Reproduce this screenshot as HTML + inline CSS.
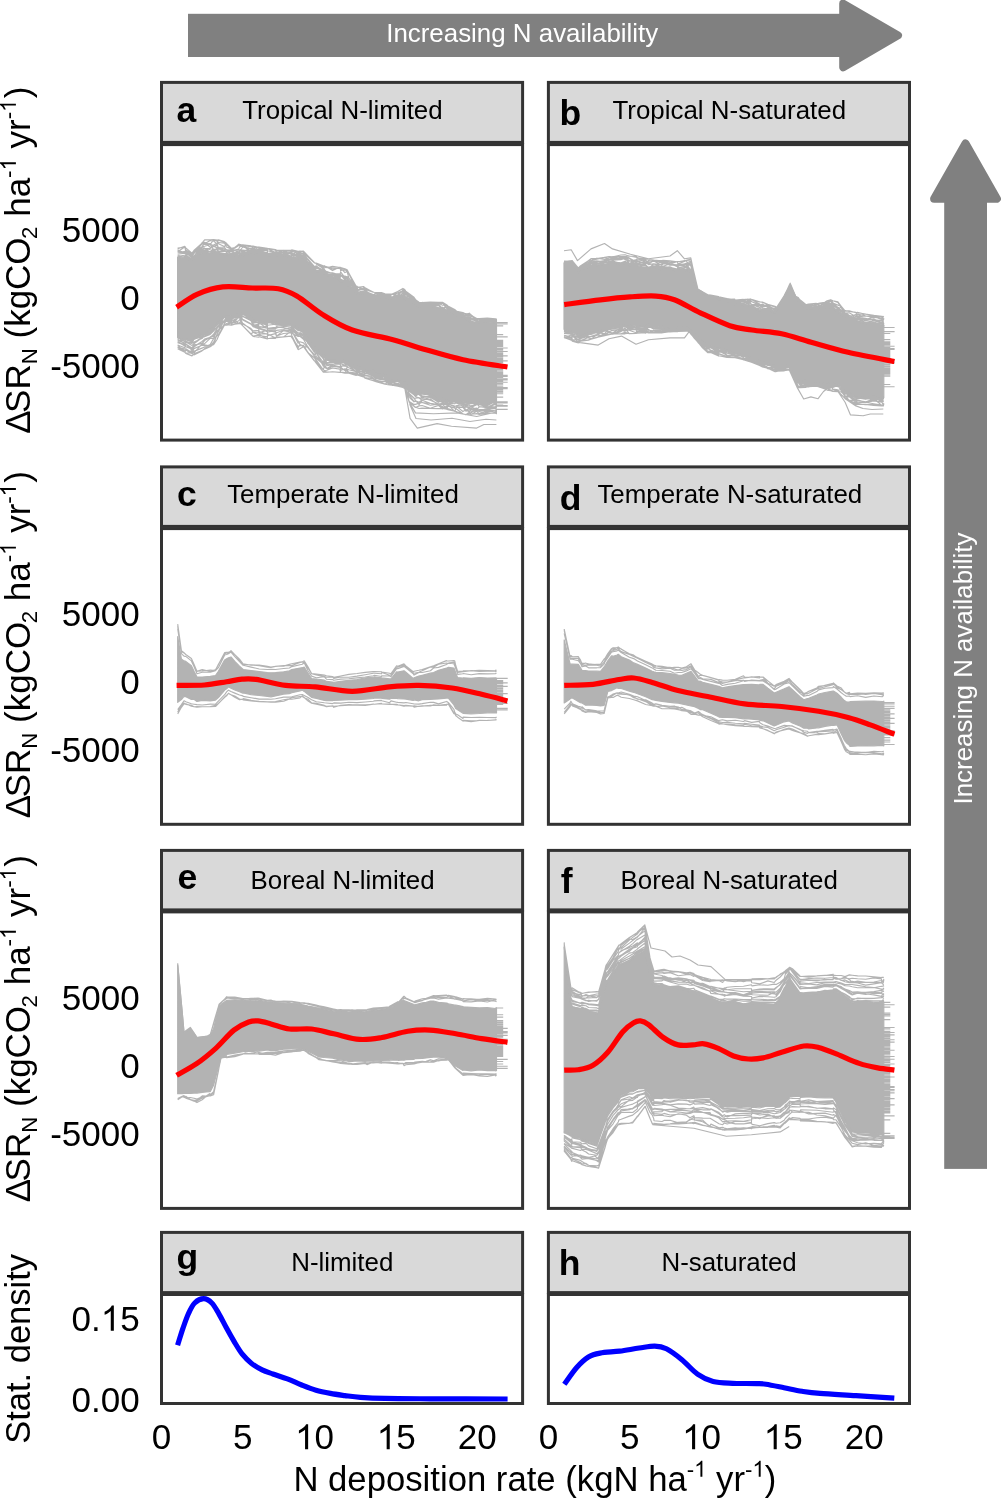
<!DOCTYPE html>
<html><head><meta charset="utf-8"><title>Figure</title>
<style>html,body{margin:0;padding:0;background:#fff}svg{display:block;will-change:transform}text{font-family:"Liberation Sans", sans-serif;fill:#000}</style></head><body>
<svg width="1001" height="1499" viewBox="0 0 1001 1499">
<rect width="1001" height="1499" fill="#fff"/>
<rect x="188" y="13.8" width="655" height="43.2" fill="#808080"/>
<path d="M843.2 3.6L898 35.4L843.2 67.2Z" fill="#808080" stroke="#808080" stroke-width="8" stroke-linejoin="round"/>
<text x="522.2" y="41.8" font-size="25.9" text-anchor="middle" style="fill:#fff">Increasing N availability</text>
<rect x="944.2" y="198" width="42.8" height="970.9" fill="#808080"/>
<path d="M965.5 143.5L996.9 198.7L934.1 198.7Z" fill="#808080" stroke="#808080" stroke-width="8" stroke-linejoin="round"/>
<text transform="translate(972.3 668.5) rotate(-90)" font-size="25.9" text-anchor="middle" style="fill:#fff">Increasing N availability</text>
<g id="panel-a">
<rect x="161.5" y="144.6" width="361.1" height="295.5" fill="#fff"/>
<path d="M177.6 257L184.8 259.1L185.8 258.8L192 259.7L193.9 258.8L202 252.5L204.6 251.7L210.2 253.4L213.6 251.9L217.2 252.1L218.4 253.3L224.4 253.7L226.5 254.1L231.5 254.7L234.7 256L238.7 256.3L240.5 254.2L242.8 254.9L251 252.8L253.1 253.2L258.5 252.8L259.1 254.4L267.3 254L267.5 255.5L275.4 256L276.5 255.7L283.6 254L290.9 256.5L291.7 257.1L298.1 258.1L299.9 256.8L303.5 258.3L308 262.4L314.3 268.8L316.2 271.4L323.3 272.7L324.3 273.9L326.9 275.8L332.5 276.5L340 279.7L340.6 280.3L344.9 283.1L347.2 283.4L348.8 285.7L356.2 292.4L356.9 290.1L358 293.2L363.4 293.6L365.1 293.2L373.2 297.4L376 296.7L381.4 295.8L385 297.6L389.5 298.8L392.1 298.5L397.7 298L402.9 295.9L404.7 297.8L405.8 299.3L409.2 299.6L414 303.6L415.5 304L419.1 306.9L422.1 305.9L430.3 307.1L438.4 308.1L442.5 309.5L446.6 311.7L447.9 310L454.7 313.9L456.9 316.3L462.9 316.4L465.9 319.1L469.5 321L471 322.4L476.7 322.2L479.2 321.4L487.3 321.9L495.5 322.6L496.4 324.4L496.5 322.5L496.5 402.4L496.4 401.1L495.5 401.5L487.3 404.5L479.2 402.9L476.7 402.6L471 402.9L469.5 402.6L465.9 402.6L462.9 401.6L456.9 401.1L454.7 400.5L447.9 400.3L446.6 400.9L442.5 399L438.4 399.4L430.3 395.2L422.1 394L419.1 393.1L415.5 393.1L414 391.6L409.2 389.7L405.8 384.3L404.7 383.9L402.9 383.2L397.7 381.5L392.1 380.9L389.5 379.7L385 375.4L381.4 375.8L376 374.6L373.2 372.2L365.1 371L363.4 368L358 368.7L356.9 365.4L356.2 367.5L348.8 363.1L347.2 361.7L344.9 362.5L340.6 360.4L340 360.8L332.5 360.2L326.9 360.4L324.3 356.6L323.3 356.9L316.2 349L314.3 347.5L308 339L303.5 332.1L299.9 330.3L298.1 329.6L291.7 325.5L290.9 325.1L283.6 325L276.5 324.1L275.4 323.2L267.5 322.2L267.3 325.1L259.1 322.3L258.5 321.2L253.1 320.5L251 317.8L242.8 314L240.5 314.8L238.7 313.5L234.7 315.7L231.5 315.5L226.5 317.1L224.4 316L218.4 322.9L217.2 323.5L213.6 327.7L210.2 331.6L204.6 333.5L202 335.5L193.9 339.3L192 341.3L185.8 339.8L184.8 340L177.6 337.6Z" fill="#b3b3b3" stroke="#b3b3b3" stroke-width="1.2" stroke-linejoin="round"/>
<path d="M177.6 248.7L184.8 246.4L185.8 247.9L192 253.1L193.9 250.5L202 243.1L204.6 239.9L210.2 239.9L213.6 239.5L217.2 240.1L218.4 239.9L224.4 241.6L226.5 243.3L231.5 248.3L234.7 247.6L238.7 244.1L240.5 244.8L242.8 244.9L251 245.9L253.1 246.1L258.5 247.4L259.1 247L267.3 248.3L267.5 248.5L275.4 250.2L276.5 250.1L283.6 250.4L290.9 250.3L291.7 249.9L298.1 251.4L299.9 251.5L303.5 251.1L308 256.1L314.3 262.8L316.2 263.5L323.3 266.1L324.3 265.7L326.9 267.7L332.5 266.4L340 267.6L340.6 267.6L344.9 268.9L347.2 269.9L348.8 272.9L356.2 286.4L356.9 286.2L358 287.4L363.4 286.5L365.1 287.8L373.2 292.3L376 292.5L381.4 292.5L385 293.9L389.5 294.1L392.1 294.1L397.7 291.4L402.9 288.4L404.7 289.5L405.8 291.1L409.2 293.6L414 297.2L415.5 299.6L419.1 302.3L422.1 302.6L430.3 302L438.4 302.4L442.5 302.3L446.6 304.7L447.9 306L454.7 309.5L456.9 311.4L462.9 312.7L465.9 314.1L469.5 313.2L471 315.3L476.7 318.4L479.2 318.5L487.3 318L495.5 318.7L496.4 319.4L496.5 319M177.6 348.7L184.8 352.2L185.8 353.4L192 355.9L193.9 353.8L202 350.6L204.6 348.6L210.2 345.2L213.6 344.8L217.2 339.2L218.4 336.3L224.4 324.7L226.5 324.6L231.5 325.1L234.7 324.2L238.7 323.7L240.5 323.5L242.8 325.8L251 334.4L253.1 336.4L258.5 337.2L259.1 336.7L267.3 339L267.5 338.5L275.4 338.4L276.5 337.1L283.6 336.9L290.9 336.1L291.7 336.8L298.1 349.6L299.9 348.8L303.5 346.7L308 353L314.3 360.8L316.2 361.8L323.3 372.2L324.3 372.1L326.9 372.2L332.5 371.7L340 372.3L340.6 372.3L344.9 373.1L347.2 373.1L348.8 373.3L356.2 375.5L356.9 374.6L358 374.9L363.4 376L365.1 378.3L373.2 380.6L376 381.6L381.4 383.2L385 384.2L389.5 385L392.1 385.3L397.7 386.3L402.9 387.4L404.7 388.5L405.8 391.5L409.2 402.1L414 405.9L415.5 407.2L419.1 408.5L422.1 408.1L430.3 408.4L438.4 408.6L442.5 408.4L446.6 409.2L447.9 409.7L454.7 411.1L456.9 411.9L462.9 413.7L465.9 414.8L469.5 413.7L471 414.3L476.7 413.6L479.2 414.4L487.3 413.1L495.5 413.2L496.4 413.7L496.5 412.7M177.6 256.2L184.8 257.8L185.8 259.4L192 260.5L193.9 257.7L202 251L204.6 250.9L210.2 254.4L213.6 249.5L217.2 252.7L218.4 252.5L224.4 254.6L226.5 253.3L231.5 254.4L234.7 254.4L238.7 255.2L240.5 254.9L242.8 254.7L251 252L253.1 252L258.5 251L259.1 253.8L267.3 253.6L267.5 254.9L275.4 255.5L276.5 254.5L283.6 253.8L290.9 256.1L291.7 257.8L298.1 259.3L299.9 256.4L303.5 257.3L308 262L314.3 267.9L316.2 270.4L323.3 272.2L324.3 272.2L326.9 275.4L332.5 275.3L340 278.9L340.6 279L344.9 281.7L347.2 282.2L348.8 284.8L356.2 291.6L356.9 290.1L358 293L363.4 292.3L365.1 293.1L373.2 296.1L376 296L381.4 295.4L385 295.7L389.5 298.7L392.1 298.4L397.7 297.6L402.9 295.5L404.7 297.3L405.8 298.4L409.2 299.2L414 302.9L415.5 303.8L419.1 305.7L422.1 305.9L430.3 307L438.4 307.7L442.5 308.7L446.6 312L447.9 308.6L454.7 314.2L456.9 316.5L462.9 316.5L465.9 319.1L469.5 320.4L471 322.2L476.7 322.7L479.2 321.7L487.3 322.1L495.5 321.2L496.4 324.7L496.5 323.4M177.6 256.7L184.8 256.7L185.8 258.5L192 258.4L193.9 258.9L202 252.4L204.6 251.8L210.2 253.8L213.6 251.7L217.2 251.8L218.4 252.2L224.4 253.6L226.5 255.3L231.5 256.1L234.7 256.7L238.7 256.8L240.5 253.7L242.8 256L251 252.7L253.1 253.1L258.5 252.4L259.1 254.4L267.3 253.6L267.5 255.4L275.4 254.9L276.5 255.1L283.6 255.8L290.9 256.1L291.7 256.5L298.1 258.3L299.9 257.4L303.5 257.2L308 262.1L314.3 269.5L316.2 271.8L323.3 272.8L324.3 275.4L326.9 275.6L332.5 277L340 279.9L340.6 282.2L344.9 282.2L347.2 283.6L348.8 286L356.2 293.1L356.9 290.8L358 294.7L363.4 292.6L365.1 294.1L373.2 297.4L376 296.3L381.4 296.3L385 296.9L389.5 297.1L392.1 298.3L397.7 296.8L402.9 295.4L404.7 298L405.8 299.5L409.2 300.9L414 303.3L415.5 302.5L419.1 306.1L422.1 304.9L430.3 305.9L438.4 308.3L442.5 308.7L446.6 309.8L447.9 310.3L454.7 313.6L456.9 316.5L462.9 316.4L465.9 319.5L469.5 321.1L471 323.4L476.7 322.5L479.2 321.7L487.3 322.3L495.5 321.3L496.4 324.1L496.5 322.1M177.6 255.5L184.8 258.6L185.8 257.3L192 258.8L193.9 257.1L202 252.1L204.6 251.8L210.2 254.1L213.6 251.7L217.2 252.9L218.4 253.3L224.4 253.5L226.5 254.5L231.5 255.2L234.7 255.2L238.7 255.4L240.5 253.7L242.8 254.5L251 251.8L253.1 254L258.5 252.3L259.1 254.7L267.3 253.4L267.5 256.1L275.4 256.6L276.5 255.7L283.6 256L290.9 257.1L291.7 259L298.1 259.4L299.9 256.5L303.5 258.4L308 263.1L314.3 269.2L316.2 271.9L323.3 272.8L324.3 272.6L326.9 276.1L332.5 275L340 280.7L340.6 280.3L344.9 283.2L347.2 283.9L348.8 286.7L356.2 291.3L356.9 288.7L358 292.6L363.4 291.9L365.1 292.5L373.2 299L376 295.9L381.4 296.4L385 296.4L389.5 299.3L392.1 298.4L397.7 298.2L402.9 296.8L404.7 299.5L405.8 299.5L409.2 299.6L414 302.7L415.5 304.5L419.1 306.5L422.1 306.5L430.3 306.7L438.4 309.3L442.5 307.2L446.6 311L447.9 310.5L454.7 313.2L456.9 315.1L462.9 315.8L465.9 317.3L469.5 320.4L471 323.9L476.7 322.9L479.2 320.3L487.3 320.9L495.5 321.9L496.4 324.8L496.5 321.5M177.6 257.2L184.8 257.4L185.8 255.8L192 259.6L193.9 259.3L202 251.1L204.6 250.4L210.2 252.2L213.6 251.6L217.2 251.9L218.4 253.2L224.4 253.5L226.5 254.2L231.5 255.3L234.7 255.3L238.7 253.2L240.5 252.8L242.8 254.1L251 251.8L253.1 253.3L258.5 252L259.1 253L267.3 255.1L267.5 255.8L275.4 255.9L276.5 256.3L283.6 254.8L290.9 256.3L291.7 254.4L298.1 257.1L299.9 256.1L303.5 257L308 262.2L314.3 269.7L316.2 270.8L323.3 271.3L324.3 275.2L326.9 275.2L332.5 274.5L340 278.2L340.6 279.4L344.9 280.9L347.2 281.8L348.8 282.8L356.2 290.5L356.9 289.7L358 292.9L363.4 291.9L365.1 292.6L373.2 296.2L376 298.8L381.4 294.7L385 298.3L389.5 298L392.1 297.7L397.7 297.7L402.9 295.6L404.7 297.8L405.8 298.2L409.2 297.9L414 302.1L415.5 303.5L419.1 306.6L422.1 306.5L430.3 306.7L438.4 308L442.5 309.5L446.6 310.5L447.9 307.7L454.7 312L456.9 313.9L462.9 317.2L465.9 317L469.5 320.8L471 321.7L476.7 323.3L479.2 322.1L487.3 321.5L495.5 321.9L496.4 323.7L496.5 322.3M177.6 256.5L184.8 257.3L185.8 259.5L192 258.2L193.9 257.9L202 249L204.6 248.7L210.2 251.9L213.6 249L217.2 250.3L218.4 251.2L224.4 250.3L226.5 251.7L231.5 253.3L234.7 254.3L238.7 255.7L240.5 253.3L242.8 252.8L251 250.8L253.1 252.5L258.5 251.7L259.1 253.9L267.3 255.5L267.5 254.7L275.4 254.7L276.5 254.3L283.6 252.1L290.9 253.9L291.7 254L298.1 255.3L299.9 254.7L303.5 256.7L308 260L314.3 266.6L316.2 267.4L323.3 272L324.3 271.6L326.9 274.5L332.5 274.1L340 277.3L340.6 275.6L344.9 278.9L347.2 282L348.8 281L356.2 292.2L356.9 291.2L358 292.4L363.4 293.3L365.1 293.6L373.2 295.6L376 296.4L381.4 294.4L385 296.2L389.5 297.2L392.1 297.6L397.7 296.8L402.9 294.8L404.7 294.6L405.8 299.7L409.2 299.8L414 303.3L415.5 302.7L419.1 306L422.1 305.9L430.3 306.7L438.4 305.4L442.5 309L446.6 313.7L447.9 307.2L454.7 314.3L456.9 316L462.9 315.5L465.9 319.5L469.5 319L471 321.7L476.7 323.3L479.2 320.7L487.3 321.1L495.5 322.1L496.4 323L496.5 323.5M177.6 256.1L184.8 257.1L185.8 255.7L192 259.9L193.9 257.2L202 250.7L204.6 248.3L210.2 249.7L213.6 250.4L217.2 248.3L218.4 251.3L224.4 251.5L226.5 251.8L231.5 250.4L234.7 253.5L238.7 254L240.5 250.6L242.8 251.9L251 247.9L253.1 251.8L258.5 250.1L259.1 253.1L267.3 249.8L267.5 253.7L275.4 253.6L276.5 254.8L283.6 251.7L290.9 253.6L291.7 257.3L298.1 254.9L299.9 253.9L303.5 255.8L308 259.4L314.3 268.2L316.2 270.9L323.3 269.7L324.3 269.3L326.9 274.1L332.5 274.3L340 275.5L340.6 276.1L344.9 276L347.2 277L348.8 278L356.2 288.3L356.9 289.9L358 289.6L363.4 293.5L365.1 291.2L373.2 294.5L376 296.4L381.4 297.1L385 296.9L389.5 295.8L392.1 297.5L397.7 297.5L402.9 293L404.7 294.8L405.8 298L409.2 297.9L414 300.6L415.5 302.1L419.1 304.5L422.1 305.1L430.3 305.8L438.4 307.6L442.5 307.8L446.6 307.8L447.9 309.3L454.7 313.8L456.9 315.6L462.9 316.6L465.9 317.3L469.5 318.2L471 321.9L476.7 320.2L479.2 318.5L487.3 322.4L495.5 321L496.4 322.6L496.5 320M177.6 254.7L184.8 255.8L185.8 255.1L192 259.2L193.9 258L202 248.8L204.6 248.1L210.2 252.1L213.6 251.1L217.2 249L218.4 248.9L224.4 250.8L226.5 251.3L231.5 251.5L234.7 253.8L238.7 252.2L240.5 250.1L242.8 253.7L251 250.2L253.1 251.4L258.5 252.3L259.1 253.4L267.3 252.1L267.5 253.6L275.4 252.9L276.5 255.9L283.6 253.6L290.9 253.2L291.7 255.2L298.1 256.7L299.9 255.4L303.5 258.3L308 262.1L314.3 266.2L316.2 268.8L323.3 269.1L324.3 271.9L326.9 273.6L332.5 277.5L340 277L340.6 275.1L344.9 278.8L347.2 280.9L348.8 281.6L356.2 290.3L356.9 289.1L358 292.7L363.4 292.8L365.1 291.4L373.2 298L376 295.8L381.4 295L385 295.4L389.5 297.1L392.1 298.7L397.7 295.1L402.9 294.7L404.7 297.7L405.8 297.5L409.2 299L414 301.1L415.5 304.6L419.1 307.2L422.1 305.4L430.3 303.9L438.4 305.5L442.5 308.9L446.6 311.9L447.9 309.4L454.7 314.2L456.9 314.1L462.9 314.9L465.9 317.3L469.5 319.4L471 318L476.7 322.1L479.2 322.1L487.3 319.6L495.5 319.9L496.4 323.1L496.5 320.6M177.6 252L184.8 252.8L185.8 253L192 257.8L193.9 258.9L202 247.3L204.6 248.3L210.2 248.5L213.6 246.3L217.2 247.9L218.4 248.6L224.4 249.2L226.5 252.7L231.5 249.8L234.7 252.9L238.7 251.8L240.5 249.5L242.8 250.5L251 250.8L253.1 249.9L258.5 250.7L259.1 251.8L267.3 249.1L267.5 254.5L275.4 256.1L276.5 254.2L283.6 253.7L290.9 252.1L291.7 254.2L298.1 254.2L299.9 253.8L303.5 257.1L308 259.2L314.3 266.6L316.2 266.3L323.3 270.3L324.3 271.7L326.9 272.8L332.5 272.9L340 279.1L340.6 274.9L344.9 277.9L347.2 278.2L348.8 284.1L356.2 293.7L356.9 289.6L358 290.7L363.4 291.3L365.1 293L373.2 294.5L376 297.5L381.4 296.8L385 296.3L389.5 298.2L392.1 298L397.7 297.8L402.9 292.7L404.7 297.3L405.8 296.7L409.2 296.8L414 302.1L415.5 302.3L419.1 304.3L422.1 302.6L430.3 304.2L438.4 307.9L442.5 309.4L446.6 310.3L447.9 310.1L454.7 311.8L456.9 314.4L462.9 315.3L465.9 315.7L469.5 317.2L471 319.6L476.7 320.3L479.2 319L487.3 321.3L495.5 321L496.4 323.6L496.5 321.2M177.6 253L184.8 253.7L185.8 254.1L192 255.8L193.9 252.3L202 246.7L204.6 242.3L210.2 247.2L213.6 246.4L217.2 244.4L218.4 247.8L224.4 249.2L226.5 249.6L231.5 254.4L234.7 254.3L238.7 249.4L240.5 251L242.8 250.4L251 250L253.1 251L258.5 248.8L259.1 249.6L267.3 249.9L267.5 250.8L275.4 252.7L276.5 250.7L283.6 250.7L290.9 254.3L291.7 253.7L298.1 255.3L299.9 251.8L303.5 254.6L308 259.3L314.3 266.6L316.2 267.6L323.3 271.3L324.3 270.8L326.9 272.6L332.5 273.1L340 276L340.6 275.2L344.9 279.9L347.2 279L348.8 281L356.2 290.4L356.9 289.6L358 292.2L363.4 292.4L365.1 291.6L373.2 296.3L376 295.4L381.4 296.6L385 296L389.5 294.1L392.1 298.4L397.7 295L402.9 290.9L404.7 293.6L405.8 293.7L409.2 299.8L414 301L415.5 299.3L419.1 304.7L422.1 303.1L430.3 307.2L438.4 303.7L442.5 302.8L446.6 308.1L447.9 307.2L454.7 311.2L456.9 311.2L462.9 315L465.9 318.6L469.5 314.8L471 320.1L476.7 319.1L479.2 322.8L487.3 320.5L495.5 320.1L496.4 323.3L496.5 321.6M177.6 249.8L184.8 253.3L185.8 253.2L192 257.6L193.9 256.2L202 246.8L204.6 246.2L210.2 244.5L213.6 249.9L217.2 249L218.4 247.5L224.4 247L226.5 250.3L231.5 249.2L234.7 250.7L238.7 252L240.5 250.1L242.8 250L251 251.6L253.1 248.6L258.5 250.6L259.1 250.2L267.3 250.5L267.5 253.5L275.4 252L276.5 256.2L283.6 251.4L290.9 257.3L291.7 252.9L298.1 255.9L299.9 252.7L303.5 253.3L308 259.5L314.3 267.1L316.2 265.8L323.3 271.6L324.3 269.4L326.9 272.7L332.5 272.9L340 275L340.6 271.9L344.9 277.7L347.2 276.6L348.8 277.9L356.2 287.8L356.9 287L358 287.3L363.4 290L365.1 289.4L373.2 292.1L376 293.7L381.4 296.8L385 295.1L389.5 295.2L392.1 298.2L397.7 294.7L402.9 291.2L404.7 291.8L405.8 291.4L409.2 294.1L414 299L415.5 300.4L419.1 304.3L422.1 304.2L430.3 304.5L438.4 304.8L442.5 303.3L446.6 305.2L447.9 306.5L454.7 309.9L456.9 312.2L462.9 313.7L465.9 313.6L469.5 315.4L471 318.1L476.7 320.2L479.2 318.7L487.3 320.9L495.5 320.3L496.4 319.9L496.5 320.6M177.6 253.2L184.8 251.3L185.8 250.7L192 255.5L193.9 253.1L202 246.7L204.6 243.7L210.2 240.6L213.6 241L217.2 244.1L218.4 242.5L224.4 243.1L226.5 247L231.5 249.1L234.7 248.3L238.7 245.6L240.5 244.6L242.8 247L251 246.1L253.1 246.4L258.5 247.1L259.1 248.5L267.3 248.6L267.5 248.7L275.4 249.6L276.5 250.1L283.6 250.2L290.9 251.4L291.7 251.9L298.1 251.7L299.9 254.8L303.5 252.5L308 257L314.3 262.9L316.2 263.1L323.3 267.2L324.3 268.1L326.9 266.9L332.5 268.9L340 268.1L340.6 269.2L344.9 270.2L347.2 269.8L348.8 272.9L356.2 290.9L356.9 288L358 287L363.4 289.1L365.1 288.1L373.2 291.9L376 293.3L381.4 293.6L385 294.8L389.5 294.6L392.1 294.3L397.7 293.1L402.9 291.1L404.7 290.3L405.8 293L409.2 294.3L414 298.1L415.5 299.8L419.1 303.4L422.1 303.1L430.3 302.5L438.4 304L442.5 308.7L446.6 305.8L447.9 305.9L454.7 311.7L456.9 313.7L462.9 314.5L465.9 313.5L469.5 318.6L471 316.5L476.7 318.4L479.2 318.5L487.3 319.6L495.5 321.3L496.4 321.7L496.5 320.1M177.6 250.6L184.8 252.2L185.8 252.1L192 256.4L193.9 253.7L202 243.8L204.6 244.4L210.2 243.6L213.6 246.6L217.2 245.5L218.4 248L224.4 248.7L226.5 249.9L231.5 251.4L234.7 250.5L238.7 250.2L240.5 250L242.8 247L251 249.1L253.1 253.3L258.5 249L259.1 249.3L267.3 249.1L267.5 248.4L275.4 254L276.5 252.1L283.6 252L290.9 256.2L291.7 257.8L298.1 252.6L299.9 255.7L303.5 255.2L308 259.2L314.3 266.4L316.2 266.8L323.3 271.8L324.3 270.9L326.9 271.5L332.5 273.5L340 273.9L340.6 274.7L344.9 276.3L347.2 277.9L348.8 280L356.2 289.7L356.9 287.1L358 289.7L363.4 289L365.1 290.8L373.2 295.2L376 293.3L381.4 294.6L385 296.6L389.5 296.4L392.1 294.3L397.7 296L402.9 290.2L404.7 290.8L405.8 292.3L409.2 295.9L414 301.5L415.5 302.8L419.1 304.3L422.1 302.4L430.3 303.1L438.4 303.2L442.5 305.2L446.6 305.2L447.9 308L454.7 312.7L456.9 313L462.9 314.7L465.9 313.5L469.5 313.9L471 315.3L476.7 321L479.2 320.9L487.3 318.9L495.5 322.3L496.4 320.2L496.5 322.5L507.7 322.5M177.6 248L184.8 247.3L185.8 249.6L192 254.1L193.9 256.9L202 242.7L204.6 243.6L210.2 244.5L213.6 239.9L217.2 241.3L218.4 243.8L224.4 246.6L226.5 243.8L231.5 248.9L234.7 250L238.7 249L240.5 245.2L242.8 245L251 249.1L253.1 246.7L258.5 249.6L259.1 247.6L267.3 248.4L267.5 248.4L275.4 252.4L276.5 252.7L283.6 250.2L290.9 250.5L291.7 254.8L298.1 251.3L299.9 251L303.5 251.2L308 255.9L314.3 262.7L316.2 263.1L323.3 265.7L324.3 266L326.9 267.5L332.5 267L340 267.2L340.6 267.9L344.9 272.6L347.2 271.4L348.8 273.7L356.2 288.5L356.9 288.2L358 289.8L363.4 288.4L365.1 291.7L373.2 295.3L376 293.7L381.4 293.6L385 296.1L389.5 295.8L392.1 294.3L397.7 291.4L402.9 288.8L404.7 292.2L405.8 293.5L409.2 296.6L414 298.1L415.5 301.9L419.1 302.3L422.1 303.6L430.3 303.8L438.4 302.7L442.5 302.8L446.6 305.2L447.9 305.9L454.7 309.9L456.9 312.1L462.9 312.9L465.9 315.4L469.5 315.6L471 314.8L476.7 319.4L479.2 318.5L487.3 320.4L495.5 320.1L496.4 319L496.5 319.4M177.6 251.7L184.8 247.1L185.8 251L192 253.4L193.9 251.4L202 243.8L204.6 242.3L210.2 244.7L213.6 245.1L217.2 243L218.4 240.2L224.4 242.1L226.5 244.7L231.5 248.9L234.7 247.4L238.7 244.4L240.5 246.7L242.8 245.9L251 252.1L253.1 248.3L258.5 247.1L259.1 249.2L267.3 248.4L267.5 248.4L275.4 249.6L276.5 253.3L283.6 251.7L290.9 250.5L291.7 250.8L298.1 253.7L299.9 253L303.5 252.8L308 255.9L314.3 262.4L316.2 263.9L323.3 268.5L324.3 266L326.9 266.9L332.5 270.6L340 267.2L340.6 270.7L344.9 269L347.2 271.8L348.8 277.8L356.2 289.5L356.9 289.2L358 287L363.4 287L365.1 290.3L373.2 295.9L376 296.8L381.4 298.5L385 295.2L389.5 295.4L392.1 297.2L397.7 292.9L402.9 290.9L404.7 290.3L405.8 294.9L409.2 294.1L414 299.9L415.5 299.3L419.1 305.6L422.1 302.4L430.3 305.3L438.4 302.7L442.5 303L446.6 308.5L447.9 305.9L454.7 310.3L456.9 311.2L462.9 312.5L465.9 314L469.5 314.8L471 314.8L476.7 319.5L479.2 318.5L487.3 318.7L495.5 319L496.4 319L496.5 323.9L507.7 323.9M177.6 338.2L184.8 339.3L185.8 338.8L192 341.9L193.9 338.1L202 333.6L204.6 333.8L210.2 330.4L213.6 326.9L217.2 323.5L218.4 321.6L224.4 316.2L226.5 316.1L231.5 316.3L234.7 316.4L238.7 312.6L240.5 314.3L242.8 313.1L251 317.4L253.1 320.7L258.5 319.3L259.1 322.3L267.3 323.3L267.5 320.6L275.4 321L276.5 325.1L283.6 324.5L290.9 325L291.7 324.7L298.1 329.5L299.9 327.7L303.5 331.4L308 340.2L314.3 346.6L316.2 348.3L323.3 356.7L324.3 355.2L326.9 359.9L332.5 360.4L340 360.4L340.6 360.1L344.9 361.8L347.2 361.4L348.8 362.7L356.2 368.4L356.9 365.5L358 368.2L363.4 365.6L365.1 371.3L373.2 372.4L376 373.6L381.4 373.8L385 374.1L389.5 380.3L392.1 380L397.7 381.1L402.9 383.2L404.7 384.9L405.8 384.1L409.2 389.4L414 391L415.5 394.4L419.1 394.4L422.1 393.7L430.3 394.3L438.4 398.7L442.5 399.4L446.6 400.6L447.9 401.5L454.7 401.2L456.9 401.4L462.9 402.4L465.9 403.2L469.5 402.5L471 402.7L476.7 404.5L479.2 401.7L487.3 404L495.5 402.4L496.4 401.3L496.5 401.9L507.7 401.9M177.6 337.4L184.8 341.7L185.8 338.9L192 340.5L193.9 338.9L202 335.8L204.6 334L210.2 332.1L213.6 328.5L217.2 325.2L218.4 323.1L224.4 315.6L226.5 316.6L231.5 317.7L234.7 314.1L238.7 313.5L240.5 316.1L242.8 314.7L251 317.4L253.1 321L258.5 322.5L259.1 323.6L267.3 324.3L267.5 322.8L275.4 322.9L276.5 324.5L283.6 325.8L290.9 324.5L291.7 323.7L298.1 328.9L299.9 330.9L303.5 331.9L308 338.5L314.3 348.9L316.2 347.6L323.3 357.1L324.3 355.4L326.9 359.9L332.5 359.7L340 361.5L340.6 359L344.9 361.6L347.2 359.8L348.8 363L356.2 366.8L356.9 365.3L358 367.5L363.4 367.3L365.1 371.5L373.2 371.6L376 374.8L381.4 375.9L385 374.7L389.5 378.2L392.1 381.5L397.7 381.4L402.9 383.8L404.7 382.1L405.8 382.5L409.2 387.2L414 390.1L415.5 393.4L419.1 393.1L422.1 393.6L430.3 395L438.4 400L442.5 398.7L446.6 401L447.9 400.3L454.7 398.6L456.9 400.9L462.9 402.9L465.9 402L469.5 402.4L471 402.8L476.7 402.8L479.2 404.3L487.3 404.6L495.5 401L496.4 398.7L496.5 402.3L507.7 402.3M177.6 337.4L184.8 341.2L185.8 341.2L192 343L193.9 339.2L202 336.6L204.6 335.6L210.2 332.9L213.6 329.9L217.2 322.9L218.4 323.7L224.4 315.7L226.5 317.4L231.5 315.9L234.7 316.2L238.7 313L240.5 315L242.8 313L251 316.5L253.1 320.6L258.5 320.7L259.1 320.6L267.3 324L267.5 321.8L275.4 324.8L276.5 325L283.6 325.8L290.9 323.8L291.7 325.7L298.1 330.6L299.9 330.5L303.5 332.8L308 339.3L314.3 349.4L316.2 350.8L323.3 357.6L324.3 356.9L326.9 363L332.5 360.4L340 362.7L340.6 363.1L344.9 362.5L347.2 362.7L348.8 363.4L356.2 368.2L356.9 366L358 370.7L363.4 368.9L365.1 371.1L373.2 373.4L376 374.4L381.4 375.4L385 377.5L389.5 378.9L392.1 380.4L397.7 381.4L402.9 382.1L404.7 381.9L405.8 385L409.2 388.6L414 390.8L415.5 392.6L419.1 392L422.1 392.9L430.3 395.5L438.4 401.7L442.5 399.9L446.6 402L447.9 399.3L454.7 400.9L456.9 400.5L462.9 402.9L465.9 403L469.5 403.6L471 403.6L476.7 402.7L479.2 402.1L487.3 405.7L495.5 401.3L496.4 400.9L496.5 403M177.6 339.7L184.8 341.2L185.8 342.6L192 342.3L193.9 342.8L202 337.3L204.6 336.3L210.2 334L213.6 328.7L217.2 325L218.4 322.9L224.4 316.7L226.5 319L231.5 320L234.7 317.1L238.7 314.5L240.5 314.8L242.8 316.8L251 318.4L253.1 321.7L258.5 323.2L259.1 322.7L267.3 328.6L267.5 325.2L275.4 324.3L276.5 325L283.6 324.6L290.9 324.5L291.7 327.2L298.1 333L299.9 333.4L303.5 334.7L308 340.7L314.3 349.7L316.2 349.3L323.3 358.8L324.3 359.9L326.9 363.6L332.5 361.9L340 362.5L340.6 363.5L344.9 365.8L347.2 362.2L348.8 364.4L356.2 368.6L356.9 368L358 368.9L363.4 369.9L365.1 371.7L373.2 375.7L376 376.1L381.4 376.9L385 376.8L389.5 381.8L392.1 382.4L397.7 381.3L402.9 384L404.7 383L405.8 384.4L409.2 390.3L414 392.1L415.5 394.1L419.1 393.7L422.1 395.8L430.3 397.1L438.4 400.3L442.5 398.7L446.6 402.6L447.9 399.6L454.7 400.1L456.9 403.4L462.9 403.8L465.9 404.5L469.5 403.6L471 402.8L476.7 403.3L479.2 404.4L487.3 404.4L495.5 401.9L496.4 401.3L496.5 402.8L507.7 402.8M177.6 340.5L184.8 343L185.8 342.4L192 343.4L193.9 342L202 338.5L204.6 335.7L210.2 329.1L213.6 328.2L217.2 323.8L218.4 323.5L224.4 316.5L226.5 318.4L231.5 316.7L234.7 315.6L238.7 313.8L240.5 317.1L242.8 314.1L251 319.5L253.1 323.1L258.5 322.4L259.1 321.2L267.3 325.8L267.5 321.7L275.4 323.1L276.5 324.8L283.6 325.6L290.9 325L291.7 326.4L298.1 330.1L299.9 330.8L303.5 332.8L308 339.6L314.3 347.4L316.2 348.6L323.3 357.7L324.3 356.6L326.9 359.6L332.5 362.3L340 360.9L340.6 360.7L344.9 362.6L347.2 362.6L348.8 363.5L356.2 368L356.9 365.3L358 369.9L363.4 367.6L365.1 372.2L373.2 370L376 373.7L381.4 376.9L385 375.6L389.5 379.1L392.1 381.5L397.7 380.7L402.9 383.6L404.7 382L405.8 384.7L409.2 390.4L414 393.3L415.5 395.7L419.1 393.9L422.1 397.8L430.3 396L438.4 398.2L442.5 397.8L446.6 403.4L447.9 401.2L454.7 401.3L456.9 402L462.9 402.2L465.9 406.2L469.5 404.8L471 407.5L476.7 404.8L479.2 402.7L487.3 407.3L495.5 403.3L496.4 403.2L496.5 406.1L507.7 406.1M177.6 339.2L184.8 343.7L185.8 342.1L192 345.4L193.9 343.8L202 337.8L204.6 336.7L210.2 334.4L213.6 331L217.2 326.9L218.4 325.5L224.4 317.1L226.5 319.6L231.5 318.6L234.7 316.4L238.7 315.6L240.5 317L242.8 316.6L251 320.7L253.1 325.2L258.5 325.9L259.1 326.6L267.3 328.3L267.5 328.6L275.4 328.7L276.5 326.6L283.6 328L290.9 329.2L291.7 327.6L298.1 335L299.9 335.2L303.5 335L308 341.9L314.3 348.8L316.2 351.8L323.3 358.2L324.3 363L326.9 364.9L332.5 364.3L340 364.1L340.6 363.6L344.9 365.7L347.2 364.7L348.8 365.6L356.2 367.6L356.9 367.3L358 368.8L363.4 367.8L365.1 370.4L373.2 373.4L376 376.4L381.4 374.7L385 378.3L389.5 381.8L392.1 380.8L397.7 381.3L402.9 383.3L404.7 385.3L405.8 384.4L409.2 389.2L414 393.6L415.5 392.5L419.1 394.7L422.1 397L430.3 397.4L438.4 401.8L442.5 400.9L446.6 403L447.9 401.7L454.7 401.3L456.9 402.8L462.9 403.7L465.9 406.2L469.5 406.7L471 405.9L476.7 404.3L479.2 404.8L487.3 406.6L495.5 406.8L496.4 404.7L496.5 405.3M177.6 341.7L184.8 344.9L185.8 344L192 347.9L193.9 344.9L202 343.8L204.6 340.6L210.2 337L213.6 334.7L217.2 328.2L218.4 326.3L224.4 320.2L226.5 321.2L231.5 321.6L234.7 319.1L238.7 317.2L240.5 317.1L242.8 319.2L251 323.7L253.1 324.3L258.5 326.9L259.1 327.1L267.3 326.4L267.5 328.2L275.4 327.4L276.5 327.1L283.6 327.6L290.9 329.9L291.7 330.4L298.1 335.9L299.9 332.5L303.5 334.3L308 343.7L314.3 349.5L316.2 351.1L323.3 357.7L324.3 361.2L326.9 363.4L332.5 362.6L340 362.8L340.6 361.6L344.9 363.2L347.2 363.6L348.8 363.1L356.2 369.5L356.9 365.6L358 368.3L363.4 370.5L365.1 371.4L373.2 373.6L376 375L381.4 373.9L385 377.1L389.5 378.9L392.1 382.7L397.7 380.2L402.9 381.5L404.7 384.8L405.8 385.7L409.2 391.3L414 392.7L415.5 396.4L419.1 393.6L422.1 396.4L430.3 396.9L438.4 400.9L442.5 402.1L446.6 401.9L447.9 403.1L454.7 403.8L456.9 402L462.9 403.4L465.9 405.1L469.5 405.2L471 406.4L476.7 403.3L479.2 406.7L487.3 407.7L495.5 404.1L496.4 402.7L496.5 405.6L507.7 405.6M177.6 341.8L184.8 346.1L185.8 346.6L192 349.2L193.9 347.1L202 341.6L204.6 340.4L210.2 337.4L213.6 334.2L217.2 328.3L218.4 326.9L224.4 321.8L226.5 319.2L231.5 317.6L234.7 317.3L238.7 316L240.5 317.6L242.8 316.3L251 319.6L253.1 325.2L258.5 324.4L259.1 328L267.3 330.5L267.5 330.3L275.4 330.9L276.5 330.4L283.6 329.5L290.9 327.8L291.7 328.7L298.1 335.7L299.9 334.1L303.5 336.6L308 343.1L314.3 352.2L316.2 352.8L323.3 362.4L324.3 360.1L326.9 363.7L332.5 361.6L340 364.2L340.6 365.8L344.9 366.1L347.2 366.4L348.8 365.8L356.2 371.6L356.9 367.2L358 371.8L363.4 370.9L365.1 371.7L373.2 376.5L376 376.9L381.4 378.7L385 379.1L389.5 381.5L392.1 381.9L397.7 383.6L402.9 384L404.7 385.3L405.8 385.5L409.2 391.3L414 394.9L415.5 396.6L419.1 398L422.1 400.2L430.3 397L438.4 402.3L442.5 399.7L446.6 402.9L447.9 403.1L454.7 401.9L456.9 403.2L462.9 406.2L465.9 407.3L469.5 407L471 406.5L476.7 409.9L479.2 406.8L487.3 406.8L495.5 408.2L496.4 406.9L496.5 406.2L507.7 406.2M177.6 342.6L184.8 345L185.8 344.2L192 350.4L193.9 346.4L202 341.4L204.6 339.1L210.2 337.2L213.6 336.2L217.2 330L218.4 330.2L224.4 315.4L226.5 320.5L231.5 320.2L234.7 321.6L238.7 317.2L240.5 316.1L242.8 319.5L251 324L253.1 325.8L258.5 327.7L259.1 331.5L267.3 334.2L267.5 332.1L275.4 330.5L276.5 336.1L283.6 330.6L290.9 332.1L291.7 330.7L298.1 343.2L299.9 341.8L303.5 342.9L308 347.8L314.3 355.7L316.2 358.2L323.3 364.2L324.3 367.3L326.9 368.7L332.5 366.3L340 367.4L340.6 367.3L344.9 370.5L347.2 369.2L348.8 369.7L356.2 371.6L356.9 369.7L358 372.7L363.4 374.5L365.1 375.4L373.2 378.3L376 380.3L381.4 381.4L385 381.6L389.5 384.2L392.1 384L397.7 384.5L402.9 386.4L404.7 383.8L405.8 390.4L409.2 395.1L414 401.3L415.5 401.3L419.1 402.2L422.1 399.8L430.3 399L438.4 404.8L442.5 402.8L446.6 404.1L447.9 403.8L454.7 406L456.9 406.5L462.9 407.4L465.9 406.2L469.5 408.5L471 409.5L476.7 411.1L479.2 409.7L487.3 409L495.5 408.3L496.4 405.8L496.5 407.3M177.6 345L184.8 347.7L185.8 344.2L192 349.4L193.9 345.8L202 343.2L204.6 343.7L210.2 338.4L213.6 338.1L217.2 330.7L218.4 332L224.4 319.9L226.5 318.6L231.5 317.2L234.7 317.7L238.7 317.9L240.5 318.2L242.8 320.1L251 324.2L253.1 326.7L258.5 328.6L259.1 328.8L267.3 331.6L267.5 329.3L275.4 329.2L276.5 327.9L283.6 326.3L290.9 327.1L291.7 329.8L298.1 332.5L299.9 335.5L303.5 338.1L308 342.9L314.3 350L316.2 356.3L323.3 363.8L324.3 360.5L326.9 365.7L332.5 364.7L340 361.7L340.6 367.7L344.9 363.7L347.2 364.4L348.8 364.8L356.2 369.9L356.9 366.2L358 370.7L363.4 372.6L365.1 373.2L373.2 374.3L376 379.3L381.4 377L385 379.9L389.5 381.1L392.1 382.8L397.7 383.2L402.9 384.8L404.7 385.4L405.8 385.8L409.2 393.5L414 398L415.5 398.3L419.1 397.7L422.1 398.2L430.3 400.2L438.4 403.8L442.5 403.9L446.6 405L447.9 403.9L454.7 406.6L456.9 405.6L462.9 404.5L465.9 410.3L469.5 407.9L471 409.1L476.7 408.1L479.2 411.3L487.3 408.1L495.5 408.8L496.4 407.4L496.5 406.2L507.7 406.2M177.6 347L184.8 352.3L185.8 350.2L192 351.2L193.9 352.8L202 344.1L204.6 344.8L210.2 346L213.6 342.5L217.2 333.8L218.4 330.6L224.4 324.9L226.5 323.5L231.5 322.2L234.7 322.7L238.7 320.8L240.5 318.5L242.8 323.9L251 328.6L253.1 330.8L258.5 330.3L259.1 333.9L267.3 333.9L267.5 335.6L275.4 333.6L276.5 335.9L283.6 333.5L290.9 332.7L291.7 331.2L298.1 340.7L299.9 344.1L303.5 346.9L308 346.7L314.3 356.3L316.2 359.8L323.3 369.9L324.3 366.4L326.9 368.4L332.5 365L340 366.9L340.6 368.5L344.9 370.1L347.2 367.3L348.8 367.8L356.2 371.2L356.9 372.2L358 372.9L363.4 371.3L365.1 375L373.2 377.8L376 377.3L381.4 377.5L385 380.4L389.5 382.7L392.1 384.6L397.7 384L402.9 384L404.7 384.8L405.8 385.5L409.2 394.1L414 398.2L415.5 400.4L419.1 404.6L422.1 400.3L430.3 403.4L438.4 404.6L442.5 407.7L446.6 406.4L447.9 405.5L454.7 408.2L456.9 407.3L462.9 407.4L465.9 411.1L469.5 409.7L471 411.2L476.7 410.9L479.2 410.7L487.3 410.2L495.5 407L496.4 409.2L496.5 409.3M177.6 347L184.8 349L185.8 348.8L192 352.8L193.9 351.4L202 348.1L204.6 347L210.2 344.5L213.6 338.6L217.2 335.5L218.4 335.7L224.4 323.4L226.5 320.9L231.5 323.8L234.7 320.8L238.7 315.3L240.5 320.6L242.8 323.1L251 329.5L253.1 332.1L258.5 332.2L259.1 332.7L267.3 330.1L267.5 330.2L275.4 332.1L276.5 332.7L283.6 330.2L290.9 330.5L291.7 333.2L298.1 336.5L299.9 336.2L303.5 339.3L308 347.3L314.3 354.7L316.2 352.5L323.3 366.2L324.3 364L326.9 368.8L332.5 368L340 369L340.6 370.5L344.9 368.8L347.2 371.2L348.8 372.1L356.2 373.1L356.9 374.9L358 372.4L363.4 375.9L365.1 376L373.2 376.2L376 378.8L381.4 379.8L385 380.2L389.5 383.4L392.1 385.4L397.7 384.6L402.9 386.3L404.7 384.1L405.8 389.8L409.2 401.6L414 404.4L415.5 404.4L419.1 403.1L422.1 402.4L430.3 405.2L438.4 404.1L442.5 404.4L446.6 408.3L447.9 404.7L454.7 411.3L456.9 406.6L462.9 411.5L465.9 409.8L469.5 411.9L471 408.4L476.7 410.8L479.2 409.6L487.3 409.8L495.5 410.7L496.4 412.3L496.5 409.4L507.7 409.4M177.6 347.1L184.8 350.6L185.8 349.9L192 353.7L193.9 348.6L202 345.2L204.6 345.8L210.2 345.9L213.6 342.2L217.2 335.1L218.4 336.3L224.4 325.3L226.5 325.1L231.5 322.6L234.7 323L238.7 323.7L240.5 321.7L242.8 325.8L251 334L253.1 336.1L258.5 335.2L259.1 335.5L267.3 336.8L267.5 338.8L275.4 337.2L276.5 337.1L283.6 336.9L290.9 336.1L291.7 337.5L298.1 346.4L299.9 345.7L303.5 345.2L308 352.6L314.3 357.7L316.2 360.8L323.3 369.8L324.3 370.5L326.9 370.2L332.5 367.9L340 369.3L340.6 372.4L344.9 372.5L347.2 372.1L348.8 372.7L356.2 372.8L356.9 372.3L358 375L363.4 372.8L365.1 375.4L373.2 374.4L376 378.4L381.4 379L385 378.6L389.5 384L392.1 382.5L397.7 384.1L402.9 385.4L404.7 384.9L405.8 391.2L409.2 397.3L414 401.8L415.5 400.7L419.1 402.2L422.1 402.5L430.3 403.5L438.4 404.4L442.5 406.5L446.6 409.2L447.9 406.3L454.7 407.9L456.9 409.2L462.9 413.8L465.9 414.7L469.5 412.8L471 412.8L476.7 409.3L479.2 411.8L487.3 412.2L495.5 410.9L496.4 408.9L496.5 409.2M177.6 344.9L184.8 352.3L185.8 352.8L192 353.2L193.9 354.9L202 350.9L204.6 349.1L210.2 346.8L213.6 344.4L217.2 334L218.4 334.4L224.4 325.3L226.5 325.1L231.5 324.5L234.7 319.9L238.7 323.5L240.5 323.5L242.8 325.8L251 334L253.1 332.3L258.5 334.8L259.1 334.5L267.3 338.8L267.5 333.8L275.4 337.9L276.5 337.8L283.6 336.9L290.9 331.4L291.7 335.2L298.1 347.9L299.9 344.2L303.5 346.4L308 352.4L314.3 360.6L316.2 363.1L323.3 372.1L324.3 371.2L326.9 372.1L332.5 371.8L340 372.4L340.6 372L344.9 372.5L347.2 369.5L348.8 373.3L356.2 374.1L356.9 374.9L358 375.1L363.4 376.9L365.1 377.5L373.2 379L376 381.1L381.4 382.5L385 384.1L389.5 381.7L392.1 385L397.7 385.9L402.9 385.8L404.7 387.3L405.8 388.1L409.2 402.1L414 406.2L415.5 407.5L419.1 405.9L422.1 405.5L430.3 408.3L438.4 405.4L442.5 409L446.6 407.8L447.9 408.6L454.7 411.3L456.9 412L462.9 413.8L465.9 414.7L469.5 411.9L471 414.4L476.7 411.3L479.2 413.9L487.3 410.9L495.5 411.2L496.4 412.9L496.5 411M404.7 387.7L410.1 418.3L417.3 428.1L437.1 423.6L451.5 426.3L476.7 428.1L483.9 424.5L496.4 424.5M409.2 402.1L415.5 412.9L433.5 413.8L456.9 412.9L476.7 416.5L496.4 412M409.6 404L416 418.5L431 420L452 418.2L470 421.5L486 419.2L496.4 420M495.5 325.8H503.2M495.5 334.6H503.2M495.5 336.8H507.7M495.5 340.4H503.2M495.5 341.6H503.2M495.5 342.6H503.2M495.5 343.7H503.2M495.5 344.5H503.2M495.5 345.4H503.2M495.5 346.5H503.2M495.5 348H507.7M495.5 349.1H503.2M495.5 350.1H503.2M495.5 351.5H507.7M495.5 352.7H503.2M495.5 353.9H503.2M495.5 354.8H503.2M495.5 355.8H507.7M495.5 356.8H503.2M495.5 358.2H503.2M495.5 359.2H503.2M495.5 360H503.2M495.5 360.9H507.7M495.5 361.9H503.2M495.5 362.7H503.2M495.5 364.2H503.2M495.5 365H503.2M495.5 366.1H503.2M495.5 367.2H503.2M495.5 368.4H503.2M495.5 369.4H503.2M495.5 370.7H503.2M495.5 372.1H503.2M495.5 373.4H503.2M495.5 374.4H503.2M495.5 375.3H507.7M495.5 376.4H507.7M495.5 377.3H503.2M495.5 378.8H507.7M495.5 379.9H507.7M495.5 381.1H503.2M495.5 382.2H507.7M495.5 383.5H503.2M495.5 384.7H503.2M495.5 386.2H503.2M495.5 387.6H507.7M495.5 388.7H507.7M495.5 389.8H503.2M495.5 391.3H503.2M495.5 392.2H503.2M495.5 393.7H503.2M495.5 397.1H503.2M495.5 402.6H507.7M495.5 405.1H503.2" fill="none" stroke="#b3b3b3" stroke-width="1.15" stroke-linejoin="round"/>
<path d="M176.6 307.2C180 305.1 189.3 297.7 197 294.3C204.7 290.9 213.6 287.9 222.8 286.9C232 285.8 243.2 287.7 252.4 288C261.6 288.3 270.9 287.4 278.3 288.7C285.7 290 289.4 291.7 296.8 296C304.2 300.3 313.5 308.9 322.7 314.6C331.9 320.3 340.5 325.8 352.2 330C363.9 334.2 380.6 336.4 392.9 339.7C405.2 343 414.3 346.4 426 349.7C437.7 353 449.4 356.8 463 359.7C476.6 362.6 500.1 365.8 507.5 367" fill="none" stroke="#ff0000" stroke-width="5.2" stroke-linejoin="round"/>
<rect x="161.5" y="144.6" width="361.1" height="295.5" fill="none" stroke="#333333" stroke-width="3.0"/>
<rect x="161.5" y="82.4" width="361.1" height="60" fill="#d9d9d9" stroke="#333333" stroke-width="3.0"/>
</g>
<g id="panel-b">
<rect x="548.4" y="144.6" width="361.1" height="295.5" fill="#fff"/>
<path d="M564 262.9L572 261.7L572.2 262.5L578.4 272.1L580.3 269.5L588.4 267.1L591 265.4L596.6 264.9L604.7 264.8L609 263.2L612.9 262.3L621 264.7L625 263.1L629.2 265L636 265.4L637.3 265.7L645.5 267.7L648.5 268.3L653.6 266.8L661.8 269.1L662.9 267.2L669.9 268.4L677.3 270.6L678.1 268.4L686.2 270L688 268.3L690.8 271.8L694.4 281.8L697 289.8L698 289.3L702.5 292.1L707.9 296.7L710.7 295.7L718.6 298.3L718.8 299.6L727 300.5L734.8 302.1L735.1 302L743.3 305L748 305.7L749.8 306.6L751.4 306.6L759.6 310.3L762.4 309L767.7 308.9L775 312.4L775.9 310.9L776.8 309.6L784 296.5L789.3 287.4L790.2 284.4L792.2 289.2L795.6 296.1L798.3 301.6L800.3 302.8L805.5 308.4L808.5 308.3L816.3 306.9L816.6 308.1L819.9 306.9L824.8 307.7L827.1 306.2L830.7 306.8L832.9 308.2L837.9 311.7L841.1 313.4L845.1 315.8L849.2 318.3L855.9 319.9L857.4 321L865.5 322.9L873.7 322L881.8 324.7L883.3 326.1L883.8 325.2L883.8 397L883.3 396.6L881.8 399.4L873.7 396.4L865.5 397.4L857.4 397.2L855.9 397.4L849.2 393.1L845.1 391.9L841.1 386.6L837.9 384.6L832.9 384.1L830.7 384.6L827.1 384.5L824.8 383.7L819.9 384.8L816.6 384.2L816.3 384.7L808.5 384L805.5 381.9L800.3 382.2L798.3 379.9L795.6 379.9L792.2 373.3L790.2 367.7L789.3 366.9L784 365.7L776.8 366.2L775.9 365.6L775 365.8L767.7 363.8L762.4 362.8L759.6 361.3L751.4 358.4L749.8 359.2L748 358.2L743.3 355.7L735.1 353.7L734.8 353.6L727 351L718.8 348.4L718.6 349L710.7 345.5L707.9 345.9L702.5 341.9L698 337.7L697 336.4L694.4 333.4L690.8 331.1L688 328.6L686.2 327.8L678.1 328L677.3 329.1L669.9 329L662.9 329.8L661.8 326.1L653.6 328L648.5 325.4L645.5 327L637.3 327.2L636 326L629.2 325.2L625 326L621 325.4L612.9 327L609 327.9L604.7 329.5L596.6 331.8L591 333.4L588.4 334.4L580.3 336.2L578.4 334.8L572.2 332.5L572 333.2L564 329.3Z" fill="#b3b3b3" stroke="#b3b3b3" stroke-width="1.2" stroke-linejoin="round"/>
<path d="M564 261.1L572 261.2L572.2 260.6L578.4 268.2L580.3 266L588.4 260.8L591 258.6L596.6 258.6L604.7 257.2L609 256.5L612.9 256.7L621 255L625 254.7L629.2 256.3L636 256.4L637.3 257.9L645.5 258.9L648.5 259.2L653.6 260.1L661.8 260.8L662.9 260.3L669.9 260.9L677.3 261.9L678.1 261.7L686.2 260.3L688 259.7L690.8 259.2L694.4 274.2L697 285.5L698 289.6L702.5 291.9L707.9 295.3L710.7 295.1L718.6 296.6L718.8 296.7L727 299.4L734.8 299.1L735.1 300.2L743.3 299.6L748 299.1L749.8 300L751.4 299.9L759.6 302L762.4 302.1L767.7 304.4L775 306.2L775.9 306.7L776.8 307.1L784 296L789.3 285.4L790.2 284L792.2 288.5L795.6 296.3L798.3 297.5L800.3 300.5L805.5 304.8L808.5 304L816.3 303.4L816.6 303.9L819.9 303L824.8 302.3L827.1 300.7L830.7 299.7L832.9 300.8L837.9 301.8L841.1 306.1L845.1 310.8L849.2 310.7L855.9 312.8L857.4 312.4L865.5 314.2L873.7 315.4L881.8 316.4L883.3 316.6L883.8 316.1M564 337.6L572 340L572.2 341.2L578.4 342.9L580.3 341.2L588.4 340.1L591 339.2L596.6 337.4L604.7 335.7L609 334.7L612.9 333.9L621 333.8L625 333.8L629.2 333.2L636 333.5L637.3 333.3L645.5 332.8L648.5 332.6L653.6 333L661.8 332.9L662.9 332.7L669.9 331.6L677.3 331.8L678.1 331.5L686.2 331.1L688 331.2L690.8 333.6L694.4 338.3L697 341.2L698 342.1L702.5 347.9L707.9 352.7L710.7 352.4L718.6 356.1L718.8 355.7L727 357.4L734.8 357.7L735.1 357.7L743.3 359.8L748 361.1L749.8 361.6L751.4 362.2L759.6 365.5L762.4 366.9L767.7 368.3L775 371.7L775.9 371.5L776.8 371.2L784 370.9L789.3 369.3L790.2 371.5L792.2 375.3L795.6 382.8L798.3 387.7L800.3 387.7L805.5 387.4L808.5 386.1L816.3 386.3L816.6 385.9L819.9 387.2L824.8 388.9L827.1 390.1L830.7 390.6L832.9 391.5L837.9 391.6L841.1 394.5L845.1 398.5L849.2 401L855.9 404.7L857.4 404.3L865.5 404.4L873.7 405.4L881.8 405.9L883.3 405.9L883.8 405.6M564 262.3L572 261.2L572.2 262.9L578.4 272.4L580.3 268.8L588.4 267.5L591 265.4L596.6 265.8L604.7 264.3L609 264L612.9 262.7L621 264.1L625 264L629.2 265.9L636 264.7L637.3 267.5L645.5 267.2L648.5 268.1L653.6 266.9L661.8 270.1L662.9 267.9L669.9 268.6L677.3 272L678.1 268.9L686.2 271.4L688 270.7L690.8 272.4L694.4 280.3L697 289.6L698 289.3L702.5 292.2L707.9 296.9L710.7 295.3L718.6 297.5L718.8 299.5L727 300.4L734.8 300.3L735.1 302.8L743.3 305.3L748 306L749.8 307.2L751.4 306.2L759.6 310.7L762.4 310L767.7 309.9L775 312.9L775.9 310.8L776.8 309.1L784 297.5L789.3 287.8L790.2 284.1L792.2 288L795.6 296.2L798.3 300.4L800.3 303.9L805.5 308.7L808.5 307.8L816.3 306.8L816.6 310L819.9 307.8L824.8 306.7L827.1 306L830.7 305.6L832.9 306.6L837.9 311.5L841.1 315L845.1 316.9L849.2 318.5L855.9 319.6L857.4 321.1L865.5 323.6L873.7 320.8L881.8 323.2L883.3 327.4L883.8 325.2M564 263.8L572 261.6L572.2 263L578.4 272.2L580.3 268.3L588.4 266.6L591 265.8L596.6 263.8L604.7 262.6L609 262.8L612.9 261.3L621 265.2L625 262.2L629.2 264.1L636 264L637.3 264.9L645.5 266.3L648.5 267L653.6 266.1L661.8 267.7L662.9 267.5L669.9 266.9L677.3 270L678.1 267.4L686.2 268L688 268.9L690.8 269L694.4 282.3L697 288.2L698 289.4L702.5 293.9L707.9 294.9L710.7 295.3L718.6 299.2L718.8 299.5L727 299.9L734.8 301.9L735.1 301.1L743.3 304.6L748 306.2L749.8 305.4L751.4 306.1L759.6 310.4L762.4 309.8L767.7 307.8L775 312L775.9 310L776.8 308.8L784 296.2L789.3 286.6L790.2 283.2L792.2 288L795.6 296.2L798.3 301.5L800.3 303.6L805.5 307.7L808.5 307.9L816.3 307.2L816.6 308.4L819.9 306.5L824.8 307.4L827.1 307.7L830.7 306.5L832.9 307.7L837.9 310.3L841.1 313.8L845.1 315.6L849.2 319.7L855.9 319.4L857.4 321.6L865.5 323.7L873.7 323.2L881.8 323.5L883.3 327.1L883.8 324.7M564 263.2L572 262.8L572.2 262.7L578.4 272.6L580.3 268.9L588.4 266L591 265.3L596.6 262.6L604.7 264.6L609 263.7L612.9 262.1L621 263.8L625 263.5L629.2 264.4L636 266L637.3 267.3L645.5 267.7L648.5 268.7L653.6 267L661.8 269L662.9 267.2L669.9 268.4L677.3 271.3L678.1 267.1L686.2 269.9L688 269L690.8 271.6L694.4 282.1L697 289.5L698 289.7L702.5 292.9L707.9 298L710.7 296.2L718.6 297.7L718.8 300L727 301.1L734.8 303.4L735.1 300.3L743.3 305.6L748 304.5L749.8 307.6L751.4 307.4L759.6 311.2L762.4 309.9L767.7 309.4L775 311.9L775.9 311.2L776.8 310.6L784 296.4L789.3 287.3L790.2 283.4L792.2 290.1L795.6 296.2L798.3 300.7L800.3 302.2L805.5 307.3L808.5 307.7L816.3 307.6L816.6 308.1L819.9 307.6L824.8 308L827.1 304.7L830.7 306.2L832.9 308.6L837.9 312.5L841.1 311.4L845.1 314L849.2 317.9L855.9 318.8L857.4 319.4L865.5 322.4L873.7 320.8L881.8 322.1L883.3 325.2L883.8 324.4M564 263.2L572 262.2L572.2 260.8L578.4 270.7L580.3 268.8L588.4 266.2L591 263.4L596.6 263L604.7 262.6L609 263L612.9 261.7L621 262.8L625 261.3L629.2 263.5L636 263.6L637.3 264.1L645.5 264.6L648.5 267.7L653.6 266.6L661.8 268.3L662.9 266.8L669.9 268L677.3 271.6L678.1 267.9L686.2 268L688 267.1L690.8 271.5L694.4 282.4L697 290.1L698 290.1L702.5 292.3L707.9 295.3L710.7 295.3L718.6 296.8L718.8 299.2L727 299.2L734.8 302.2L735.1 301.9L743.3 303.1L748 306.1L749.8 307L751.4 305.3L759.6 310.3L762.4 309.4L767.7 308.4L775 313L775.9 310.8L776.8 310.4L784 296.7L789.3 287.2L790.2 284.8L792.2 289.9L795.6 296.4L798.3 301.1L800.3 302L805.5 308L808.5 307.6L816.3 307L816.6 308.2L819.9 306.8L824.8 307.6L827.1 306.4L830.7 308.1L832.9 309.1L837.9 310.6L841.1 313.5L845.1 315.2L849.2 317.7L855.9 318.7L857.4 319.3L865.5 320.4L873.7 318.7L881.8 323.6L883.3 325.5L883.8 322.9M564 264.5L572 261.8L572.2 262.7L578.4 271.8L580.3 270.3L588.4 266.9L591 264.9L596.6 264.4L604.7 262.9L609 261.6L612.9 261.4L621 263.4L625 261.9L629.2 263.9L636 264.5L637.3 264.2L645.5 265.1L648.5 267.8L653.6 265.9L661.8 266.4L662.9 266.6L669.9 267.3L677.3 269L678.1 265.1L686.2 267.1L688 266L690.8 270.5L694.4 279.4L697 288.5L698 289.3L702.5 291.8L707.9 296.7L710.7 295.3L718.6 296.8L718.8 299.9L727 300.2L734.8 301.2L735.1 302.7L743.3 305.2L748 302.5L749.8 305.4L751.4 306.9L759.6 308.7L762.4 307.7L767.7 309.1L775 311.4L775.9 309.1L776.8 308.4L784 296.2L789.3 287.7L790.2 283.2L792.2 290.1L795.6 296.2L798.3 301.3L800.3 301.1L805.5 308L808.5 309.3L816.3 308.2L816.6 309.5L819.9 306.8L824.8 307.8L827.1 306.4L830.7 307.3L832.9 307.3L837.9 312.5L841.1 313.4L845.1 316.5L849.2 317.7L855.9 319.4L857.4 318.6L865.5 320.6L873.7 319.2L881.8 322.2L883.3 323.7L883.8 324.1M564 263.3L572 260.6L572.2 260.8L578.4 271.1L580.3 268.3L588.4 264.5L591 262.8L596.6 263.3L604.7 261.8L609 262.2L612.9 261.1L621 263.7L625 262.5L629.2 263.5L636 263L637.3 263.9L645.5 264.9L648.5 268.5L653.6 264L661.8 266.6L662.9 266.2L669.9 264L677.3 266.3L678.1 265.1L686.2 265.1L688 263.1L690.8 265.9L694.4 279.7L697 288.5L698 289.3L702.5 291.9L707.9 294.7L710.7 296.3L718.6 298.1L718.8 297.1L727 299.8L734.8 301L735.1 300.7L743.3 301.6L748 301.9L749.8 302.2L751.4 304.4L759.6 307.4L762.4 306.4L767.7 306.5L775 309.3L775.9 311.2L776.8 307L784 297.7L789.3 286.5L790.2 283.8L792.2 288L795.6 296.2L798.3 298.7L800.3 300L805.5 306.3L808.5 304.4L816.3 306.2L816.6 307.4L819.9 303.4L824.8 303.8L827.1 304.6L830.7 304.4L832.9 305.2L837.9 309L841.1 311.8L845.1 315.1L849.2 318.3L855.9 317.9L857.4 319.7L865.5 318.6L873.7 319.8L881.8 320.5L883.3 324.6L883.8 325.1M564 262.1L572 260.6L572.2 260.8L578.4 270L580.3 269.8L588.4 265.1L591 262.1L596.6 263.2L604.7 261.5L609 259.9L612.9 260.3L621 259.6L625 258.1L629.2 263.4L636 260.2L637.3 263.1L645.5 262.2L648.5 264.6L653.6 263.7L661.8 264.6L662.9 261.7L669.9 264.8L677.3 265.9L678.1 263.9L686.2 265.1L688 265.5L690.8 264.9L694.4 278.7L697 286L698 289.7L702.5 292.7L707.9 298.7L710.7 296.6L718.6 298.1L718.8 300L727 298.5L734.8 302.4L735.1 300.4L743.3 301.6L748 303.7L749.8 303L751.4 304.6L759.6 304.5L762.4 305.9L767.7 305.9L775 309L775.9 306.7L776.8 309.5L784 296.6L789.3 285.2L790.2 283.2L792.2 288L795.6 297.8L798.3 299.9L800.3 301L805.5 306.8L808.5 306.4L816.3 305.7L816.6 307.1L819.9 305.7L824.8 305.8L827.1 302.3L830.7 303.6L832.9 304L837.9 307.3L841.1 310.1L845.1 312.8L849.2 315.3L855.9 318.1L857.4 317.1L865.5 318.2L873.7 320.2L881.8 322.6L883.3 322.5L883.8 322M564 262.8L572 262.3L572.2 260.8L578.4 269.4L580.3 269.2L588.4 262.4L591 262.9L596.6 261.8L604.7 260.6L609 260L612.9 257.6L621 259.6L625 257.4L629.2 258.4L636 262.4L637.3 259.7L645.5 259.6L648.5 264L653.6 261.1L661.8 260.5L662.9 262.4L669.9 264.3L677.3 264.8L678.1 266.1L686.2 263.2L688 263.7L690.8 262.7L694.4 277.1L697 288.8L698 290L702.5 292.1L707.9 294.7L710.7 295.3L718.6 296.8L718.8 298.9L727 298.5L734.8 301.3L735.1 300.1L743.3 303.7L748 300L749.8 301.6L751.4 305.8L759.6 305.7L762.4 304L767.7 306.9L775 310.2L775.9 309.6L776.8 307L784 296.7L789.3 285.1L790.2 286.1L792.2 288.6L795.6 296.2L798.3 300.4L800.3 301.6L805.5 304.3L808.5 307.8L816.3 304.6L816.6 303.6L819.9 306.6L824.8 306.4L827.1 304.8L830.7 303.3L832.9 302.7L837.9 307.7L841.1 311.7L845.1 313.6L849.2 316.5L855.9 314.5L857.4 317.7L865.5 319.8L873.7 316.8L881.8 319L883.3 321.4L883.8 321.2M564 261.8L572 260.6L572.2 264.7L578.4 271.7L580.3 268.1L588.4 262.7L591 262L596.6 260.8L604.7 261.9L609 257.8L612.9 258.7L621 257.4L625 259.6L629.2 261.1L636 259.7L637.3 261.2L645.5 264.1L648.5 262.2L653.6 261.1L661.8 265.3L662.9 263.9L669.9 263.4L677.3 266.8L678.1 263.9L686.2 260.8L688 263.6L690.8 264.4L694.4 280.2L697 287.4L698 289.3L702.5 292.7L707.9 296L710.7 295.3L718.6 297.8L718.8 297.9L727 301.7L734.8 304.7L735.1 300.1L743.3 300.7L748 300.5L749.8 301.7L751.4 301.4L759.6 305.5L762.4 306.7L767.7 304.3L775 307.1L775.9 306.7L776.8 309.8L784 298.4L789.3 285.1L790.2 283.2L792.2 288.8L795.6 297.9L798.3 301.6L800.3 301.8L805.5 307.4L808.5 306.8L816.3 304.8L816.6 308.9L819.9 305.5L824.8 303.4L827.1 303L830.7 301.1L832.9 304L837.9 308L841.1 307.5L845.1 314.5L849.2 317.7L855.9 315.8L857.4 314.1L865.5 315.9L873.7 317.4L881.8 318.1L883.3 319L883.8 320M564 261.5L572 261.5L572.2 261.6L578.4 268.7L580.3 269.4L588.4 260.7L591 260.9L596.6 259.2L604.7 257.6L609 260.5L612.9 256.5L621 256.5L625 256.6L629.2 256L636 257.3L637.3 257.6L645.5 260.6L648.5 261.7L653.6 261.5L661.8 261.4L662.9 260.6L669.9 262.4L677.3 261.6L678.1 264.6L686.2 263.9L688 265.1L690.8 262.1L694.4 276.6L697 285.2L698 289.6L702.5 291.8L707.9 296.3L710.7 295.3L718.6 296.8L718.8 296.9L727 298.5L734.8 301L735.1 300.1L743.3 300.3L748 299L749.8 301.3L751.4 299.4L759.6 303.9L762.4 306.2L767.7 304.2L775 306.4L775.9 307L776.8 309.4L784 296.2L789.3 286.2L790.2 283.2L792.2 289.3L795.6 296.2L798.3 300.8L800.3 300L805.5 304.3L808.5 308.1L816.3 304.7L816.6 303.6L819.9 307.6L824.8 304.2L827.1 304.1L830.7 300.7L832.9 303L837.9 305.1L841.1 306.1L845.1 313.1L849.2 312.8L855.9 316.7L857.4 317L865.5 315.9L873.7 316.7L881.8 319.5L883.3 320.3L883.8 318.4M564 263.6L572 261.9L572.2 262.5L578.4 267.8L580.3 266.4L588.4 264.3L591 260.7L596.6 258.2L604.7 259.5L609 259.6L612.9 259.6L621 258L625 257.3L629.2 260.4L636 263.8L637.3 261L645.5 260.7L648.5 263.7L653.6 260.2L661.8 263.2L662.9 262L669.9 265.3L677.3 265L678.1 264.8L686.2 266.7L688 262.2L690.8 261.4L694.4 276.8L697 285.9L698 289.6L702.5 291.8L707.9 295.8L710.7 295.5L718.6 296.8L718.8 296.9L727 299.4L734.8 302.7L735.1 300.1L743.3 299.4L748 302.5L749.8 299.6L751.4 301.5L759.6 304.8L762.4 305.2L767.7 305.3L775 306.4L775.9 309.4L776.8 307L784 296.2L789.3 289.6L790.2 285.3L792.2 288L795.6 296.2L798.3 298.7L800.3 300L805.5 304.3L808.5 305.8L816.3 305.4L816.6 304.4L819.9 303.4L824.8 303L827.1 302.5L830.7 300.1L832.9 300.8L837.9 302.5L841.1 307.4L845.1 311.1L849.2 311.3L855.9 312.4L857.4 316.1L865.5 314L873.7 316.2L881.8 316.7L883.3 320L883.8 318.2M564 261.5L572 261.5L572.2 260.8L578.4 270.5L580.3 266.4L588.4 262.9L591 258.8L596.6 259.3L604.7 257.3L609 258.2L612.9 256.8L621 258.6L625 256.8L629.2 257.9L636 261.7L637.3 257.6L645.5 262.9L648.5 260.5L653.6 260L661.8 262L662.9 260.6L669.9 264.3L677.3 261.5L678.1 261.6L686.2 260.8L688 260.1L690.8 261.5L694.4 274.5L697 288.4L698 292.5L702.5 291.8L707.9 294.7L710.7 295.6L718.6 297.2L718.8 298.3L727 298.5L734.8 300.1L735.1 300.1L743.3 299.4L748 302.5L749.8 298.9L751.4 299.4L759.6 301.7L762.4 302.5L767.7 304.2L775 306.4L775.9 306.7L776.8 307L784 298.6L789.3 285.9L790.2 283.2L792.2 288L795.6 297.6L798.3 298.4L800.3 300.2L805.5 304.3L808.5 305.1L816.3 303.6L816.6 303.6L819.9 303.4L824.8 302.6L827.1 301.2L830.7 303.5L832.9 300.8L837.9 302.5L841.1 307.6L845.1 310.6L849.2 311.4L855.9 312.4L857.4 312.6L865.5 314L873.7 315.3L881.8 319L883.3 316.9L883.8 316.9M564 329.5L572 333.8L572.2 333.2L578.4 336.3L580.3 337L588.4 334.2L591 333.6L596.6 332.3L604.7 328.8L609 329L612.9 327.7L621 325.5L625 325.9L629.2 328.6L636 326.9L637.3 328L645.5 328.4L648.5 326.5L653.6 328.4L661.8 326.7L662.9 329.1L669.9 329.5L677.3 327.9L678.1 328.4L686.2 328.2L688 327.4L690.8 332.5L694.4 332.4L697 337L698 337L702.5 342L707.9 345.1L710.7 347.2L718.6 349.7L718.8 349.8L727 351.5L734.8 354L735.1 353.7L743.3 355.3L748 358.5L749.8 359.3L751.4 358.1L759.6 360.2L762.4 362.5L767.7 364.2L775 365.5L775.9 365.9L776.8 366.2L784 364.8L789.3 366.2L790.2 367.1L792.2 373L795.6 379.5L798.3 380.4L800.3 381.1L805.5 380.1L808.5 384.4L816.3 384.3L816.6 384L819.9 386.7L824.8 384.6L827.1 384.8L830.7 385L832.9 383.9L837.9 385L841.1 385.7L845.1 391.3L849.2 392.7L855.9 398.4L857.4 398.3L865.5 396.7L873.7 397.1L881.8 399.3L883.3 397.7L883.8 396.7M564 330.2L572 334.3L572.2 330.8L578.4 335.1L580.3 336.8L588.4 335L591 333.1L596.6 332.9L604.7 330.7L609 327.9L612.9 326.5L621 324.8L625 325.9L629.2 325.8L636 326.9L637.3 326.5L645.5 325.9L648.5 324.4L653.6 328.6L661.8 326.1L662.9 330.1L669.9 329.4L677.3 329.5L678.1 327.9L686.2 326.8L688 328L690.8 331.2L694.4 333.6L697 336L698 337.2L702.5 343.2L707.9 345.6L710.7 345.9L718.6 349L718.8 348L727 349.9L734.8 353.3L735.1 353.1L743.3 356.4L748 357.3L749.8 358.9L751.4 359.1L759.6 361.4L762.4 363.3L767.7 364.6L775 364.7L775.9 365.6L776.8 365.7L784 367.2L789.3 367L790.2 368.3L792.2 374.9L795.6 379.8L798.3 380.4L800.3 382.9L805.5 381.9L808.5 385.2L816.3 385.4L816.6 385.2L819.9 384.9L824.8 383.8L827.1 384.5L830.7 384.5L832.9 383.3L837.9 385.5L841.1 388.3L845.1 392.6L849.2 393.6L855.9 398.3L857.4 398.1L865.5 398.6L873.7 398.9L881.8 399.4L883.3 397.8L883.8 398.1M564 329.2L572 334.3L572.2 333.8L578.4 336L580.3 336.6L588.4 335L591 332.4L596.6 332.4L604.7 330.6L609 329.6L612.9 328.2L621 326.6L625 326.4L629.2 326.5L636 327.1L637.3 328.7L645.5 327.4L648.5 325.5L653.6 328.2L661.8 326.2L662.9 329.8L669.9 327.3L677.3 328L678.1 327.2L686.2 328.4L688 328.8L690.8 331.5L694.4 334.8L697 335.8L698 339.1L702.5 342.6L707.9 346L710.7 347.5L718.6 348.6L718.8 348.2L727 351.5L734.8 354.4L735.1 354L743.3 354.4L748 358.3L749.8 359.6L751.4 361.2L759.6 363.2L762.4 363.6L767.7 363.9L775 367.3L775.9 365.7L776.8 367.4L784 366.9L789.3 367.2L790.2 368.8L792.2 373.5L795.6 380L798.3 382.9L800.3 384L805.5 382.9L808.5 384L816.3 385.1L816.6 385L819.9 386L824.8 386.1L827.1 385.8L830.7 384.7L832.9 386.8L837.9 386.3L841.1 388.3L845.1 394.1L849.2 392.8L855.9 397.9L857.4 397.6L865.5 399.3L873.7 396.4L881.8 399.8L883.3 398.8L883.8 398.3M564 333.4L572 334.3L572.2 334.1L578.4 335.3L580.3 337.3L588.4 335.2L591 332.9L596.6 331.3L604.7 330.7L609 328.7L612.9 325.7L621 324.9L625 327L629.2 326.5L636 328L637.3 327.2L645.5 328.5L648.5 326.5L653.6 328.4L661.8 327.1L662.9 331.1L669.9 330L677.3 330.3L678.1 327.8L686.2 328L688 327.8L690.8 331.1L694.4 333.6L697 336.3L698 338.7L702.5 342.8L707.9 347.4L710.7 346.4L718.6 351L718.8 349.8L727 352.9L734.8 354.8L735.1 355.2L743.3 356.4L748 357.4L749.8 358.2L751.4 360.8L759.6 362.3L762.4 363.7L767.7 364.3L775 366.2L775.9 369.2L776.8 366L784 366.5L789.3 367.3L790.2 367.3L792.2 372.3L795.6 379.4L798.3 380.3L800.3 382.5L805.5 383.3L808.5 383.3L816.3 385.2L816.6 385.8L819.9 385.8L824.8 382.9L827.1 382L830.7 386L832.9 385.5L837.9 385L841.1 389.1L845.1 392.5L849.2 394.2L855.9 397.2L857.4 398.5L865.5 398.3L873.7 397.5L881.8 401.6L883.3 398.5L883.8 397M564 329.3L572 335.9L572.2 335L578.4 337.6L580.3 336.2L588.4 333L591 333.7L596.6 332.5L604.7 331.1L609 328.4L612.9 328.2L621 327.5L625 326.4L629.2 329.1L636 326.7L637.3 328.8L645.5 329.6L648.5 326.4L653.6 329L661.8 329.2L662.9 330.2L669.9 330.8L677.3 330.1L678.1 329.3L686.2 329.5L688 329.1L690.8 331.9L694.4 336.3L697 338.6L698 340.1L702.5 342.8L707.9 348.5L710.7 350L718.6 352.9L718.8 351.6L727 352.9L734.8 354.8L735.1 355.9L743.3 358.8L748 359.4L749.8 361.4L751.4 359.4L759.6 363.9L762.4 363L767.7 365.5L775 366.7L775.9 368.2L776.8 368.6L784 366.4L789.3 367.1L790.2 368.4L792.2 372.5L795.6 379.7L798.3 381.2L800.3 384.5L805.5 384.7L808.5 384.3L816.3 384.8L816.6 385L819.9 384.9L824.8 384.7L827.1 386.5L830.7 386.2L832.9 385.5L837.9 385.7L841.1 389.9L845.1 393.1L849.2 395L855.9 397.8L857.4 397.9L865.5 399.2L873.7 397.9L881.8 401.4L883.3 398.7L883.8 397.6M564 331.6L572 334.8L572.2 335.7L578.4 336.8L580.3 337.7L588.4 334.8L591 334.4L596.6 332.6L604.7 333.6L609 328.7L612.9 328.5L621 329.1L625 331L629.2 327L636 327.3L637.3 329.6L645.5 329.4L648.5 326.7L653.6 328L661.8 327.8L662.9 331.8L669.9 330.2L677.3 331L678.1 329.3L686.2 329L688 330.2L690.8 332.3L694.4 335.6L697 337.3L698 338.9L702.5 344.4L707.9 347.9L710.7 347.7L718.6 352.4L718.8 352L727 353.2L734.8 354.5L735.1 356.4L743.3 359.8L748 358.3L749.8 358.3L751.4 358.9L759.6 361.6L762.4 362.9L767.7 364.3L775 368.7L775.9 368.7L776.8 370.1L784 368.6L789.3 367.7L790.2 370.8L792.2 373.7L795.6 380.6L798.3 381.8L800.3 385.9L805.5 385.3L808.5 384.7L816.3 384.9L816.6 385.1L819.9 386.1L824.8 386.9L827.1 386.6L830.7 387.2L832.9 384.6L837.9 386.6L841.1 387L845.1 395.9L849.2 396.6L855.9 400L857.4 400.3L865.5 401.9L873.7 399.9L881.8 399.7L883.3 399.2L883.8 397.2M564 330.8L572 334.9L572.2 335.3L578.4 339.8L580.3 338.7L588.4 336.2L591 336.6L596.6 335.5L604.7 330.5L609 331.5L612.9 330.4L621 329L625 325.4L629.2 327.8L636 330L637.3 328.6L645.5 331.7L648.5 327.3L653.6 328L661.8 328.5L662.9 331L669.9 330.9L677.3 329.5L678.1 330.5L686.2 328L688 329.4L690.8 330.4L694.4 333.6L697 337.9L698 337.8L702.5 342.6L707.9 347.3L710.7 347.8L718.6 351.3L718.8 350.6L727 353L734.8 354.4L735.1 353.5L743.3 354.2L748 358.1L749.8 358.5L751.4 356.5L759.6 363.6L762.4 360.6L767.7 364.6L775 366.7L775.9 365.8L776.8 369.9L784 366.2L789.3 366.3L790.2 370.6L792.2 372.6L795.6 378.4L798.3 379.8L800.3 382.2L805.5 382.6L808.5 384.9L816.3 383L816.6 384.9L819.9 387.3L824.8 383.9L827.1 385.5L830.7 386.8L832.9 387.4L837.9 385.5L841.1 387.8L845.1 392.6L849.2 396.7L855.9 400.4L857.4 396.9L865.5 397.5L873.7 398L881.8 400L883.3 400.8L883.8 400.8M564 335.3L572 337.1L572.2 336.2L578.4 340.1L580.3 337.1L588.4 337.3L591 336.3L596.6 334.5L604.7 330.8L609 332.6L612.9 332.7L621 327.6L625 329.9L629.2 330.3L636 332.8L637.3 329.5L645.5 328.9L648.5 329.5L653.6 332.8L661.8 329.4L662.9 331.5L669.9 332L677.3 327.2L678.1 326.4L686.2 330.4L688 330.5L690.8 330.2L694.4 335.6L697 337.9L698 339.7L702.5 342.1L707.9 347.6L710.7 346.1L718.6 351.2L718.8 350.3L727 355.1L734.8 355.8L735.1 352.7L743.3 357.6L748 360.9L749.8 360.3L751.4 361L759.6 362.5L762.4 365L767.7 363.7L775 368.2L775.9 365L776.8 369.1L784 365L789.3 364.8L790.2 369.7L792.2 373.7L795.6 380.9L798.3 383L800.3 384L805.5 382.4L808.5 385.2L816.3 385.6L816.6 385.6L819.9 387.3L824.8 385L827.1 387.2L830.7 388.1L832.9 386.8L837.9 386.2L841.1 390.1L845.1 396.9L849.2 396.8L855.9 402.1L857.4 399.8L865.5 402.4L873.7 401L881.8 402L883.3 401.6L883.8 401.6M564 336.5L572 338.7L572.2 335.2L578.4 342.4L580.3 340.7L588.4 337.4L591 339.1L596.6 335L604.7 335.4L609 331.9L612.9 333.4L621 330.2L625 330.7L629.2 329.6L636 329.6L637.3 331.5L645.5 330.5L648.5 331.5L653.6 332.8L661.8 330.9L662.9 329.1L669.9 330.9L677.3 331.2L678.1 331.4L686.2 330.8L688 330.7L690.8 333.4L694.4 338.4L697 338.6L698 342.5L702.5 346.9L707.9 352.2L710.7 351.6L718.6 354.9L718.8 353.9L727 356.8L734.8 354.7L735.1 357.8L743.3 359.4L748 360.9L749.8 361.1L751.4 361.1L759.6 364.8L762.4 365.8L767.7 367.3L775 368.1L775.9 367.6L776.8 368.5L784 367.6L789.3 366.4L790.2 367.6L792.2 373.9L795.6 382.1L798.3 383L800.3 385.6L805.5 385.7L808.5 386.5L816.3 384.8L816.6 384.7L819.9 383.2L824.8 385.3L827.1 387.6L830.7 385.5L832.9 389.1L837.9 389.9L841.1 390L845.1 396.8L849.2 395.3L855.9 399.7L857.4 401L865.5 401.8L873.7 400.9L881.8 402.1L883.3 405.1L883.8 403.2M564 337.2L572 337.5L572.2 339.7L578.4 339.8L580.3 336.6L588.4 336.6L591 336.7L596.6 335.4L604.7 329.4L609 329.2L612.9 330L621 330.1L625 331.3L629.2 329.5L636 328.9L637.3 332.2L645.5 330.7L648.5 332.2L653.6 330.4L661.8 331.4L662.9 330.1L669.9 331.6L677.3 331L678.1 331.3L686.2 328.2L688 329.8L690.8 331.9L694.4 336.8L697 340.7L698 342.5L702.5 345.7L707.9 351.4L710.7 350.9L718.6 355L718.8 353.5L727 356.6L734.8 357L735.1 357.8L743.3 359.8L748 357.2L749.8 361.5L751.4 361.7L759.6 360.9L762.4 364.3L767.7 367.2L775 369.8L775.9 370.9L776.8 368.1L784 370.6L789.3 369.9L790.2 371.7L792.2 374.9L795.6 382.2L798.3 385.9L800.3 387.7L805.5 387L808.5 386.9L816.3 385.2L816.6 386.2L819.9 386L824.8 387.6L827.1 387.1L830.7 390.2L832.9 389.7L837.9 391.5L841.1 394.7L845.1 398.1L849.2 400.4L855.9 404L857.4 402.8L865.5 402.2L873.7 403.7L881.8 405.1L883.3 405.6L883.8 404.6M564 337.9L572 334.7L572.2 340.3L578.4 342.1L580.3 335.8L588.4 337.9L591 338.6L596.6 337.6L604.7 333.5L609 334.2L612.9 333.5L621 333.9L625 332.4L629.2 333.6L636 333.4L637.3 329.7L645.5 333.1L648.5 330L653.6 331.1L661.8 332.5L662.9 331.8L669.9 332L677.3 331.5L678.1 331.4L686.2 329.2L688 328.4L690.8 334.1L694.4 337.8L697 339.9L698 340.3L702.5 346.3L707.9 349.2L710.7 347L718.6 353.6L718.8 354L727 356.2L734.8 354.8L735.1 355.5L743.3 359.2L748 359.7L749.8 361L751.4 362.3L759.6 365.4L762.4 366.7L767.7 368.1L775 371.7L775.9 371.6L776.8 371.5L784 369.6L789.3 369.3L790.2 371.7L792.2 374.2L795.6 380.9L798.3 385.9L800.3 387.2L805.5 383.4L808.5 386.9L816.3 385.4L816.6 386.1L819.9 387.3L824.8 388.5L827.1 389.7L830.7 390.3L832.9 389.7L837.9 390.4L841.1 394.7L845.1 398.7L849.2 400.7L855.9 402.7L857.4 403.6L865.5 404.7L873.7 404.1L881.8 405.8L883.3 405.9L883.8 404.2M564 337.5L572 340.4L572.2 340.5L578.4 341.8L580.3 340.1L588.4 339.8L591 339.1L596.6 337.6L604.7 334.7L609 334.3L612.9 334.2L621 331.6L625 328L629.2 333.6L636 333.4L637.3 332L645.5 331.9L648.5 333L653.6 330.7L661.8 328.9L662.9 331L669.9 332L677.3 329.7L678.1 329.9L686.2 330.5L688 329.3L690.8 333.7L694.4 337.6L697 338.8L698 342.3L702.5 343.9L707.9 352.3L710.7 350.3L718.6 354.3L718.8 350.9L727 355.3L734.8 354.9L735.1 357.8L743.3 358.6L748 360.9L749.8 358.2L751.4 359.7L759.6 364.9L762.4 364L767.7 368.8L775 370.3L775.9 371.1L776.8 371L784 369.5L789.3 369.9L790.2 369.4L792.2 375.7L795.6 382.5L798.3 386.8L800.3 387.2L805.5 385.7L808.5 386.7L816.3 386.1L816.6 385.5L819.9 383.9L824.8 388.1L827.1 388.2L830.7 390L832.9 389.7L837.9 391.5L841.1 391.8L845.1 395.6L849.2 400.4L855.9 400.4L857.4 402.8L865.5 402.1L873.7 398.7L881.8 405.4L883.3 405.9L883.8 405.6M564 250.7L571.2 249.8L577.5 260.6L591 248.9L604.5 243.5L612.5 248.9L630.5 254.3L648.5 258.8L670 256L677.3 250.7L684.5 258.8L690.8 257.9L697 287.5M578.4 342.4L598.2 345.1L609 338.8L621.5 336.1L636 344.2L648.5 339.7L670 337.9L684.5 337.9L689.9 330.7M789.3 369.9L797.4 387.9L803.7 399L810.9 396.9L818.1 398.7L823.5 391.5L827.1 388.8M837.9 391.5L845.1 402.3L850.5 414.9L863.1 415.8L870.3 414L883.3 414M845.1 398.7L855.9 405.9L863 408.5L872 409.5L883.3 409M882.8 327.5H894.6M882.8 331.6H894.6M882.8 333.5H890.3M882.8 339.6H890.3M882.8 341.8H890.3M882.8 342.7H890.3M882.8 343.9H890.3M882.8 345H890.3M882.8 346.2H894.6M882.8 347.6H890.3M882.8 348.6H894.6M882.8 349.5H894.6M882.8 350.4H890.3M882.8 351.4H890.3M882.8 352.6H890.3M882.8 353.7H890.3M882.8 354.8H890.3M882.8 355.9H890.3M882.8 357.1H890.3M882.8 358.4H890.3M882.8 359.9H894.6M882.8 361.1H890.3M882.8 362.2H894.6M882.8 363.2H894.6M882.8 364.5H890.3M882.8 365.8H890.3M882.8 366.9H890.3M882.8 368.4H890.3M882.8 369.5H890.3M882.8 370.4H890.3M882.8 371.5H890.3M882.8 372.3H890.3M882.8 373.5H890.3M882.8 374.8H890.3M882.8 376.2H890.3M882.8 384.5H890.3M882.8 386.7H894.6" fill="none" stroke="#b3b3b3" stroke-width="1.15" stroke-linejoin="round"/>
<path d="M564.2 304.6C570.2 303.8 589.5 301.1 600.5 299.8C611.5 298.5 620.8 297.5 630 296.9C639.2 296.3 648.5 295.6 655.9 296.1C663.3 296.6 667 297 674.4 299.8C681.8 302.6 691.1 308.5 700.3 312.8C709.5 317.1 721.2 322.8 729.8 325.7C738.4 328.6 743.4 328.6 752 330C760.6 331.4 771.7 331.8 781.6 333.8C791.5 335.9 800.1 339.2 811.2 342.3C822.3 345.4 834.2 349.1 848.1 352.3C862 355.5 886.7 360 894.4 361.5" fill="none" stroke="#ff0000" stroke-width="5.2" stroke-linejoin="round"/>
<rect x="548.4" y="144.6" width="361.1" height="295.5" fill="none" stroke="#333333" stroke-width="3.0"/>
<rect x="548.4" y="82.4" width="361.1" height="60" fill="#d9d9d9" stroke="#333333" stroke-width="3.0"/>
</g>
<g id="panel-c">
<rect x="161.5" y="528.6" width="361.1" height="295.7" fill="#fff"/>
<path d="M177.7 636.6L181.4 659.1L184 660.9L185.8 661.4L191.4 665.8L194 671.3L197 677.1L202.2 677.1L210.3 676.3L215.5 675.5L218.4 671.3L224.7 659.9L226.6 658.8L228.4 657.9L231 657L234.8 661.3L239.5 666.2L242.9 669.2L243.2 669.6L251.1 670.6L259.2 671.6L267.4 672.5L270.9 672.8L275.5 672.6L283.7 671.8L289.4 670.9L291.8 669.6L300 668.1L302.3 667.7L304.2 667.1L308.1 673.3L311.6 678.7L316.3 679L324.4 680.2L326.4 681.4L332.6 682L333.8 682.4L340.7 681.3L348.9 680.3L357 679.7L365.2 677.9L373.3 677.2L374.4 676.8L381.5 677.8L381.8 677.9L389.6 678.9L391 678.9L396.6 671.8L397.8 672L404 670.8L405.9 672.3L413.2 678.5L414.1 677.8L418.8 676.1L422.2 675.3L430.4 673.2L433.6 672.6L438.5 670.3L446.5 668.1L446.7 668L448.4 667.4L453.9 668.1L454.8 670.1L455.8 673L457.6 677.6L463 678.2L463.1 677.8L471.1 678.3L479.3 677.5L487.4 678L495.6 677.9L495.7 678.5L496.5 678.2L496.5 712.9L495.7 712.8L495.6 712.7L487.4 712.8L479.3 713.5L471.1 713.8L463.1 713.3L463 713.2L457.6 709.7L455.8 708.6L454.8 706.8L453.9 705L448.4 698.1L446.7 698.1L446.5 698.1L438.5 698.9L433.6 699.2L430.4 699.4L422.2 699.7L418.8 700.8L414.1 699.8L413.2 700.4L405.9 699.1L404 698.9L397.8 698.6L396.6 698.4L391 698.5L389.6 699.2L381.8 698.4L381.5 698.1L374.4 698.1L373.3 698.5L365.2 699.1L357 699.7L348.9 699.7L340.7 700.1L333.8 700.3L332.6 700.7L326.4 700.6L324.4 700.4L316.3 698.3L311.6 697.3L308.1 694.6L304.2 691.4L302.3 690.1L300 690.9L291.8 692.7L289.4 693.7L283.7 694.1L275.5 695.9L270.9 696.8L267.4 696.3L259.2 695.5L251.1 694.6L243.2 692.9L242.9 693.1L239.5 691.7L234.8 690L231 688.2L228.4 686.8L226.6 688.8L224.7 690.1L218.4 697.6L215.5 700.1L210.3 700.9L202.2 700.4L197 701.5L194 699.2L191.4 699.4L185.8 696.7L184 696.3L181.4 699.5L177.7 702.3Z" fill="#b3b3b3" stroke="#b3b3b3" stroke-width="1.2" stroke-linejoin="round"/>
<path d="M177.7 624.2L181.4 650.7L184 652.8L185.8 654.4L191.4 658.4L194 664.2L197 671.4L202.2 669.6L210.3 671.5L215.5 669.9L218.4 664.6L224.7 652.5L226.6 652.2L228.4 652.3L231 651.2L234.8 654.6L239.5 659.2L242.9 663.6L243.2 663.7L251.1 665.2L259.2 665L267.4 666.4L270.9 667L275.5 666.2L283.7 666.1L289.4 664.4L291.8 663.8L300 662L302.3 661.9L304.2 660.8L308.1 667.1L311.6 673.6L316.3 674.1L324.4 675.1L326.4 675.7L332.6 676.6L333.8 677.2L340.7 676L348.9 674.4L357 673.5L365.2 672.4L373.3 671.6L374.4 671.5L381.5 671.7L381.8 672L389.6 673.2L391 673.7L396.6 665.9L397.8 666.4L404 663.9L405.9 665.9L413.2 671.8L414.1 671.2L418.8 670.3L422.2 669.5L430.4 666.9L433.6 665.9L438.5 663.8L446.5 660.6L446.7 660.8L448.4 661L453.9 660.6L454.8 661.1L455.8 665.8L457.6 671.1L463 671.2L463.1 670.8L471.1 670.9L479.3 670.4L487.4 670.5L495.6 670.8L495.7 670.1L496.5 670.2M177.7 713.9L181.4 707.3L184 703.9L185.8 703.7L191.4 706.1L194 706.8L197 707.3L202.2 706.8L210.3 706.6L215.5 705.4L218.4 703.4L224.7 697.3L226.6 695.9L228.4 693.2L231 694.7L234.8 697.3L239.5 699.8L242.9 699.2L243.2 699.9L251.1 701L259.2 701.6L267.4 701.9L270.9 702.3L275.5 702.1L283.7 701.3L289.4 699L291.8 699.3L300 697.9L302.3 695.9L304.2 697.5L308.1 701.1L311.6 703.3L316.3 704.2L324.4 706L326.4 706.8L332.6 705.9L333.8 707.3L340.7 705.3L348.9 704.6L357 705.1L365.2 705.4L373.3 704.1L374.4 704.2L381.5 703.4L381.8 703.9L389.6 704L391 704.1L396.6 704.2L397.8 704.8L404 706.3L405.9 705.6L413.2 706.2L414.1 707.2L418.8 706.2L422.2 705.8L430.4 706L433.6 704.9L438.5 705.4L446.5 705.3L446.7 704.2L448.4 704.3L453.9 713.7L454.8 713.7L455.8 715.4L457.6 717.2L463 721L463.1 720.8L471.1 721.7L479.3 720.4L487.4 720.5L495.6 719.9L495.7 720L496.5 719.4M177.7 628.7L181.4 653.7L184 656.2L185.8 656.4L191.4 660.9L194 666.5L197 673.8L202.2 672.3L210.3 672.2L215.5 670.7L218.4 667.7L224.7 655L226.6 654.5L228.4 653.7L231 652.1L234.8 656.7L239.5 661.5L242.9 665.2L243.2 665.2L251.1 667.1L259.2 669L267.4 669.5L270.9 669.3L275.5 669.5L283.7 668.5L289.4 668L291.8 666.6L300 664.7L302.3 664.3L304.2 662.7L308.1 671L311.6 676.1L316.3 677.8L324.4 676.8L326.4 679.2L332.6 679.6L333.8 680.3L340.7 679.1L348.9 678.8L357 677.9L365.2 677L373.3 675.7L374.4 675.3L381.5 676.5L381.8 675.7L389.6 676L391 676.8L396.6 668.6L397.8 668.6L404 666.4L405.9 667.9L413.2 673.7L414.1 675.1L418.8 672.5L422.2 672.5L430.4 670.8L433.6 668L438.5 667.4L446.5 664.5L446.7 664.4L448.4 663.1L453.9 663.8L454.8 665.9L455.8 668.7L457.6 674.4L463 673.8L463.1 673.5L471.1 674.8L479.3 673.6L487.4 673.9L495.6 673.7L495.7 673.3L496.5 673.4M177.7 626.1L181.4 651.4L184 652.9L185.8 654.6L191.4 658.4L194 664.4L197 671.3L202.2 671L210.3 670L215.5 670.6L218.4 664.2L224.7 653.6L226.6 653L228.4 653L231 650.7L234.8 654.6L239.5 659.9L242.9 665.1L243.2 664.2L251.1 664.9L259.2 665.7L267.4 667.1L270.9 667.4L275.5 666.4L283.7 665.6L289.4 665.6L291.8 665.5L300 662.4L302.3 662L304.2 662.6L308.1 668.1L311.6 673.6L316.3 675L324.4 676.6L326.4 677.3L332.6 677.1L333.8 678.4L340.7 677L348.9 677.2L357 676.1L365.2 674.7L373.3 673.2L374.4 673.3L381.5 673.8L381.8 672.5L389.6 675.3L391 674.9L396.6 667.9L397.8 666.9L404 665.1L405.9 667.1L413.2 672.8L414.1 673.2L418.8 672.2L422.2 670.8L430.4 667L433.6 667.2L438.5 664.2L446.5 663L446.7 663.2L448.4 663L453.9 662.1L454.8 663.9L455.8 666.4L457.6 672.5L463 671.8L463.1 671.7L471.1 670.6L479.3 671.4L487.4 671.1L495.6 671.3L495.7 671.6L496.5 670.6M177.7 709.6L181.4 704.6L184 700.8L185.8 701.8L191.4 703.8L194 704.2L197 704.6L202.2 705L210.3 704.1L215.5 704.2L218.4 701.1L224.7 694.7L226.6 691.9L228.4 690.2L231 691.5L234.8 693.1L239.5 695L242.9 695.9L243.2 696.4L251.1 697.7L259.2 699.1L267.4 699L270.9 699.3L275.5 698.7L283.7 697.1L289.4 697.1L291.8 696.7L300 694.7L302.3 694.5L304.2 695.5L308.1 697.6L311.6 699.8L316.3 701.7L324.4 702.8L326.4 703L332.6 703.6L333.8 702.9L340.7 703.1L348.9 702.2L357 702.6L365.2 702L373.3 701.3L374.4 700.9L381.5 700.4L381.8 700.7L389.6 702.7L391 700.9L396.6 702.2L397.8 702.4L404 702.9L405.9 702.5L413.2 703.7L414.1 704L418.8 704.1L422.2 703.6L430.4 702.2L433.6 702.4L438.5 703.9L446.5 701.5L446.7 701.4L448.4 702.7L453.9 709.4L454.8 712.4L455.8 713.9L457.6 714.8L463 718.4L463.1 717.1L471.1 717.5L479.3 717.4L487.4 717.5L495.6 717.6L495.7 717.9L496.5 716.8M177.7 712.1L181.4 705.4L184 703L185.8 704.4L191.4 705.3L194 706.7L197 706.6L202.2 706.7L210.3 706.8L215.5 706.5L218.4 703.6L224.7 697L226.6 695.3L228.4 693.4L231 694.8L234.8 696.1L239.5 699L242.9 699.2L243.2 698.6L251.1 700.4L259.2 701.4L267.4 701.9L270.9 701.9L275.5 701.5L283.7 699.7L289.4 698.7L291.8 697.7L300 696.5L302.3 696.5L304.2 697.8L308.1 699.3L311.6 702.8L316.3 703.4L324.4 705.4L326.4 706.3L332.6 705.8L333.8 706.2L340.7 705.8L348.9 705.3L357 704.7L365.2 704.7L373.3 704.3L374.4 704.2L381.5 703.8L381.8 703.9L389.6 704.4L391 704.2L396.6 704.9L397.8 704.9L404 705.5L405.9 705.3L413.2 706.1L414.1 705.9L418.8 706.5L422.2 706.3L430.4 705.2L433.6 705.4L438.5 705.2L446.5 704.4L446.7 704.7L448.4 703.7L453.9 712.9L454.8 713.8L455.8 715.7L457.6 717.1L463 721.1L463.1 720.4L471.1 720.7L479.3 720.5L487.4 720.4L495.6 720L495.7 719.8L496.5 719.8M495.5 678.3H507.7M495.5 680.5H503.2M495.5 681.6H503.2M495.5 682.9H507.7M495.5 684H503.2M495.5 685.5H503.2M495.5 686.4H507.7M495.5 687.9H503.2M495.5 689H503.2M495.5 690.4H503.2M495.5 691.3H503.2M495.5 692.8H503.2M495.5 693.6H507.7M495.5 694.5H503.2M495.5 695.6H503.2M495.5 696.6H503.2M495.5 697.8H503.2M495.5 699.1H503.2M495.5 700.6H503.2M495.5 701.7H503.2M495.5 702.5H503.2M495.5 703.4H507.7M495.5 704.3H503.2M495.5 708.3H507.7M495.5 709.9H507.7" fill="none" stroke="#b3b3b3" stroke-width="1.15" stroke-linejoin="round"/>
<path d="M176.6 685.4C181.2 685.3 196.1 685.6 204.4 685C212.7 684.4 220.2 682.7 226.5 681.7C232.8 680.7 237.1 679.6 242 679.2C246.9 678.8 248.7 678.4 256 679.4C263.3 680.4 275.8 684.1 285.7 685.4C295.6 686.6 304.2 685.9 315.3 686.9C326.4 687.9 339.9 691.3 352.2 691.3C364.5 691.3 378.1 687.9 389.2 686.9C400.3 685.9 408.3 685.2 418.8 685.4C429.3 685.6 441.5 686.5 452 688C462.5 689.5 472.4 692.1 481.6 694.3C490.9 696.4 503.2 699.8 507.5 700.9" fill="none" stroke="#ff0000" stroke-width="5.2" stroke-linejoin="round"/>
<rect x="161.5" y="528.6" width="361.1" height="295.7" fill="none" stroke="#333333" stroke-width="3.0"/>
<rect x="161.5" y="466.9" width="361.1" height="59.5" fill="#d9d9d9" stroke="#333333" stroke-width="3.0"/>
</g>
<g id="panel-d">
<rect x="548.4" y="528.6" width="361.1" height="295.7" fill="#fff"/>
<path d="M564.2 639.9L570.1 664L570.9 664.2L572.4 664.2L578.3 664.3L580.5 667.9L582 670.3L585.7 670.7L588.6 671.1L596.8 671.2L600.5 671.4L604.1 667L604.9 665.7L607.8 660.9L611.5 655.9L613.1 656.2L617.1 655L618.2 654.3L621.2 656.8L629.4 660.1L633.7 662.9L637.5 664.4L645.7 668.1L652.2 671.2L653.8 671.8L655.9 672.4L662 672.7L670.1 673.5L674.4 674.3L678.3 675.2L681.8 675.4L686.4 673.2L691 671.4L694.6 676.2L698.4 681.4L700.3 681.2L702.7 682.3L710.9 684.4L718.8 686.3L719 686.3L722.4 687.8L727.2 686.9L735.3 685.6L743.5 684.5L744.6 684.6L751.6 684.4L759.4 684.9L759.8 684.4L763.1 684.4L767.9 688.3L774.2 693.1L776.1 692.3L784.2 688.9L789 686.7L792.4 689.6L800.5 697.1L803.8 699.8L807.5 698.5L808.7 698.4L816.8 695L818.6 694L825 692.5L833.1 691.2L833.4 691L837 693.2L841.3 697.3L844.4 700.6L846.3 701.8L849.4 702.1L850 701.6L857.6 701.4L865.7 701.2L873.9 701L882 701.5L883.3 701.6L883.8 701.2L883.8 745.8L883.3 745.8L882 745.4L873.9 745.8L865.7 745.7L857.6 746L850 746.4L849.4 745.4L846.3 742.7L844.4 740.3L841.3 734.1L837 724.8L833.4 725.4L833.1 725.1L825 726.3L818.6 727.8L816.8 728L808.7 728.9L807.5 728.2L803.8 728.2L800.5 726.3L792.4 723L789 720.9L784.2 721.8L776.1 725.3L774.2 725.9L767.9 722.9L763.1 720.8L759.8 720.3L759.4 719.9L751.6 719.1L744.6 718.7L743.5 718.8L735.3 717.7L727.2 717.5L722.4 717.3L719 717.1L718.8 716.7L710.9 713.3L702.7 709.7L700.3 709.6L698.4 708.4L694.6 706.6L691 706L686.4 705L681.8 703.9L678.3 703.1L674.4 702.8L670.1 702.4L662 701.4L655.9 700.3L653.8 699.9L652.2 699.7L645.7 696.8L637.5 693.8L633.7 692.3L629.4 691.2L621.2 688.5L618.2 688.5L617.1 687.7L613.1 689.7L611.5 690.6L607.8 691.5L604.9 702.7L604.1 705.3L600.5 705.9L596.8 705.4L588.6 704.9L585.7 705.2L582 702.9L580.5 702.6L578.3 701.4L572.4 698.1L570.9 697.9L570.1 699L564.2 702.9Z" fill="#b3b3b3" stroke="#b3b3b3" stroke-width="1.2" stroke-linejoin="round"/>
<path d="M564.2 629L570.1 657L570.9 655.5L572.4 656.7L578.3 656.9L580.5 659.9L582 664.2L585.7 663L588.6 664.7L596.8 664.2L600.5 664.4L604.1 659.2L604.9 658.5L607.8 653.6L611.5 648.7L613.1 647.7L617.1 647.9L618.2 646.9L621.2 649.3L629.4 653.7L633.7 655.1L637.5 657.9L645.7 661.3L652.2 664.2L653.8 665.1L655.9 665.8L662 666.4L670.1 667.8L674.4 667.2L678.3 667.4L681.8 668L686.4 666.7L691 663.7L694.6 669.9L698.4 672.8L700.3 674.4L702.7 675.2L710.9 677.7L718.8 680.3L719 679.6L722.4 680.1L727.2 680.2L735.3 679.2L743.5 675.8L744.6 677.2L751.6 677L759.4 676.5L759.8 676.7L763.1 677L767.9 680.9L774.2 686L776.1 684.6L784.2 681.2L789 678.4L792.4 682.1L800.5 689.9L803.8 693.6L807.5 692.2L808.7 691.4L816.8 688L818.6 686.2L825 685.5L833.1 683.4L833.4 682.9L837 686L841.3 688.1L844.4 692L846.3 693.3L849.4 692.3L850 693.7L857.6 693L865.7 693.3L873.9 692.9L882 693.1L883.3 692.8L883.8 692.7M564.2 714L570.1 706.7L570.9 704.2L572.4 706L578.3 708.3L580.5 709.1L582 711L585.7 712.5L588.6 711.8L596.8 712.5L600.5 713.9L604.1 713.5L604.9 710.4L607.8 698L611.5 697.5L613.1 697.5L617.1 695.2L618.2 695.6L621.2 697.2L629.4 698.5L633.7 699.7L637.5 700.9L645.7 704.5L652.2 705.7L653.8 706.3L655.9 706.1L662 708.7L670.1 708.6L674.4 708.9L678.3 709.6L681.8 710.4L686.4 710.7L691 714.4L694.6 714.2L698.4 715.2L700.3 715L702.7 716.7L710.9 720.5L718.8 723.8L719 724.1L722.4 723.7L727.2 724.7L735.3 725.7L743.5 726.3L744.6 726.3L751.6 726.7L759.4 727L759.8 727.9L763.1 728.8L767.9 730.4L774.2 733.8L776.1 732L784.2 729.9L789 729L792.4 730.4L800.5 733L803.8 734.5L807.5 736.3L808.7 735.8L816.8 734.4L818.6 734.8L825 733.9L833.1 732.8L833.4 733.3L837 732.4L841.3 741.8L844.4 749.1L846.3 751.8L849.4 753.5L850 754.4L857.6 754.1L865.7 754.7L873.9 753.9L882 754.7L883.3 754.9L883.8 754.1M564.2 633.3L570.1 659.1L570.9 658.9L572.4 659.3L578.3 660.7L580.5 663.6L582 666.8L585.7 666L588.6 667.8L596.8 667.8L600.5 667.6L604.1 664.2L604.9 662L607.8 657.6L611.5 652.1L613.1 651.8L617.1 650.9L618.2 650.1L621.2 652.6L629.4 657.3L633.7 658.6L637.5 660.9L645.7 664.7L652.2 667.9L653.8 669L655.9 670.3L662 670.5L670.1 671.3L674.4 673.2L678.3 672.5L681.8 672.5L686.4 670.9L691 668.7L694.6 673.2L698.4 678.7L700.3 678.4L702.7 679.5L710.9 681.4L718.8 683.5L719 683L722.4 685.5L727.2 684.4L735.3 683.3L743.5 680.8L744.6 680.6L751.6 680.5L759.4 681L759.8 680.9L763.1 680.9L767.9 683.9L774.2 689.7L776.1 689.1L784.2 683.9L789 682.6L792.4 685.8L800.5 693.9L803.8 696.3L807.5 695.4L808.7 695.5L816.8 691.6L818.6 689.9L825 688.3L833.1 687.6L833.4 686.5L837 689L841.3 692.8L844.4 695.1L846.3 696.3L849.4 696.1L850 696.6L857.6 695.8L865.7 697.4L873.9 696L882 696.8L883.3 695.7L883.8 696M564.2 630.5L570.1 658.7L570.9 658.3L572.4 658.2L578.3 658.6L580.5 663.5L582 665L585.7 665.1L588.6 665L596.8 665.1L600.5 666.1L604.1 662.2L604.9 660.4L607.8 656.3L611.5 651.3L613.1 650.4L617.1 649.3L618.2 648.8L621.2 651.6L629.4 654.5L633.7 656.6L637.5 658.3L645.7 662.5L652.2 665.6L653.8 667.4L655.9 667.9L662 668.9L670.1 668.2L674.4 670.2L678.3 669.9L681.8 670.4L686.4 669.5L691 666.9L694.6 672L698.4 677L700.3 677.5L702.7 678.8L710.9 679.4L718.8 682.6L719 682.1L722.4 683.4L727.2 682.2L735.3 680.8L743.5 680.2L744.6 681.5L751.6 680L759.4 680.6L759.8 680.4L763.1 679.5L767.9 684.1L774.2 688.9L776.1 686.3L784.2 683L789 680.7L792.4 684.3L800.5 692.3L803.8 694.3L807.5 693.6L808.7 693.3L816.8 689.1L818.6 688.5L825 686.7L833.1 684.6L833.4 684L837 687.1L841.3 689.7L844.4 692L846.3 693.5L849.4 694.6L850 694.3L857.6 694.4L865.7 694L873.9 693.5L882 693.8L883.3 694.7L883.8 694.6M564.2 629.4L570.1 656.7L570.9 656.5L572.4 656.7L578.3 656.5L580.5 660.6L582 663.2L585.7 663.3L588.6 663.8L596.8 664.7L600.5 664.5L604.1 659.1L604.9 658.6L607.8 655.5L611.5 649.1L613.1 649.2L617.1 647.6L618.2 648.1L621.2 648.9L629.4 654L633.7 655.8L637.5 657.5L645.7 661.2L652.2 664.1L653.8 667.5L655.9 665.8L662 667.4L670.1 667.3L674.4 668.7L678.3 670.2L681.8 668.4L686.4 667.9L691 665.8L694.6 670.5L698.4 676.4L700.3 675.2L702.7 675.4L710.9 677.6L718.8 679.9L719 681.3L722.4 681.9L727.2 682.1L735.3 679.9L743.5 677.9L744.6 678L751.6 676.9L759.4 678L759.8 677L763.1 677.3L767.9 683.2L774.2 686.2L776.1 685.9L784.2 682.2L789 679.3L792.4 682.3L800.5 690.5L803.8 695.4L807.5 691.9L808.7 691.3L816.8 688.7L818.6 687.2L825 685.3L833.1 683.3L833.4 683.2L837 687.8L841.3 689.8L844.4 692L846.3 693.6L849.4 693.4L850 694.5L857.6 693.5L865.7 694.4L873.9 693.5L882 694.6L883.3 694.1L883.8 693.5M564.2 709.2L570.1 703L570.9 701.2L572.4 703.7L578.3 706.2L580.5 706.9L582 707.9L585.7 709.7L588.6 709.6L596.8 710.8L600.5 711L604.1 710.8L604.9 707.3L607.8 697.5L611.5 695.1L613.1 694L617.1 692.9L618.2 693L621.2 692L629.4 694.3L633.7 696.1L637.5 696.8L645.7 700.5L652.2 704.4L653.8 704.6L655.9 704L662 705.5L670.1 706.3L674.4 706.4L678.3 707.1L681.8 709.4L686.4 710.4L691 711.7L694.6 712.7L698.4 713L700.3 714.8L702.7 714.4L710.9 718.2L718.8 721.2L719 721.8L722.4 722.5L727.2 722.4L735.3 723.3L743.5 723.7L744.6 723.3L751.6 724.2L759.4 725.1L759.8 725.8L763.1 726.9L767.9 727.4L774.2 730.7L776.1 729.8L784.2 727.2L789 725.6L792.4 726.3L800.5 729.6L803.8 732.3L807.5 733.4L808.7 732.5L816.8 732.7L818.6 731.8L825 731.5L833.1 730.9L833.4 730.2L837 729.6L841.3 738.5L844.4 746.6L846.3 748.7L849.4 752.1L850 752L857.6 752L865.7 752.5L873.9 751.2L882 751.8L883.3 751.4L883.8 751.3M564.2 712.5L570.1 705.3L570.9 704L572.4 704.5L578.3 708.6L580.5 709.6L582 709.7L585.7 712L588.6 711.1L596.8 712.3L600.5 712.3L604.1 712.8L604.9 709.2L607.8 697.8L611.5 697.3L613.1 694.5L617.1 692.8L618.2 693.9L621.2 693.5L629.4 695.2L633.7 696.7L637.5 699.3L645.7 699.8L652.2 703.1L653.8 704.3L655.9 703.7L662 705.2L670.1 706.4L674.4 706L678.3 708.3L681.8 707.3L686.4 709.7L691 710.9L694.6 713L698.4 711.5L700.3 713L702.7 715.2L710.9 716.7L718.8 720.7L719 720.5L722.4 719.8L727.2 720.9L735.3 720.2L743.5 721.5L744.6 720.6L751.6 722.4L759.4 721.4L759.8 722.7L763.1 724.7L767.9 726.1L774.2 728.5L776.1 728.2L784.2 725.4L789 725.8L792.4 725.9L800.5 729.9L803.8 730.7L807.5 731.3L808.7 732.6L816.8 731.3L818.6 731.3L825 730.4L833.1 729.4L833.4 730L837 729.1L841.3 739.1L844.4 745.6L846.3 748.6L849.4 751.5L850 751.3L857.6 752.6L865.7 752.4L873.9 752.6L882 753.8L883.3 754.2L883.8 752.7M564.2 712.4L570.1 704.9L570.9 703.9L572.4 705.1L578.3 707.3L580.5 709.3L582 706.8L585.7 710.1L588.6 710.2L596.8 711.6L600.5 712.2L604.1 712.5L604.9 708.1L607.8 696.7L611.5 696.1L613.1 695.3L617.1 692.8L618.2 694L621.2 694.2L629.4 694.7L633.7 697.7L637.5 698.7L645.7 701.6L652.2 705.8L653.8 705.5L655.9 706.3L662 706L670.1 707.7L674.4 707.7L678.3 709.4L681.8 710.8L686.4 711.1L691 712.6L694.6 713.5L698.4 715.2L700.3 714.5L702.7 715.2L710.9 718.8L718.8 722.7L719 723L722.4 723.7L727.2 724.1L735.3 724.9L743.5 725.1L744.6 724.2L751.6 725.7L759.4 726.4L759.8 726.4L763.1 728.8L767.9 730.7L774.2 733.4L776.1 732.8L784.2 729.2L789 728.1L792.4 729.1L800.5 732.8L803.8 733.6L807.5 736L808.7 735.8L816.8 734.4L818.6 733.6L825 733.8L833.1 732.2L833.4 732.2L837 730.8L841.3 740.3L844.4 748.1L846.3 750.1L849.4 751.4L850 753.4L857.6 752.9L865.7 752.2L873.9 753L882 754.5L883.3 753.1L883.8 753.8M882.8 702.5H894.6M882.8 703.8H894.6M882.8 706.2H894.6M882.8 708.4H894.6M882.8 709.8H890.3M882.8 711.2H890.3M882.8 712.4H890.3M882.8 713.9H894.6M882.8 714.8H890.3M882.8 716H890.3M882.8 717.3H890.3M882.8 718.3H894.6M882.8 719.8H890.3M882.8 720.7H890.3M882.8 722.1H890.3M882.8 723.4H894.6M882.8 724.7H890.3M882.8 726H890.3M882.8 727.1H890.3M882.8 728.2H890.3M882.8 729.6H890.3M882.8 730.9H894.6M882.8 731.9H894.6M882.8 732.9H894.6M882.8 734.1H890.3M882.8 734.9H894.6M882.8 737.6H890.3M882.8 740.1H890.3M882.8 742H890.3M882.8 744.5H894.6" fill="none" stroke="#b3b3b3" stroke-width="1.15" stroke-linejoin="round"/>
<path d="M564.2 685.4C569 685.2 583.9 685.3 593 684.3C602.1 683.3 612.1 680.5 618.9 679.5C625.7 678.5 628.2 677.5 633.7 678C639.2 678.5 644.8 680.3 652.2 682.4C659.6 684.5 668.8 688.2 678 690.6C687.2 693 696.5 694.3 707.6 696.5C718.7 698.7 732.3 702.2 744.6 703.9C756.9 705.6 769.3 705.3 781.6 706.5C793.9 707.7 807.5 709.5 818.6 711.3C829.7 713.1 839.5 715.2 848.1 717.5C856.7 719.8 862.6 722.1 870.3 724.9C878 727.7 890.4 732.7 894.4 734.2" fill="none" stroke="#ff0000" stroke-width="5.2" stroke-linejoin="round"/>
<rect x="548.4" y="528.6" width="361.1" height="295.7" fill="none" stroke="#333333" stroke-width="3.0"/>
<rect x="548.4" y="466.9" width="361.1" height="59.5" fill="#d9d9d9" stroke="#333333" stroke-width="3.0"/>
</g>
<g id="panel-e">
<rect x="161.5" y="911.9" width="361.1" height="296.5" fill="#fff"/>
<path d="M177.7 965.2L182.2 1012.4L184 1032.2L185.8 1032L190.3 1028.6L194 1033.3L197 1037.7L202.2 1036.9L206.2 1036.4L209.9 1036L210.3 1035.5L213.6 1028.4L218.4 1008.7L219.1 1006.5L221 1004.6L226.5 1000.5L226.6 1000.4L234.8 999.9L242.9 1000.3L245 999.9L251.1 1000.5L258 1000.9L259.2 1000.2L267.4 1001.9L270.9 1001.8L275.5 1002.5L283.7 1002.9L291.8 1003.5L300 1004.3L304.2 1005.1L308.1 1006.1L316.3 1007.6L319 1007.9L324.4 1009.2L332.6 1010.9L337.4 1011.7L340.7 1011.2L348.9 1011.9L352.2 1011.5L357 1011.4L365.2 1011.9L367 1011.3L373.3 1010.4L381.5 1009.6L381.8 1009.6L389.2 1008L389.6 1009L397.8 1003.3L398.4 1002.2L403.2 999.8L404 1000.5L405.9 1001.2L414.1 1004.5L415 1004.8L422.2 1002.9L426.2 1002.4L430.4 1001.1L433.6 1001L438.5 1002.4L446.7 1003L448.4 1003.9L454.8 1005.2L455.8 1005L463 1006.6L463.1 1006.8L471.1 1007.3L479.3 1007.9L487.4 1007.7L495.6 1008.5L495.7 1008.2L496.5 1007.8L496.5 1070.4L495.7 1070.9L495.6 1070.7L487.4 1070.6L479.3 1070L471.1 1070.8L463.1 1069.9L463 1070.4L455.8 1066.3L454.8 1065.6L448.4 1059.5L446.7 1057.9L438.5 1057.1L433.6 1057.1L430.4 1057.4L426.2 1057.9L422.2 1058.4L415 1058.6L414.1 1059.3L405.9 1059.6L404 1060.3L403.2 1059.9L398.4 1060.3L397.8 1060.2L389.6 1059.8L389.2 1060.5L381.8 1060.9L381.5 1060.6L373.3 1061.1L367 1061.2L365.2 1061.3L357 1061L352.2 1061.3L348.9 1061.3L340.7 1059.8L337.4 1059.3L332.6 1058.1L324.4 1057.5L319 1056.9L316.3 1055.5L308.1 1051.1L304.2 1049.8L300 1048.5L291.8 1049L283.7 1049.2L275.5 1050.6L270.9 1050.7L267.4 1050L259.2 1051.1L258 1050.8L251.1 1051.6L245 1051.2L242.9 1051.7L234.8 1053.1L226.6 1054.3L226.5 1055.3L221 1057.4L219.1 1064.5L218.4 1067.2L213.6 1085.1L210.3 1091.5L209.9 1091.7L206.2 1092L202.2 1092.3L197 1093.1L194 1093.1L190.3 1093.4L185.8 1093.4L184 1093.4L182.2 1093.7L177.7 1093.7Z" fill="#b3b3b3" stroke="#b3b3b3" stroke-width="1.2" stroke-linejoin="round"/>
<path d="M177.7 963.2L182.2 1011.7L184 1032.4L185.8 1030.7L190.3 1027.4L194 1032.9L197 1037.6L202.2 1036.8L206.2 1036.8L209.9 1034.6L210.3 1034.8L213.6 1022.8L218.4 1006.6L219.1 1004.1L221 1002.4L226.5 997.3L226.6 997L234.8 997L242.9 998.5L245 998.6L251.1 998.6L258 998L259.2 998.2L267.4 1000.4L270.9 1000.1L275.5 1001.9L283.7 1001L291.8 1001.2L300 1002.6L304.2 1002.9L308.1 1003.9L316.3 1005.8L319 1005.9L324.4 1006.9L332.6 1008.9L337.4 1009.8L340.7 1009.5L348.9 1010.6L352.2 1010.7L357 1009.8L365.2 1009.7L367 1009.6L373.3 1008.1L381.5 1007.6L381.8 1007.6L389.2 1006.9L389.6 1006.2L397.8 1001.7L398.4 1002.7L403.2 997.8L404 996.2L405.9 997.9L414.1 1001.8L415 1001.1L422.2 998.7L426.2 998.2L430.4 996.7L433.6 995.5L438.5 996.4L446.7 995.8L448.4 995.3L454.8 996.6L455.8 996.7L463 999.1L463.1 998.6L471.1 999.4L479.3 999.3L487.4 998.4L495.6 999.1L495.7 999.5L496.5 999M177.7 1099.9L182.2 1096.6L184 1097.2L185.8 1098.1L190.3 1099.7L194 1100.9L197 1102.6L202.2 1099.8L206.2 1096.4L209.9 1095L210.3 1095.9L213.6 1094.8L218.4 1071.1L219.1 1067.1L221 1058.1L226.5 1056.6L226.6 1057.6L234.8 1056.6L242.9 1054.1L245 1052.9L251.1 1054L258 1054L259.2 1054.3L267.4 1054.2L270.9 1054.5L275.5 1055.1L283.7 1052.5L291.8 1051.7L300 1051.2L304.2 1049.6L308.1 1053.4L316.3 1057.7L319 1059L324.4 1060.1L332.6 1062L337.4 1062.8L340.7 1063.5L348.9 1064.3L352.2 1064.2L357 1064.5L365.2 1063.5L367 1064.6L373.3 1061.9L381.5 1063.2L381.8 1062.7L389.2 1063.3L389.6 1063.1L397.8 1063.6L398.4 1063.5L403.2 1063.7L404 1065.6L405.9 1064.8L414.1 1063.9L415 1063.6L422.2 1061.8L426.2 1062.2L430.4 1061.9L433.6 1062.1L438.5 1060.4L446.7 1060.1L448.4 1059.6L454.8 1067.8L455.8 1068.7L463 1075.4L463.1 1075.4L471.1 1074.4L479.3 1076L487.4 1076.5L495.6 1074.9L495.7 1075.9L496.5 1074.9M177.7 963.7L182.2 1013L184 1032L185.8 1031.9L190.3 1028.4L194 1033.1L197 1038L202.2 1036.8L206.2 1037L209.9 1035.9L210.3 1034.3L213.6 1023.1L218.4 1006.7L219.1 1004.3L221 1003.3L226.5 996.9L226.6 997.3L234.8 998.1L242.9 998.6L245 998.8L251.1 998.4L258 998.5L259.2 998.2L267.4 1000.3L270.9 1000.6L275.5 1001.1L283.7 1001.3L291.8 1001.7L300 1002.7L304.2 1003.4L308.1 1003.3L316.3 1005.1L319 1005.7L324.4 1007.9L332.6 1008.7L337.4 1010.4L340.7 1009.8L348.9 1009.8L352.2 1010.1L357 1009.8L365.2 1010.3L367 1010.3L373.3 1009.8L381.5 1007.9L381.8 1009L389.2 1007.5L389.6 1006.7L397.8 1003.9L398.4 1003.3L403.2 996.9L404 998.3L405.9 998.1L414.1 1002L415 1002.5L422.2 1000.7L426.2 998.6L430.4 997.8L433.6 996.6L438.5 997.6L446.7 997.2L448.4 996.7L454.8 999.1L455.8 999.1L463 1000.7L463.1 1000.9L471.1 999.8L479.3 1000.6L487.4 1000.2L495.6 1001.3L495.7 1001.3L496.5 1001.9M177.7 964.6L182.2 1013.2L184 1032L185.8 1032L190.3 1028.1L194 1033.7L197 1037.5L202.2 1036.8L206.2 1036.2L209.9 1036.8L210.3 1034.3L213.6 1024L218.4 1008L219.1 1005.2L221 1002.4L226.5 997.9L226.6 997.9L234.8 999L242.9 998.5L245 998.8L251.1 999.7L258 999.8L259.2 998.6L267.4 1000.6L270.9 1000.6L275.5 1002.4L283.7 1001.7L291.8 1003.2L300 1003.4L304.2 1002.9L308.1 1004.2L316.3 1006.2L319 1006.6L324.4 1008.6L332.6 1010.1L337.4 1010.8L340.7 1010.8L348.9 1010.1L352.2 1010.2L357 1010.9L365.2 1010.7L367 1009.8L373.3 1009.4L381.5 1008.1L381.8 1008.1L389.2 1008L389.6 1006.9L397.8 1002.7L398.4 1002.7L403.2 998L404 998.5L405.9 998.3L414.1 1002.3L415 1002.8L422.2 1000.3L426.2 999.3L430.4 998.2L433.6 997.9L438.5 999.3L446.7 997.9L448.4 998.3L454.8 998.9L455.8 998.2L463 1001L463.1 1001.8L471.1 1001.9L479.3 1000.9L487.4 1002L495.6 999.7L495.7 999.6L496.5 999.9M177.7 964.2L182.2 1013.5L184 1032L185.8 1031.5L190.3 1027.6L194 1033.4L197 1037.7L202.2 1036.8L206.2 1036.2L209.9 1036L210.3 1034.5L213.6 1024.1L218.4 1006.7L219.1 1005.9L221 1002.5L226.5 998.5L226.6 996.9L234.8 998.5L242.9 999.6L245 998.7L251.1 998.4L258 998.9L259.2 999.3L267.4 1000.9L270.9 1001.1L275.5 1001.6L283.7 1001.3L291.8 1001.8L300 1003.4L304.2 1002.7L308.1 1003.6L316.3 1005.1L319 1006L324.4 1006.9L332.6 1009.5L337.4 1011.1L340.7 1010.4L348.9 1010.3L352.2 1009.9L357 1010.6L365.2 1009.8L367 1009.9L373.3 1010.5L381.5 1007.9L381.8 1007.9L389.2 1006.9L389.6 1007.9L397.8 1002.7L398.4 1002.4L403.2 996.9L404 998.5L405.9 998.8L414.1 1002.2L415 1001.9L422.2 1000.2L426.2 999.3L430.4 997.3L433.6 995.8L438.5 995.5L446.7 995.1L448.4 996.5L454.8 997.3L455.8 997.6L463 999.5L463.1 998.8L471.1 998.7L479.3 999.6L487.4 999.2L495.6 999.2L495.7 999.3L496.5 999.7M177.7 1098.6L182.2 1096.3L184 1095.6L185.8 1097.7L190.3 1097.5L194 1098.2L197 1099.1L202.2 1096.9L206.2 1096.1L209.9 1093.6L210.3 1095.1L213.6 1093.1L218.4 1070.2L219.1 1066.9L221 1057.2L226.5 1056.3L226.6 1057L234.8 1055L242.9 1053.7L245 1053.2L251.1 1053.8L258 1053.6L259.2 1053.8L267.4 1053.3L270.9 1053.5L275.5 1052.1L283.7 1052.4L291.8 1051.1L300 1050L304.2 1050.2L308.1 1052.1L316.3 1057.7L319 1059.6L324.4 1060.5L332.6 1061.2L337.4 1061.7L340.7 1062.3L348.9 1063.1L352.2 1063.6L357 1064.1L365.2 1062.9L367 1062.9L373.3 1062.9L381.5 1062.3L381.8 1062.3L389.2 1062.5L389.6 1062.1L397.8 1063.9L398.4 1063.1L403.2 1063.6L404 1063.8L405.9 1062.6L414.1 1062.5L415 1062.2L422.2 1062.1L426.2 1061.3L430.4 1059.7L433.6 1060.9L438.5 1058.8L446.7 1059.1L448.4 1059.3L454.8 1066.7L455.8 1068.2L463 1073.9L463.1 1073.1L471.1 1073.5L479.3 1073.8L487.4 1073.9L495.6 1074.1L495.7 1073.9L496.5 1073.6M177.7 1099.8L182.2 1096.7L184 1097.1L185.8 1098L190.3 1099.7L194 1101.1L197 1101.1L202.2 1097.9L206.2 1096.7L209.9 1095.8L210.3 1095.6L213.6 1094.8L218.4 1070.9L219.1 1066.9L221 1057.4L226.5 1057.1L226.6 1057L234.8 1055.8L242.9 1053.9L245 1053.9L251.1 1053.9L258 1053.8L259.2 1052.5L267.4 1054.2L270.9 1054.2L275.5 1053.4L283.7 1052.8L291.8 1051.9L300 1050.2L304.2 1050.5L308.1 1052.5L316.3 1057.7L319 1059.7L324.4 1060.5L332.6 1061.7L337.4 1061.9L340.7 1062.8L348.9 1063.4L352.2 1064.5L357 1063.9L365.2 1062.9L367 1063.4L373.3 1062.3L381.5 1062L381.8 1062.2L389.2 1063L389.6 1063.1L397.8 1063.9L398.4 1063.8L403.2 1063.4L404 1063.8L405.9 1063.5L414.1 1062.6L415 1062.1L422.2 1061.2L426.2 1061.8L430.4 1059.9L433.6 1060.8L438.5 1060.9L446.7 1059.2L448.4 1059.1L454.8 1067.3L455.8 1068.2L463 1074.5L463.1 1075.2L471.1 1074.8L479.3 1075.2L487.4 1074.5L495.6 1074.6L495.7 1075L496.5 1074.2M177.7 1098.9L182.2 1096.7L184 1097.3L185.8 1096.3L190.3 1099.6L194 1100.4L197 1100.3L202.2 1095.9L206.2 1096L209.9 1094.1L210.3 1094.7L213.6 1091.6L218.4 1070.9L219.1 1066.5L221 1057.9L226.5 1057.1L226.6 1056.8L234.8 1055.8L242.9 1053.9L245 1053.7L251.1 1053.4L258 1051.9L259.2 1053.9L267.4 1052.4L270.9 1052.4L275.5 1052.4L283.7 1050.9L291.8 1050.2L300 1049.1L304.2 1050.5L308.1 1052.9L316.3 1057.2L319 1058.2L324.4 1060.5L332.6 1060.5L337.4 1060.5L340.7 1060.7L348.9 1063.6L352.2 1064.5L357 1063.2L365.2 1062.5L367 1063L373.3 1062.1L381.5 1061.5L381.8 1062.2L389.2 1062.1L389.6 1063.1L397.8 1062.6L398.4 1063.9L403.2 1063.5L404 1063.5L405.9 1063.2L414.1 1062.7L415 1063.4L422.2 1062.1L426.2 1062.3L430.4 1061.8L433.6 1060.7L438.5 1060.9L446.7 1058.3L448.4 1059.7L454.8 1067.3L455.8 1068.3L463 1074.9L463.1 1074.4L471.1 1074.5L479.3 1075.1L487.4 1074.3L495.6 1074.1L495.7 1075.2L496.5 1074.7M495.5 1008H503.2M495.5 1014.7H503.2M495.5 1017.1H503.2M495.5 1020.5H503.2M495.5 1021.7H503.2M495.5 1022.7H503.2M495.5 1024.1H503.2M495.5 1025.1H503.2M495.5 1026.5H503.2M495.5 1027.4H503.2M495.5 1028.4H507.7M495.5 1029.6H503.2M495.5 1030.5H503.2M495.5 1031.6H507.7M495.5 1032.9H507.7M495.5 1034H503.2M495.5 1035.4H507.7M495.5 1036.3H503.2M495.5 1037.7H503.2M495.5 1039.2H507.7M495.5 1040.5H503.2M495.5 1042H507.7M495.5 1042.9H503.2M495.5 1044.3H503.2M495.5 1045.8H503.2M495.5 1047H503.2M495.5 1047.8H503.2M495.5 1049.1H503.2M495.5 1050.4H503.2M495.5 1051.4H503.2M495.5 1052.3H503.2M495.5 1053.2H503.2M495.5 1054.3H503.2M495.5 1055.4H503.2M495.5 1056.3H503.2M495.5 1059.3H507.7M495.5 1061.5H503.2M495.5 1064H503.2M495.5 1066.2H507.7M495.5 1068.4H507.7" fill="none" stroke="#b3b3b3" stroke-width="1.15" stroke-linejoin="round"/>
<path d="M176.6 1075.3C180 1073.3 190.5 1067.9 197 1063.4C203.5 1059 209.3 1054.1 215.5 1048.6C221.7 1043 228.4 1034.5 233.9 1030.1C239.4 1025.7 244.7 1023.5 248.7 1022C252.7 1020.5 254.3 1020.6 258 1020.9C261.7 1021.2 265.7 1022.5 270.9 1023.9C276.1 1025.2 282.6 1028.2 289.4 1029C296.2 1029.8 304.2 1028.2 311.6 1029C319 1029.8 325.8 1032.1 333.8 1033.8C341.8 1035.5 351.6 1038.8 359.6 1039.4C367.6 1040 373.8 1038.8 381.8 1037.5C389.8 1036.2 399.7 1032.5 407.7 1031.3C415.7 1030.1 421.9 1029.7 429.9 1030.1C437.9 1030.5 447.2 1032.4 455.8 1033.8C464.4 1035.2 473 1037.2 481.6 1038.6C490.2 1040 503.2 1041.7 507.5 1042.3" fill="none" stroke="#ff0000" stroke-width="5.2" stroke-linejoin="round"/>
<rect x="161.5" y="911.9" width="361.1" height="296.5" fill="none" stroke="#333333" stroke-width="3.0"/>
<rect x="161.5" y="850.4" width="361.1" height="59.5" fill="#d9d9d9" stroke="#333333" stroke-width="3.0"/>
</g>
<g id="panel-f">
<rect x="548.4" y="911.9" width="361.1" height="296.5" fill="#fff"/>
<path d="M564.2 947.1L564.4 949.3L570.9 1006L571.6 1005.4L572.4 1006.8L580.5 1008.6L582 1008.8L586 1009.7L588.6 1011.2L596.8 1013.1L598.6 1013.6L604.9 988.5L606 984.2L607.6 982L613.1 974.4L618.3 966L618.9 965.5L621.2 964L629.4 960.1L632.7 957.5L637.4 954.3L637.5 954.9L644.8 950.4L645.3 952.7L645.7 954.6L650 973.6L652.5 983.4L653.8 985L654 984.3L662 985.4L664 986.3L670.1 987.7L678.3 988L686.4 990L690 990.9L693.9 991.4L694.6 992.1L702.7 994.5L710 997.5L710.9 998L719 1001.3L722.7 1002.4L724.3 1002.2L727.2 1002.4L735.3 1002.1L743.5 1003.9L751.4 1003.2L751.6 1003.3L752 1003.5L759.8 1003.9L767.9 1004.1L774.2 1003.9L776.1 1003.6L780.2 999.2L784.2 990.2L785.3 987.9L789.2 979.5L789.7 978.5L792.4 983.2L800 994.9L800.5 994.3L808.7 994.3L816.8 993.7L825 991.9L833.1 991.9L833.4 991.7L836 991.2L841.3 994.6L845 997.4L849.4 1000.8L852.2 1002.8L857.6 1002.4L865.7 1002.4L873.9 1003.3L881.4 1002L882 1002.3L883.3 1002.3L883.8 1002.7L883.8 1134.3L883.3 1133L882 1134.2L881.4 1134.1L873.9 1133.4L865.7 1132.4L857.6 1132.5L852.2 1131.7L849.4 1127.9L845 1121.1L841.3 1113L836 1101.5L833.4 1097.4L833.1 1097.3L825 1096.9L816.8 1097.2L808.7 1096.5L800.5 1096.6L800 1096.2L792.4 1096.6L789.7 1096.7L789.2 1097.4L785.3 1101.8L784.2 1102.8L780.2 1106.3L776.1 1107.2L774.2 1106.2L767.9 1106L759.8 1106.9L752 1106.4L751.6 1106L751.4 1106.8L743.5 1106.3L735.3 1106.6L727.2 1106.2L724.3 1106.7L722.7 1106.7L719 1103.6L710.9 1098.4L710 1097.7L702.7 1097.7L694.6 1097.5L693.9 1097.5L690 1097.9L686.4 1098L678.3 1097.1L670.1 1097.9L664 1097.5L662 1098.7L654 1098.1L653.8 1098L652.5 1098.7L650 1094.4L645.7 1089.6L645.3 1089.6L644.8 1088.7L637.5 1088.7L637.4 1089.3L632.7 1090.9L629.4 1091.5L621.2 1095.2L618.9 1098L618.3 1099.2L613.1 1106.3L607.6 1114.3L606 1118.5L604.9 1121.6L598.6 1139.5L596.8 1144.2L588.6 1141.6L586 1140.2L582 1139.1L580.5 1137.9L572.4 1135.9L571.6 1134.3L570.9 1134.9L564.4 1131.4L564.2 1132.3Z" fill="#b3b3b3" stroke="#b3b3b3" stroke-width="1.2" stroke-linejoin="round"/>
<path d="M564.2 942.4L564.4 945.3L570.9 987.6L571.6 988.1L572.4 987.9L580.5 992.9L582 993.5L586 992.5L588.6 992.1L596.8 991.9L598.6 991.8L604.9 969.7L606 965.3L607.6 963L613.1 954.7L618.3 946.5L618.9 945.7L621.2 943.6L629.4 937.4L632.7 935.6L637.4 932.4L637.5 931.8L644.8 925L645.3 927.6L645.7 930.7L650 957.7L652.5 967.2L653.8 970.9L654 971.1L662 969.5L664 969.4L670.1 971.1L678.3 971.6L686.4 972.7L690 972.2L693.9 973.6L694.6 974.7L702.7 977.3L710 979.3L710.9 979.6L719 980.4L722.7 979.8L724.3 980.3L727.2 980.8L735.3 980L743.5 979.7L751.4 979.2L751.6 980.1L752 978.8L759.8 978.6L767.9 978.7L774.2 977.7L776.1 977.6L780.2 974.1L784.2 972L785.3 970.8L789.2 967.6L789.7 967.3L792.4 968.7L800 976L800.5 976.2L808.7 977.1L816.8 976L825 975.5L833.1 974.2L833.4 975.1L836 975.5L841.3 975.5L845 976.6L849.4 974.9L852.2 975.2L857.6 975.9L865.7 976L873.9 976.9L881.4 977.6L882 977.3L883.3 977.3L883.8 977.5M564.2 1152.1L564.4 1151.4L570.9 1159.5L571.6 1161.3L572.4 1160.8L580.5 1163.6L582 1164.7L586 1165.9L588.6 1166.5L596.8 1167.6L598.6 1168.2L604.9 1148.2L606 1143.8L607.6 1138.5L613.1 1132.5L618.3 1124.4L618.9 1123.8L621.2 1123.4L629.4 1123.3L632.7 1122.6L637.4 1116L637.5 1116.3L644.8 1106.9L645.3 1107.3L645.7 1107.9L650 1118.5L652.5 1124.1L653.8 1124.5L654 1125L662 1124.4L664 1124.7L670.1 1124L678.3 1123.9L686.4 1123.4L690 1122.8L693.9 1123.6L694.6 1123.2L702.7 1125.5L710 1126.4L710.9 1126.6L719 1129.1L722.7 1129.7L724.3 1130.3L727.2 1130L735.3 1129.9L743.5 1129.1L751.4 1127.7L751.6 1128.8L752 1127.9L759.8 1127.4L767.9 1127.3L774.2 1126.9L776.1 1127.3L780.2 1127.9L784.2 1123.5L785.3 1123.2L789.2 1119.3L789.7 1119.6L792.4 1119.4L800 1120L800.5 1120.9L808.7 1121.1L816.8 1121.7L825 1121.7L833.1 1123.5L833.4 1122.6L836 1122.6L841.3 1131.4L845 1137.6L849.4 1143.2L852.2 1147L857.6 1145.8L865.7 1146.1L873.9 1147.1L881.4 1147.4L882 1146L883.3 1146.2L883.8 1145.5M564.2 947L564.4 948.6L570.9 1005.7L571.6 1005.6L572.4 1006.7L580.5 1008.9L582 1007.7L586 1009.4L588.6 1011.2L596.8 1012.7L598.6 1012.6L604.9 988.2L606 983.5L607.6 980.9L613.1 973.7L618.3 965.3L618.9 964.9L621.2 964.2L629.4 960.7L632.7 957.8L637.4 954.6L637.5 953.9L644.8 949.4L645.3 951.4L645.7 953L650 972.1L652.5 981.6L653.8 983.8L654 983.3L662 984.5L664 985.4L670.1 986.8L678.3 988L686.4 989.2L690 989.9L693.9 991.4L694.6 991.4L702.7 994L710 997L710.9 997.2L719 999.3L722.7 999.8L724.3 1000.4L727.2 1001.4L735.3 1001.6L743.5 1004L751.4 1002.4L751.6 1002.1L752 1002L759.8 1002.4L767.9 1002.4L774.2 1002.5L776.1 1002.5L780.2 998.3L784.2 989.5L785.3 987.9L789.2 978.3L789.7 977.6L792.4 983L800 994.2L800.5 993.3L808.7 992.9L816.8 992.4L825 990.2L833.1 991.1L833.4 990.7L836 990.2L841.3 993.8L845 996.7L849.4 999.1L852.2 1001.1L857.6 1001.5L865.7 1001.5L873.9 1003.5L881.4 1001.2L882 1001.8L883.3 1001.3L883.8 1002M564.2 947.6L564.4 949.2L570.9 1005L571.6 1005.1L572.4 1007.1L580.5 1008.5L582 1008.8L586 1009.4L588.6 1011.5L596.8 1014.1L598.6 1014.1L604.9 988.1L606 983.9L607.6 981.5L613.1 974L618.3 966.7L618.9 965.5L621.2 964.4L629.4 961.5L632.7 958.9L637.4 955.4L637.5 955.7L644.8 951.3L645.3 954.4L645.7 955.4L650 974.3L652.5 984.4L653.8 985.5L654 985.4L662 986L664 987.2L670.1 988.2L678.3 988.6L686.4 990.4L690 992L693.9 992.1L694.6 992.8L702.7 995.2L710 997.8L710.9 998.4L719 1001.5L722.7 1002.7L724.3 1003.5L727.2 1003L735.3 1002.8L743.5 1005L751.4 1004L751.6 1003.8L752 1003.4L759.8 1003.3L767.9 1003.8L774.2 1004.6L776.1 1003.6L780.2 999.4L784.2 990.7L785.3 988.4L789.2 979.2L789.7 978.8L792.4 983.7L800 994.7L800.5 994.2L808.7 993.1L816.8 993.2L825 991.8L833.1 992L833.4 991.8L836 990.5L841.3 993.6L845 997.4L849.4 1000.3L852.2 1002.2L857.6 1000.5L865.7 1001.5L873.9 1002.1L881.4 1001.7L882 1001L883.3 1000.4L883.8 1001.5M564.2 947.2L564.4 948.8L570.9 1003.6L571.6 1003.3L572.4 1003.9L580.5 1006.7L582 1007.1L586 1009L588.6 1010.1L596.8 1011.1L598.6 1010.7L604.9 986L606 981.9L607.6 980.5L613.1 973.7L618.3 964.7L618.9 964.7L621.2 962.6L629.4 958.2L632.7 955.9L637.4 952.9L637.5 952.9L644.8 948.4L645.3 951.9L645.7 952.7L650 972.4L652.5 981.6L653.8 984.2L654 983.3L662 983.5L664 984.9L670.1 986.9L678.3 987L686.4 989.4L690 989.9L693.9 990.9L694.6 991.7L702.7 993.8L710 996.5L710.9 996.9L719 999.8L722.7 1001.1L724.3 1001L727.2 1001.2L735.3 1000.1L743.5 1001.2L751.4 1000.9L751.6 1001.8L752 1001.3L759.8 1000.7L767.9 1000.6L774.2 1000.6L776.1 1000.1L780.2 997.2L784.2 989.2L785.3 987.9L789.2 979L789.7 978.7L792.4 982.7L800 994.4L800.5 993.3L808.7 993.6L816.8 993.4L825 990.8L833.1 991.1L833.4 990.6L836 990.7L841.3 993.4L845 995.7L849.4 999.5L852.2 1001.1L857.6 1000.7L865.7 1000.6L873.9 1000.7L881.4 1000.8L882 1000.6L883.3 999.8L883.8 1000.3M564.2 946.6L564.4 948.2L570.9 1002.3L571.6 1002.7L572.4 1003.1L580.5 1005.5L582 1005.4L586 1005.8L588.6 1007.5L596.8 1007.9L598.6 1008.8L604.9 984.8L606 980.8L607.6 979.9L613.1 970.9L618.3 962.4L618.9 963.4L621.2 960.4L629.4 956.1L632.7 953.9L637.4 950.9L637.5 951.1L644.8 946.7L645.3 948.2L645.7 951.3L650 971.7L652.5 981L653.8 983.5L654 982.7L662 984.6L664 985.2L670.1 986.5L678.3 985.9L686.4 988.4L690 988.7L693.9 988.2L694.6 989.9L702.7 993L710 996.1L710.9 996L719 999.3L722.7 999.2L724.3 998.7L727.2 999.1L735.3 999L743.5 999.6L751.4 999.6L751.6 998.4L752 999.2L759.8 999.2L767.9 999.9L774.2 999.3L776.1 999L780.2 996.1L784.2 987.9L785.3 986.7L789.2 978L789.7 978.4L792.4 982L800 992.9L800.5 993L808.7 992.4L816.8 991.7L825 990.8L833.1 989.7L833.4 988.9L836 988.8L841.3 992.3L845 994.1L849.4 997.7L852.2 998.6L857.6 998.7L865.7 998.3L873.9 998.3L881.4 997.5L882 997.5L883.3 998L883.8 998.6M564.2 945.8L564.4 948.4L570.9 1003.5L571.6 1004.2L572.4 1004.1L580.5 1006.6L582 1007.8L586 1008.4L588.6 1009.8L596.8 1010L598.6 1011.6L604.9 987.6L606 982.9L607.6 980.6L613.1 972.9L618.3 965.2L618.9 963.3L621.2 961.7L629.4 958.4L632.7 956.3L637.4 951.3L637.5 951.8L644.8 948.5L645.3 949.7L645.7 953L650 972.3L652.5 981.4L653.8 985.2L654 985L662 985.5L664 986.2L670.1 987.8L678.3 988.7L686.4 991L690 991.2L693.9 991.9L694.6 993.5L702.7 995.5L710 998.8L710.9 998.9L719 1002.8L722.7 1003.3L724.3 1003.1L727.2 1003.1L735.3 1001.7L743.5 1004.2L751.4 1002.7L751.6 1002.3L752 1002.1L759.8 1003.5L767.9 1004.5L774.2 1004.3L776.1 1003.6L780.2 999.7L784.2 989.4L785.3 987.5L789.2 977.9L789.7 977.4L792.4 982.9L800 993.2L800.5 992.5L808.7 993.3L816.8 992.1L825 991.6L833.1 990.7L833.4 989.9L836 988.9L841.3 993.1L845 994.1L849.4 996.7L852.2 1000L857.6 998L865.7 998.6L873.9 998.5L881.4 997.7L882 997L883.3 996.2L883.8 996.9M564.2 946.3L564.4 947.6L570.9 1001.4L571.6 1000.2L572.4 1001.8L580.5 1002.9L582 1004.3L586 1003.2L588.6 1004.7L596.8 1005.5L598.6 1006L604.9 982.1L606 977.9L607.6 976.2L613.1 969L618.3 961.1L618.9 960.9L621.2 959.1L629.4 953.1L632.7 952.5L637.4 949.1L637.5 948.8L644.8 943.3L645.3 945.7L645.7 948.2L650 968.7L652.5 977.8L653.8 981.2L654 981.1L662 980.9L664 979.5L670.1 980.9L678.3 982.1L686.4 982.3L690 983.2L693.9 985.3L694.6 985.5L702.7 987.8L710 991.5L710.9 993.4L719 994.3L722.7 995.1L724.3 994.6L727.2 995.5L735.3 994.5L743.5 996.1L751.4 996.5L751.6 997.1L752 998L759.8 996.4L767.9 996.7L774.2 997.3L776.1 996.7L780.2 991.7L784.2 983.6L785.3 981.1L789.2 976L789.7 975.6L792.4 978.6L800 989L800.5 989L808.7 987.6L816.8 987.8L825 985.7L833.1 985.6L833.4 986.1L836 985.6L841.3 988.6L845 990.6L849.4 993.4L852.2 995L857.6 993.3L865.7 994.5L873.9 993.2L881.4 993.4L882 993.9L883.3 993.8L883.8 995.4M564.2 946L564.4 947.4L570.9 999.4L571.6 1000.1L572.4 1001.1L580.5 1003.2L582 1002.2L586 1003.3L588.6 1003.7L596.8 1004.6L598.6 1004.9L604.9 981L606 975.9L607.6 974.1L613.1 967.2L618.3 958.4L618.9 958.3L621.2 956L629.4 950.7L632.7 948.3L637.4 946.7L637.5 945.9L644.8 940.5L645.3 943.4L645.7 945.9L650 967.3L652.5 976.6L653.8 978.9L654 978.5L662 979.1L664 979.3L670.1 980.2L678.3 979.1L686.4 982.4L690 982.5L693.9 982.7L694.6 983.8L702.7 986L710 988.8L710.9 988.5L719 991.4L722.7 991.7L724.3 989.4L727.2 989.8L735.3 990.7L743.5 991.7L751.4 991.2L751.6 989.8L752 991.9L759.8 991.3L767.9 991.9L774.2 991.9L776.1 992.1L780.2 988.1L784.2 981.7L785.3 980.1L789.2 974.2L789.7 974L792.4 977.7L800 988.1L800.5 988.3L808.7 987.9L816.8 987.5L825 985.4L833.1 985.4L833.4 984.8L836 984.5L841.3 987L845 988.9L849.4 992.8L852.2 993L857.6 992.3L865.7 993.7L873.9 994.9L881.4 996.4L882 995.2L883.3 994.3L883.8 993.4M564.2 944.9L564.4 946.3L570.9 997.6L571.6 998.9L572.4 1000.4L580.5 1003.4L582 1003.1L586 1003.7L588.6 1004.5L596.8 1005.2L598.6 1005.2L604.9 979.6L606 976.5L607.6 974.4L613.1 965.3L618.3 956.2L618.9 956.4L621.2 955.3L629.4 949.3L632.7 947.6L637.4 943.9L637.5 944.1L644.8 938.2L645.3 942.1L645.7 942.5L650 965.4L652.5 974.9L653.8 977.9L654 977.2L662 977.5L664 977.9L670.1 977.9L678.3 980.2L686.4 979.4L690 980.3L693.9 982.1L694.6 982.3L702.7 985.6L710 988L710.9 988.1L719 990.3L722.7 991.8L724.3 992.2L727.2 992.4L735.3 992.6L743.5 994.8L751.4 991.8L751.6 991.7L752 993.3L759.8 992.4L767.9 992.6L774.2 993.9L776.1 994.1L780.2 989.7L784.2 984.4L785.3 980.5L789.2 974.9L789.7 975.5L792.4 978.9L800 988.7L800.5 988.6L808.7 988.4L816.8 988.5L825 986.5L833.1 987.1L833.4 986.5L836 985.7L841.3 987.2L845 989.1L849.4 990.6L852.2 992L857.6 991.9L865.7 992.7L873.9 992.1L881.4 992.7L882 991.9L883.3 991.5L883.8 990.6M564.2 944.8L564.4 946.6L570.9 995.2L571.6 995.3L572.4 996.6L580.5 998.4L582 999.3L586 1000.8L588.6 1000.2L596.8 1001.2L598.6 999.2L604.9 976.5L606 973.1L607.6 971.7L613.1 963.2L618.3 955L618.9 952.8L621.2 950.6L629.4 947.6L632.7 946L637.4 942.8L637.5 944.8L644.8 938.5L645.3 942.5L645.7 942.9L650 966.5L652.5 975.9L653.8 978.8L654 977.4L662 978L664 978.9L670.1 979.3L678.3 978.8L686.4 980.4L690 982L693.9 982.5L694.6 983.5L702.7 983.4L710 986.5L710.9 986.3L719 988.2L722.7 989.6L724.3 988L727.2 989.7L735.3 988.7L743.5 988.8L751.4 988.7L751.6 989.9L752 990.5L759.8 989.7L767.9 989.6L774.2 989.9L776.1 988.1L780.2 984.2L784.2 979.2L785.3 978.7L789.2 973.1L789.7 972.8L792.4 975.3L800 984L800.5 982.8L808.7 983.5L816.8 982.5L825 982.1L833.1 982L833.4 982L836 981.5L841.3 983.1L845 984.6L849.4 984.5L852.2 984.5L857.6 985.4L865.7 986.8L873.9 987.5L881.4 989.1L882 989.1L883.3 988.8L883.8 989.5M564.2 945.5L564.4 946L570.9 993.6L571.6 994.6L572.4 994.8L580.5 998.5L582 999.1L586 998L588.6 997.9L596.8 997.5L598.6 996.2L604.9 974.3L606 970.1L607.6 969L613.1 960.3L618.3 955.1L618.9 952.8L621.2 951.2L629.4 946.2L632.7 943.6L637.4 939.1L637.5 939.6L644.8 934.9L645.3 938.1L645.7 940.8L650 963.5L652.5 973.1L653.8 976.2L654 977.3L662 977.3L664 976.1L670.1 978.5L678.3 980.3L686.4 980.5L690 979.8L693.9 980.2L694.6 981.5L702.7 984.6L710 987.7L710.9 990L719 991.8L722.7 991.9L724.3 991.9L727.2 992.8L735.3 993.9L743.5 996L751.4 994.2L751.6 993.2L752 994.7L759.8 995L767.9 995.2L774.2 992.5L776.1 995.2L780.2 990L784.2 984.5L785.3 983.4L789.2 978.1L789.7 974.8L792.4 978.9L800 987.8L800.5 986.5L808.7 987.8L816.8 986.5L825 984.4L833.1 984.4L833.4 984.1L836 985L841.3 986.6L845 989.9L849.4 991.6L852.2 994.7L857.6 992L865.7 992.3L873.9 991.6L881.4 990.4L882 990.6L883.3 989.1L883.8 987.8M564.2 945.1L564.4 945.4L570.9 994.5L571.6 992.7L572.4 993.2L580.5 997.5L582 998.7L586 1000.3L588.6 1001.5L596.8 1000.2L598.6 999.6L604.9 978L606 974.1L607.6 971.8L613.1 965.9L618.3 956.9L618.9 956.3L621.2 955L629.4 951.4L632.7 948.3L637.4 944.8L637.5 945.1L644.8 937.4L645.3 942.1L645.7 942.4L650 966.9L652.5 973.5L653.8 976.8L654 978.3L662 978.6L664 979.9L670.1 982L678.3 984.2L686.4 984L690 985.2L693.9 984.9L694.6 985.5L702.7 989L710 991.1L710.9 990.7L719 994.3L722.7 994.2L724.3 996.1L727.2 995L735.3 992.9L743.5 995.3L751.4 993.1L751.6 994.3L752 990.2L759.8 989L767.9 988.8L774.2 989L776.1 987.5L780.2 984.7L784.2 979.9L785.3 978.4L789.2 971.8L789.7 972.8L792.4 975.3L800 984.9L800.5 984.4L808.7 984L816.8 984.9L825 982.6L833.1 982.5L833.4 982.2L836 983L841.3 984L845 985.7L849.4 986L852.2 986.7L857.6 987.8L865.7 987.7L873.9 987.7L881.4 986.3L882 986.6L883.3 985.6L883.8 986.6M564.2 944.4L564.4 945.9L570.9 991.6L571.6 990.8L572.4 991.5L580.5 996.6L582 997.7L586 998.2L588.6 996.1L596.8 995.7L598.6 995.8L604.9 975.1L606 967.8L607.6 965.1L613.1 957.7L618.3 947.9L618.9 949.2L621.2 945.3L629.4 938.7L632.7 939.6L637.4 936.8L637.5 937.1L644.8 928.1L645.3 931.9L645.7 936L650 960.3L652.5 969.6L653.8 973.2L654 971.5L662 971.8L664 972.2L670.1 972.4L678.3 971.6L686.4 974.1L690 973L693.9 975L694.6 974.6L702.7 979.2L710 981.4L710.9 981.1L719 980.5L722.7 982.4L724.3 980L727.2 981L735.3 981.6L743.5 980.4L751.4 981L751.6 979.5L752 979.5L759.8 979.8L767.9 978.8L774.2 978.4L776.1 977.3L780.2 974.6L784.2 971.7L785.3 973.4L789.2 968.1L789.7 968L792.4 971.3L800 979.6L800.5 979.8L808.7 978.6L816.8 978L825 978.3L833.1 977.5L833.4 978.7L836 977.7L841.3 980.2L845 981.7L849.4 982.6L852.2 982.5L857.6 983L865.7 985.1L873.9 983.9L881.4 982.8L882 983.2L883.3 984.5L883.8 984.2M564.2 943.3L564.4 946.2L570.9 990.8L571.6 990.9L572.4 992.7L580.5 994.7L582 996.4L586 994.6L588.6 995.6L596.8 997.6L598.6 995.8L604.9 973.1L606 968.9L607.6 967.5L613.1 958.8L618.3 951.4L618.9 948.6L621.2 949L629.4 943.1L632.7 940.5L637.4 937L637.5 936.5L644.8 930.9L645.3 933.8L645.7 935.8L650 962.4L652.5 969.1L653.8 972.8L654 973.6L662 972.8L664 973.5L670.1 972.6L678.3 975.7L686.4 974.8L690 974.6L693.9 976.4L694.6 975.8L702.7 980.5L710 981.7L710.9 980L719 980.4L722.7 980.4L724.3 980.6L727.2 979.9L735.3 979.9L743.5 981.7L751.4 979.8L751.6 982.4L752 982.8L759.8 983.9L767.9 980.9L774.2 982.5L776.1 980.2L780.2 977L784.2 972.7L785.3 972.8L789.2 968.3L789.7 968.4L792.4 970.4L800 979.4L800.5 979.2L808.7 979.8L816.8 980.1L825 980L833.1 979.2L833.4 977.5L836 979.2L841.3 978.6L845 978L849.4 978.9L852.2 978.3L857.6 978.8L865.7 979.2L873.9 977.9L881.4 978.9L882 981.1L883.3 981.5L883.8 981.6M564.2 944L564.4 945.1L570.9 989.5L571.6 990.3L572.4 989.8L580.5 993.2L582 995.9L586 995.7L588.6 995.7L596.8 994L598.6 994L604.9 971.3L606 966.7L607.6 966.1L613.1 957.2L618.3 948L618.9 948.1L621.2 947.5L629.4 940.1L632.7 937.4L637.4 934L637.5 932.5L644.8 927.5L645.3 932.5L645.7 935.5L650 962.1L652.5 969.4L653.8 973.5L654 974L662 975.5L664 976.8L670.1 978.8L678.3 977.9L686.4 978.8L690 980L693.9 981.8L694.6 983.4L702.7 984.6L710 987.1L710.9 987.6L719 988L722.7 988.5L724.3 988.3L727.2 987.2L735.3 986.5L743.5 986.2L751.4 984.8L751.6 985.2L752 985.9L759.8 984.8L767.9 985.3L774.2 984.1L776.1 984.5L780.2 982.2L784.2 978.6L785.3 974.4L789.2 970.2L789.7 968.4L792.4 972.1L800 982.2L800.5 981.1L808.7 980.3L816.8 980.9L825 979.3L833.1 979.7L833.4 978.3L836 978.9L841.3 978.6L845 977.1L849.4 979.7L852.2 982.3L857.6 981.1L865.7 982.3L873.9 982L881.4 980.5L882 981.6L883.3 982.6L883.8 979.9M564.2 943.3L564.4 945L570.9 989.3L571.6 988.7L572.4 990.3L580.5 992.4L582 993.2L586 992.7L588.6 992.4L596.8 991.5L598.6 991.8L604.9 971.4L606 965.5L607.6 963L613.1 954.3L618.3 946L618.9 945.1L621.2 944.5L629.4 937.8L632.7 935.5L637.4 933L637.5 932.1L644.8 924.9L645.3 928L645.7 930.7L650 958L652.5 966.1L653.8 970.3L654 971.5L662 970.2L664 970.5L670.1 970.7L678.3 972L686.4 973.2L690 973L693.9 974.4L694.6 974.6L702.7 977.7L710 980.9L710.9 980.1L719 980L722.7 980L724.3 980.2L727.2 980.5L735.3 980L743.5 979.7L751.4 979.5L751.6 979.5L752 979.5L759.8 979.1L767.9 978.7L774.2 979L776.1 977.1L780.2 974.5L784.2 971.7L785.3 971.6L789.2 967.9L789.7 968.2L792.4 970.1L800 976.5L800.5 976.5L808.7 976L816.8 975.8L825 975.2L833.1 975.4L833.4 977.1L836 977.6L841.3 980.5L845 979.9L849.4 982.1L852.2 981.4L857.6 982.2L865.7 982.4L873.9 982.1L881.4 982.6L882 980.4L883.3 982.1L883.8 978.9M564.2 1132.7L564.4 1131.6L570.9 1135.1L571.6 1133.9L572.4 1136.3L580.5 1137.8L582 1139.1L586 1140.5L588.6 1142.6L596.8 1144.6L598.6 1139.8L604.9 1122.4L606 1120.4L607.6 1116.2L613.1 1108L618.3 1101.9L618.9 1100.4L621.2 1096.1L629.4 1093.7L632.7 1093.9L637.4 1091.6L637.5 1091.6L644.8 1090.3L645.3 1090.4L645.7 1090.9L650 1096.4L652.5 1099.6L653.8 1099.5L654 1098.4L662 1098.1L664 1097.7L670.1 1098.7L678.3 1098.7L686.4 1098.3L690 1098.7L693.9 1098.3L694.6 1098.6L702.7 1099.2L710 1099.9L710.9 1099.2L719 1104.7L722.7 1107.9L724.3 1108.1L727.2 1108.3L735.3 1108.1L743.5 1108.1L751.4 1108.2L751.6 1107L752 1107.1L759.8 1108L767.9 1105.6L774.2 1106.5L776.1 1107.4L780.2 1105.5L784.2 1102.9L785.3 1101.1L789.2 1096.6L789.7 1095.9L792.4 1096.5L800 1096.1L800.5 1097.2L808.7 1096.7L816.8 1097.7L825 1097.9L833.1 1098L833.4 1098.5L836 1102L841.3 1113L845 1121.2L849.4 1127.9L852.2 1131.8L857.6 1132.9L865.7 1133L873.9 1133.4L881.4 1134.2L882 1134.9L883.3 1133.4L883.8 1134.8M564.2 1133.2L564.4 1131.9L570.9 1136.2L571.6 1134.6L572.4 1137L580.5 1138.4L582 1140.2L586 1141.1L588.6 1143.1L596.8 1145L598.6 1140.4L604.9 1123.2L606 1119.5L607.6 1115.7L613.1 1107.7L618.3 1100.3L618.9 1099.4L621.2 1096.2L629.4 1092L632.7 1091.7L637.4 1088.9L637.5 1087.9L644.8 1088.4L645.3 1089.6L645.7 1088.9L650 1093.6L652.5 1098.3L653.8 1096.8L654 1096.7L662 1098.4L664 1097.3L670.1 1096.4L678.3 1096.5L686.4 1097L690 1096.7L693.9 1096.9L694.6 1096.9L702.7 1096.4L710 1097.6L710.9 1098L719 1104.5L722.7 1107.3L724.3 1108.2L727.2 1107.9L735.3 1108L743.5 1106.9L751.4 1106.4L751.6 1106.3L752 1106L759.8 1106.3L767.9 1106.1L774.2 1106.4L776.1 1107.5L780.2 1106.9L784.2 1103L785.3 1102.6L789.2 1098.8L789.7 1098L792.4 1098.4L800 1098.5L800.5 1097.5L808.7 1096.8L816.8 1096.7L825 1096L833.1 1096.5L833.4 1096.8L836 1100.7L841.3 1112.2L845 1120.7L849.4 1127.6L852.2 1131.8L857.6 1132.9L865.7 1132.5L873.9 1134.2L881.4 1134.3L882 1135L883.3 1133.4L883.8 1135.3M564.2 1133.6L564.4 1132.7L570.9 1136.1L571.6 1136.2L572.4 1137.9L580.5 1139.8L582 1141.3L586 1142.1L588.6 1143.4L596.8 1146.1L598.6 1141.1L604.9 1121.8L606 1119L607.6 1114.1L613.1 1106.9L618.3 1100.4L618.9 1098.7L621.2 1097.2L629.4 1094.2L632.7 1094.1L637.4 1091.7L637.5 1092.1L644.8 1090.4L645.3 1091.6L645.7 1091.1L650 1096.9L652.5 1100.7L653.8 1100.5L654 1101.8L662 1102.8L664 1102L670.1 1101.7L678.3 1099.7L686.4 1100.6L690 1101L693.9 1100.9L694.6 1101.6L702.7 1102.6L710 1102.1L710.9 1103.5L719 1108.3L722.7 1112.1L724.3 1111.3L727.2 1112.1L735.3 1110.7L743.5 1111.2L751.4 1111.9L751.6 1112L752 1111.8L759.8 1111.9L767.9 1111.2L774.2 1110.6L776.1 1112L780.2 1111L784.2 1106.9L785.3 1105.8L789.2 1101.7L789.7 1101.6L792.4 1101.6L800 1101.4L800.5 1101.3L808.7 1099.9L816.8 1101.6L825 1101.8L833.1 1101.4L833.4 1102.4L836 1105L841.3 1116.3L845 1124.2L849.4 1130.4L852.2 1133.8L857.6 1134L865.7 1134.3L873.9 1134.9L881.4 1136.1L882 1135.7L883.3 1134.6L883.8 1135.8L894.6 1135.8M564.2 1135.5L564.4 1136L570.9 1139.8L571.6 1141.5L572.4 1143.4L580.5 1145.8L582 1147.5L586 1147.8L588.6 1148.8L596.8 1150.8L598.6 1148.6L604.9 1130.2L606 1128L607.6 1124.3L613.1 1115.4L618.3 1109.5L618.9 1109.4L621.2 1107.4L629.4 1105L632.7 1104.1L637.4 1101.8L637.5 1100.9L644.8 1097L645.3 1096.8L645.7 1095.7L650 1104.2L652.5 1108.9L653.8 1109.4L654 1108.4L662 1109.1L664 1109.9L670.1 1109.2L678.3 1109.4L686.4 1108.6L690 1108.8L693.9 1108.6L694.6 1108.9L702.7 1109.8L710 1109.9L710.9 1109L719 1113.8L722.7 1117L724.3 1117.1L727.2 1115.6L735.3 1115.6L743.5 1115.5L751.4 1115.1L751.6 1114.1L752 1113.4L759.8 1113.4L767.9 1112.1L774.2 1113.7L776.1 1113.4L780.2 1112.5L784.2 1109.3L785.3 1108.6L789.2 1104.5L789.7 1103.2L792.4 1103.2L800 1102.8L800.5 1104L808.7 1103.5L816.8 1103.7L825 1104.5L833.1 1103.7L833.4 1103.1L836 1104.8L841.3 1116L845 1123.6L849.4 1129.9L852.2 1133.7L857.6 1134.3L865.7 1134.8L873.9 1135.9L881.4 1136.9L882 1136.8L883.3 1135.6L883.8 1137.2L894.6 1137.2M564.2 1136.3L564.4 1135.5L570.9 1140.3L571.6 1139L572.4 1141.7L580.5 1142.3L582 1143.8L586 1143.4L588.6 1145.9L596.8 1148.7L598.6 1145.1L604.9 1128.3L606 1125.2L607.6 1119.2L613.1 1111.1L618.3 1105.7L618.9 1103.7L621.2 1100.2L629.4 1099L632.7 1098.8L637.4 1095.6L637.5 1095.7L644.8 1093.9L645.3 1094.5L645.7 1094.6L650 1098.3L652.5 1103.2L653.8 1102.1L654 1102.6L662 1103.5L664 1100.9L670.1 1101.1L678.3 1099.9L686.4 1100.2L690 1100.8L693.9 1101.2L694.6 1101.3L702.7 1101.9L710 1101.2L710.9 1102.9L719 1109.2L722.7 1111.4L724.3 1110.8L727.2 1111L735.3 1111.5L743.5 1111.4L751.4 1112.1L751.6 1111.7L752 1111.4L759.8 1111.5L767.9 1110.6L774.2 1111.1L776.1 1111.7L780.2 1110.9L784.2 1107.2L785.3 1105.1L789.2 1102.6L789.7 1101.2L792.4 1101.8L800 1101.5L800.5 1102.2L808.7 1102.5L816.8 1101.6L825 1101L833.1 1100.6L833.4 1101.9L836 1105.1L841.3 1116L845 1125.1L849.4 1131.3L852.2 1134.4L857.6 1136.2L865.7 1135.5L873.9 1136.6L881.4 1136.8L882 1136.4L883.3 1136.5L883.8 1137.6M564.2 1137.7L564.4 1136.8L570.9 1141.3L571.6 1141.8L572.4 1142.5L580.5 1144.1L582 1145.9L586 1148.3L588.6 1148.6L596.8 1151.5L598.6 1147.5L604.9 1129.7L606 1125.8L607.6 1121.2L613.1 1112.3L618.3 1107.5L618.9 1106L621.2 1103.8L629.4 1100.6L632.7 1100.4L637.4 1097.1L637.5 1095L644.8 1093.1L645.3 1093.3L645.7 1093.8L650 1100.5L652.5 1105.1L653.8 1103.5L654 1103.1L662 1103.6L664 1103.5L670.1 1104.9L678.3 1103.9L686.4 1104.1L690 1104.9L693.9 1103.2L694.6 1104.1L702.7 1103.6L710 1105.5L710.9 1104.7L719 1108.5L722.7 1112.1L724.3 1111.4L727.2 1110.6L735.3 1110.2L743.5 1110.7L751.4 1111.1L751.6 1110.1L752 1110.4L759.8 1111.4L767.9 1111.2L774.2 1111L776.1 1111.8L780.2 1110.8L784.2 1107L785.3 1106.3L789.2 1101.8L789.7 1101.6L792.4 1102.4L800 1099.7L800.5 1102.3L808.7 1101.6L816.8 1103.5L825 1103.1L833.1 1103.2L833.4 1103.2L836 1107.1L841.3 1118.1L845 1125.3L849.4 1131.7L852.2 1136.4L857.6 1137.8L865.7 1137.9L873.9 1138.5L881.4 1137.5L882 1139L883.3 1136.6L883.8 1137.7L894.6 1137.7M564.2 1139.5L564.4 1137.4L570.9 1142.6L571.6 1144.3L572.4 1143.2L580.5 1145.1L582 1145.4L586 1147.3L588.6 1149L596.8 1150.4L598.6 1148L604.9 1129.2L606 1125.4L607.6 1120.2L613.1 1112.7L618.3 1104.5L618.9 1103.1L621.2 1099.8L629.4 1096.8L632.7 1098.1L637.4 1097.4L637.5 1094.7L644.8 1093.1L645.3 1093.8L645.7 1092.3L650 1100.7L652.5 1105.2L653.8 1104.4L654 1101.6L662 1102.4L664 1100.5L670.1 1102.3L678.3 1100.3L686.4 1100L690 1102.3L693.9 1102.2L694.6 1100.4L702.7 1099.9L710 1101.3L710.9 1102.3L719 1106.6L722.7 1109.1L724.3 1109.2L727.2 1109.3L735.3 1109.6L743.5 1110.2L751.4 1109.1L751.6 1109.9L752 1109.5L759.8 1110.5L767.9 1108.7L774.2 1108.5L776.1 1109.6L780.2 1109.8L784.2 1107.1L785.3 1107.2L789.2 1101.7L789.7 1101L792.4 1102.5L800 1100.6L800.5 1101L808.7 1102L816.8 1103.4L825 1102.1L833.1 1103.4L833.4 1103.5L836 1105.7L841.3 1116.7L845 1124.8L849.4 1131.4L852.2 1135.7L857.6 1137.3L865.7 1137.8L873.9 1137.8L881.4 1138.2L882 1138.4L883.3 1137.6L883.8 1139.1M564.2 1140.7L564.4 1139.3L570.9 1145.4L571.6 1145.7L572.4 1146.7L580.5 1146.9L582 1150L586 1152L588.6 1154L596.8 1155.3L598.6 1153.2L604.9 1134.7L606 1132.4L607.6 1127.3L613.1 1119.2L618.3 1112.4L618.9 1114.4L621.2 1111L629.4 1109.6L632.7 1108.8L637.4 1106L637.5 1105L644.8 1099.6L645.3 1100.2L645.7 1099.9L650 1107.5L652.5 1113.7L653.8 1112.8L654 1113.6L662 1114.3L664 1113.4L670.1 1115L678.3 1114.3L686.4 1113.8L690 1113.4L693.9 1112L694.6 1110.9L702.7 1112.3L710 1114.7L710.9 1115.3L719 1117.2L722.7 1118.9L724.3 1119.6L727.2 1121.1L735.3 1120.7L743.5 1121.3L751.4 1119.8L751.6 1119.4L752 1118.7L759.8 1118L767.9 1115.9L774.2 1115.8L776.1 1116.9L780.2 1115.9L784.2 1112.3L785.3 1111.8L789.2 1106.9L789.7 1105.8L792.4 1104.2L800 1104.4L800.5 1106.7L808.7 1106.3L816.8 1108.2L825 1107.8L833.1 1108.8L833.4 1107.9L836 1109.4L841.3 1121.4L845 1127.8L849.4 1135.9L852.2 1138.8L857.6 1138.3L865.7 1138L873.9 1137.6L881.4 1138.7L882 1139.2L883.3 1137.3L883.8 1139.7M564.2 1140.5L564.4 1141.3L570.9 1146.6L571.6 1146.5L572.4 1147L580.5 1147.8L582 1146.6L586 1148.5L588.6 1149.7L596.8 1151.3L598.6 1147.7L604.9 1128.9L606 1125.6L607.6 1120.6L613.1 1112.5L618.3 1106.4L618.9 1106.9L621.2 1106.6L629.4 1100L632.7 1098L637.4 1094.8L637.5 1096.5L644.8 1092.5L645.3 1093L645.7 1093.2L650 1098.3L652.5 1105.1L653.8 1105L654 1105.5L662 1104.7L664 1104.2L670.1 1105.3L678.3 1108.1L686.4 1108.6L690 1108.7L693.9 1107.1L694.6 1109.2L702.7 1112.4L710 1112.5L710.9 1114.3L719 1116.7L722.7 1119.3L724.3 1118.6L727.2 1118.5L735.3 1118.3L743.5 1117.7L751.4 1116.6L751.6 1116.6L752 1117L759.8 1117.7L767.9 1118.5L774.2 1117.8L776.1 1118.3L780.2 1118.2L784.2 1115.1L785.3 1113.9L789.2 1112.4L789.7 1110L792.4 1110.3L800 1111.2L800.5 1112.1L808.7 1112.4L816.8 1115L825 1115.7L833.1 1118.1L833.4 1118.2L836 1115.2L841.3 1126L845 1131.2L849.4 1136.8L852.2 1140.1L857.6 1140.6L865.7 1139.3L873.9 1139.5L881.4 1140.2L882 1140.1L883.3 1139.4L883.8 1140.5M564.2 1143.8L564.4 1143.5L570.9 1147.4L571.6 1148.3L572.4 1148.4L580.5 1150.5L582 1149.4L586 1149.4L588.6 1150.3L596.8 1153.6L598.6 1151.9L604.9 1133.7L606 1130.8L607.6 1129.1L613.1 1120.5L618.3 1113.7L618.9 1113.5L621.2 1111L629.4 1108.7L632.7 1108.3L637.4 1104.7L637.5 1102L644.8 1097.2L645.3 1095.8L645.7 1096.1L650 1105.3L652.5 1110L653.8 1109.1L654 1109L662 1110.3L664 1109.5L670.1 1111.6L678.3 1112L686.4 1113L690 1112.6L693.9 1109.7L694.6 1108.6L702.7 1107.6L710 1109.2L710.9 1108.8L719 1112.6L722.7 1115.9L724.3 1114.6L727.2 1117L735.3 1113.9L743.5 1113.4L751.4 1113.8L751.6 1114.3L752 1113L759.8 1115L767.9 1114.1L774.2 1117.3L776.1 1116.4L780.2 1116.7L784.2 1113.5L785.3 1112.4L789.2 1108.1L789.7 1107.2L792.4 1106.6L800 1107L800.5 1106L808.7 1106.9L816.8 1108L825 1108.8L833.1 1108.9L833.4 1109.9L836 1113.3L841.3 1124.2L845 1129.4L849.4 1135.7L852.2 1138.3L857.6 1139.7L865.7 1139.1L873.9 1140.3L881.4 1140.2L882 1140.6L883.3 1139.7L883.8 1142M564.2 1144.7L564.4 1144.4L570.9 1150.7L571.6 1151.2L572.4 1152.4L580.5 1157.5L582 1159.1L586 1158.6L588.6 1158.8L596.8 1160.5L598.6 1160.2L604.9 1139.6L606 1135.2L607.6 1130.4L613.1 1123.8L618.3 1115L618.9 1113.5L621.2 1109.5L629.4 1109.1L632.7 1108.9L637.4 1104.5L637.5 1106.3L644.8 1100.5L645.3 1100L645.7 1100.3L650 1108.5L652.5 1112.2L653.8 1111.8L654 1111.9L662 1111.6L664 1109.9L670.1 1111.9L678.3 1110.1L686.4 1110.6L690 1111.1L693.9 1111.9L694.6 1112.2L702.7 1112.4L710 1113.8L710.9 1114.4L719 1118.1L722.7 1121.8L724.3 1121.4L727.2 1122.1L735.3 1123.9L743.5 1123.9L751.4 1123L751.6 1123.3L752 1124.4L759.8 1125.8L767.9 1123.6L774.2 1122.6L776.1 1123.3L780.2 1122.8L784.2 1120.2L785.3 1118.5L789.2 1114.7L789.7 1114L792.4 1111.9L800 1112.1L800.5 1111L808.7 1113.9L816.8 1113.4L825 1113.1L833.1 1115.2L833.4 1114.5L836 1115.8L841.3 1124.4L845 1131.4L849.4 1136.3L852.2 1139.4L857.6 1139.9L865.7 1140.3L873.9 1139.6L881.4 1140.5L882 1140.1L883.3 1141.6L883.8 1142.9M564.2 1147.8L564.4 1146.4L570.9 1152.5L571.6 1154.7L572.4 1156.3L580.5 1155.1L582 1155.9L586 1156.7L588.6 1157.3L596.8 1159L598.6 1157.1L604.9 1137.8L606 1134.5L607.6 1128.4L613.1 1120L618.3 1113.5L618.9 1114.9L621.2 1112.5L629.4 1112.3L632.7 1112.5L637.4 1108.9L637.5 1107.1L644.8 1100.6L645.3 1100.5L645.7 1100.4L650 1106.6L652.5 1112.6L653.8 1114.7L654 1115.7L662 1115.1L664 1115.8L670.1 1116.7L678.3 1113.8L686.4 1115.3L690 1117.8L693.9 1115.7L694.6 1117.6L702.7 1118.1L710 1118.3L710.9 1118.8L719 1123.7L722.7 1124.7L724.3 1123L727.2 1124L735.3 1121.5L743.5 1121.3L751.4 1122.7L751.6 1118.9L752 1117L759.8 1118.8L767.9 1114.8L774.2 1116.5L776.1 1118.4L780.2 1116.1L784.2 1113.8L785.3 1113.8L789.2 1110.7L789.7 1109.9L792.4 1111.7L800 1112.5L800.5 1109.8L808.7 1110L816.8 1110.3L825 1111.3L833.1 1112.3L833.4 1111.7L836 1111.6L841.3 1123.5L845 1128.3L849.4 1138.6L852.2 1140.7L857.6 1142.8L865.7 1143.9L873.9 1143.3L881.4 1143.8L882 1142.8L883.3 1141.5L883.8 1143.1M564.2 1146.6L564.4 1147.7L570.9 1155L571.6 1155.1L572.4 1154.2L580.5 1157.2L582 1157.4L586 1157.6L588.6 1157.6L596.8 1160.8L598.6 1162L604.9 1143.5L606 1140.7L607.6 1137.1L613.1 1128.7L618.3 1122L618.9 1120L621.2 1119.2L629.4 1116.1L632.7 1115.1L637.4 1111.2L637.5 1111.3L644.8 1103.2L645.3 1101.6L645.7 1102.9L650 1112.4L652.5 1115.5L653.8 1118.9L654 1120.8L662 1121.5L664 1120.4L670.1 1120.2L678.3 1122.9L686.4 1122.2L690 1119.2L693.9 1119.8L694.6 1120.1L702.7 1120.1L710 1126.9L710.9 1127.1L719 1128.3L722.7 1130.1L724.3 1129.3L727.2 1128.7L735.3 1127.9L743.5 1128.8L751.4 1127.1L751.6 1127.8L752 1128.3L759.8 1126.8L767.9 1127.3L774.2 1126.4L776.1 1126.8L780.2 1126.5L784.2 1122.8L785.3 1122.1L789.2 1117.8L789.7 1119.4L792.4 1117.6L800 1118.4L800.5 1118.8L808.7 1119L816.8 1117.7L825 1117.1L833.1 1118.6L833.4 1119.6L836 1119.8L841.3 1127.4L845 1134.9L849.4 1139.8L852.2 1143.3L857.6 1144.6L865.7 1142.8L873.9 1145.4L881.4 1144.6L882 1145L883.3 1143.3L883.8 1144M564.2 1148.3L564.4 1149.5L570.9 1158.1L571.6 1157.1L572.4 1158.3L580.5 1160.4L582 1161.4L586 1164L588.6 1165.3L596.8 1167.6L598.6 1167.9L604.9 1147.7L606 1143.9L607.6 1139.1L613.1 1131.3L618.3 1124L618.9 1124.5L621.2 1124.2L629.4 1123.3L632.7 1122L637.4 1116.4L637.5 1116.8L644.8 1107L645.3 1106.6L645.7 1107.8L650 1118.4L652.5 1124.2L653.8 1123.7L654 1123.2L662 1124.3L664 1124.2L670.1 1123.9L678.3 1122.4L686.4 1121.7L690 1120L693.9 1117.3L694.6 1119.9L702.7 1121.7L710 1126.1L710.9 1124.1L719 1127.7L722.7 1127.4L724.3 1128L727.2 1128.8L735.3 1127.9L743.5 1128.3L751.4 1128.3L751.6 1128.3L752 1128.1L759.8 1127.3L767.9 1126.6L774.2 1125.3L776.1 1126.8L780.2 1126.5L784.2 1122.6L785.3 1121.8L789.2 1118.8L789.7 1119.4L792.4 1119.6L800 1120L800.5 1120.2L808.7 1119.7L816.8 1121.4L825 1121.9L833.1 1122.7L833.4 1122.2L836 1122.5L841.3 1131.4L845 1137.3L849.4 1142.4L852.2 1146.3L857.6 1145.6L865.7 1146.3L873.9 1145.6L881.4 1146.3L882 1146.2L883.3 1145.1L883.8 1145.8M564.2 1149.9L564.4 1150.6L570.9 1159L571.6 1160.7L572.4 1159L580.5 1162.5L582 1164L586 1163.4L588.6 1165.3L596.8 1165.9L598.6 1165.4L604.9 1147.7L606 1144.2L607.6 1137.6L613.1 1129.4L618.3 1124.7L618.9 1124.6L621.2 1124.2L629.4 1123.3L632.7 1122.9L637.4 1116.7L637.5 1116.7L644.8 1106.6L645.3 1106.3L645.7 1107.4L650 1118.3L652.5 1124.2L653.8 1124.6L654 1124.6L662 1124.1L664 1124.2L670.1 1123.9L678.3 1123.6L686.4 1123.2L690 1123.1L693.9 1122.4L694.6 1122.2L702.7 1125.1L710 1126.9L710.9 1126.7L719 1129.1L722.7 1129.2L724.3 1130L727.2 1129.8L735.3 1129L743.5 1127.7L751.4 1128.3L751.6 1128.3L752 1126.6L759.8 1127.3L767.9 1127.2L774.2 1126.9L776.1 1125.9L780.2 1126.5L784.2 1123.3L785.3 1122.5L789.2 1118.9L789.7 1118.1L792.4 1119.3L800 1120L800.5 1119.3L808.7 1120.9L816.8 1121.5L825 1121.7L833.1 1122.3L833.4 1122.7L836 1122.9L841.3 1131.4L845 1136L849.4 1142.4L852.2 1146.3L857.6 1146L865.7 1146.3L873.9 1146.3L881.4 1146.3L882 1145.9L883.3 1146L883.8 1145.8M637.4 934L644.8 924.8L651 948L665 951L672 957L680 956L690 960L698 965L711 966.6L725 979.4L752 979.5M652.5 1124.7L693.9 1128.3L726.3 1136.3L751.4 1134.8L780.2 1131.9L789.2 1126.5M564.4 1148L571 1152L585.7 1158L594.9 1156L599.7 1160L606 1139.2M882.8 1002.4H890.3M882.8 1004.7H894.6M882.8 1007.1H890.3M882.8 1013H890.3M882.8 1014.4H890.3M882.8 1015.9H890.3M882.8 1019.6H890.3M882.8 1027.5H894.6M882.8 1028.8H890.3M882.8 1031.3H890.3M882.8 1032.5H894.6M882.8 1033.7H890.3M882.8 1034.9H894.6M882.8 1036H890.3M882.8 1036.9H890.3M882.8 1038.3H890.3M882.8 1039.7H894.6M882.8 1040.9H890.3M882.8 1042.1H894.6M882.8 1043.4H890.3M882.8 1044.4H890.3M882.8 1045.5H890.3M882.8 1046.9H890.3M882.8 1048.3H890.3M882.8 1049.2H890.3M882.8 1050.2H894.6M882.8 1051.6H890.3M882.8 1052.6H890.3M882.8 1053.6H890.3M882.8 1055H890.3M882.8 1056.5H894.6M882.8 1057.8H890.3M882.8 1059.2H894.6M882.8 1060.3H890.3M882.8 1061.2H890.3M882.8 1062.5H890.3M882.8 1064H894.6M882.8 1064.9H890.3M882.8 1066.1H890.3M882.8 1067.5H890.3M882.8 1068.5H890.3M882.8 1070H890.3M882.8 1071.3H890.3M882.8 1072.3H890.3M882.8 1073.3H890.3M882.8 1074.8H890.3M882.8 1076.2H890.3M882.8 1077H894.6M882.8 1078.1H890.3M882.8 1079.6H890.3M882.8 1080.7H890.3M882.8 1081.5H890.3M882.8 1082.9H890.3M882.8 1084.3H890.3M882.8 1085.3H890.3M882.8 1086.5H894.6M882.8 1087.5H894.6M882.8 1088.4H890.3M882.8 1089.5H894.6M882.8 1090.7H894.6M882.8 1091.7H890.3M882.8 1092.8H894.6M882.8 1093.7H890.3M882.8 1094.8H890.3M882.8 1096.1H890.3M882.8 1097.6H890.3M882.8 1098.6H894.6M882.8 1099.7H890.3M882.8 1101.1H890.3M882.8 1102.4H890.3M882.8 1103.6H890.3M882.8 1104.9H894.6M882.8 1106H890.3M882.8 1107H890.3M882.8 1108.3H890.3M882.8 1109.3H890.3M882.8 1110.7H890.3M882.8 1111.7H890.3M882.8 1112.8H890.3M882.8 1115.8H894.6M882.8 1119.8H890.3M882.8 1133.4H890.3M882.8 1136.3H890.3M882.8 1138.4H894.6" fill="none" stroke="#b3b3b3" stroke-width="1.15" stroke-linejoin="round"/>
<path d="M564.2 1070.1C566.6 1070 573.5 1070.5 578.3 1069.7C583.1 1068.9 588.1 1068.2 593 1065.3C597.9 1062.4 602.9 1057.8 607.8 1052.3C612.7 1046.8 618.3 1036.9 622.6 1032C626.9 1027.1 630.7 1024.6 633.7 1022.8C636.7 1020.9 637.9 1020.6 640.4 1020.9C642.9 1021.2 644.7 1021.8 648.5 1024.6C652.3 1027.4 658.4 1034.1 663.3 1037.5C668.2 1040.9 673.2 1043.7 678.1 1044.9C683 1046.1 688.6 1045.1 692.9 1044.9C697.2 1044.7 699.7 1043.2 704 1043.8C708.3 1044.4 713.9 1046.6 718.8 1048.6C723.7 1050.6 728.6 1054.3 733.5 1056C738.4 1057.7 743.4 1058.7 748.3 1059C753.2 1059.3 757.5 1059 763.1 1057.9C768.7 1056.8 774.8 1054.3 781.6 1052.3C788.4 1050.3 797.6 1046.8 803.8 1046C810 1045.2 813.1 1046.1 818.6 1047.5C824.1 1048.9 830.2 1051.5 837 1054.2C843.8 1056.9 852.4 1061.1 859.2 1063.4C866 1065.7 871.8 1066.8 877.7 1067.9C883.6 1069 891.6 1069.7 894.4 1070.1" fill="none" stroke="#ff0000" stroke-width="5.2" stroke-linejoin="round"/>
<rect x="548.4" y="911.9" width="361.1" height="296.5" fill="none" stroke="#333333" stroke-width="3.0"/>
<rect x="548.4" y="850.4" width="361.1" height="59.5" fill="#d9d9d9" stroke="#333333" stroke-width="3.0"/>
</g>
<g id="panel-g">
<rect x="161.5" y="1294.5" width="361.1" height="109" fill="#fff"/>
<rect x="161.5" y="1294.5" width="361.1" height="109" fill="none" stroke="#333333" stroke-width="3.0"/>
<rect x="161.5" y="1232.4" width="361.1" height="60.2" fill="#d9d9d9" stroke="#333333" stroke-width="3.0"/>
</g>
<g id="panel-h">
<rect x="548.4" y="1294.5" width="361.1" height="109" fill="#fff"/>
<rect x="548.4" y="1294.5" width="361.1" height="109" fill="none" stroke="#333333" stroke-width="3.0"/>
<rect x="548.4" y="1232.4" width="361.1" height="60.2" fill="#d9d9d9" stroke="#333333" stroke-width="3.0"/>
</g>
<path d="M177.6 1345.2C178.5 1342.4 181.2 1333.4 183 1328.2C184.8 1323 186.5 1318 188.4 1313.8C190.3 1309.6 192.1 1305.5 194.7 1303C197.2 1300.5 200.8 1298.7 203.7 1298.7C206.5 1298.7 209.3 1300.5 211.8 1303C214.3 1305.5 216.5 1309.8 218.9 1313.8C221.3 1317.8 223.6 1322.7 226.1 1327.3C228.6 1331.9 231.5 1337.1 234.2 1341.6C236.9 1346.1 239.5 1350.6 242.3 1354.2C245.2 1357.8 248 1360.6 251.3 1363.2C254.6 1365.8 258.5 1368.1 262.1 1369.9C265.7 1371.7 268.7 1372.5 272.9 1374C277.1 1375.5 282.5 1377.1 287.3 1378.9C292.1 1380.7 296.9 1383.1 301.7 1385C306.5 1386.9 311.2 1388.8 316 1390.2C320.8 1391.6 325.6 1392.5 330.4 1393.4C335.2 1394.3 339.8 1394.9 344.8 1395.6C349.8 1396.2 353.7 1396.8 360.4 1397.3C367.1 1397.8 373.4 1398.2 385 1398.4C396.6 1398.7 409.6 1398.7 430 1398.8C450.4 1398.9 494.7 1399 507.6 1399" fill="none" stroke="#0000ff" stroke-width="5.2" stroke-linejoin="round"/>
<path d="M564.3 1384.3C566.4 1381.5 572.7 1372 576.7 1367.5C580.7 1363 584.5 1359.4 588.4 1357C592.3 1354.6 594.9 1354.1 600.1 1353.1C605.3 1352.1 613.1 1352 619.6 1351.2C626.1 1350.4 633.2 1348.8 639.1 1348C645 1347.2 650.2 1346 654.7 1346.1C659.2 1346.2 661.9 1346.5 666.4 1348.8C670.9 1351.1 676.7 1355.5 681.9 1359.7C687.1 1363.9 692.3 1370.5 697.5 1374.1C702.7 1377.7 707.2 1380 713.1 1381.5C719 1383 727.1 1383 732.6 1383.3C738.1 1383.6 741.9 1383.5 746 1383.5C750.1 1383.5 753.7 1383.5 757 1383.6C760.3 1383.7 761.5 1383.5 766 1384.2C770.5 1384.9 778 1386.5 784 1387.7C790 1388.9 796 1390.3 802 1391.3C808 1392.2 811 1392.7 820 1393.4C829 1394.1 843.6 1394.9 856 1395.7C868.4 1396.5 887.9 1397.8 894.3 1398.2" fill="none" stroke="#0000ff" stroke-width="5.2" stroke-linejoin="round"/>
<text x="176.6" y="122.2" font-size="35.5" font-weight="bold">a</text>
<text x="342.4" y="118.9" font-size="25.9" text-anchor="middle">Tropical N-limited</text>
<text x="559.6" y="125.2" font-size="35.5" font-weight="bold">b</text>
<text x="729.3" y="118.9" font-size="25.9" text-anchor="middle">Tropical N-saturated</text>
<text x="176.9" y="506" font-size="35.5" font-weight="bold">c</text>
<text x="343" y="502.9" font-size="25.9" text-anchor="middle">Temperate N-limited</text>
<text x="559.8" y="509.5" font-size="35.5" font-weight="bold">d</text>
<text x="729.8" y="502.9" font-size="25.9" text-anchor="middle">Temperate N-saturated</text>
<text x="177.6" y="889" font-size="35.5" font-weight="bold">e</text>
<text x="342.6" y="888.6" font-size="25.9" text-anchor="middle">Boreal N-limited</text>
<text x="560.8" y="892.9" font-size="35.5" font-weight="bold">f</text>
<text x="729.2" y="888.6" font-size="25.9" text-anchor="middle">Boreal N-saturated</text>
<text x="176.6" y="1269.3" font-size="35.5" font-weight="bold">g</text>
<text x="342.3" y="1271.2" font-size="25.9" text-anchor="middle">N-limited</text>
<text x="558.7" y="1275" font-size="35.5" font-weight="bold">h</text>
<text x="729.1" y="1271.2" font-size="25.9" text-anchor="middle">N-saturated</text>
<text x="139.7" y="241.7" font-size="35" text-anchor="end">5000</text>
<text x="139.7" y="309.9" font-size="35" text-anchor="end">0</text>
<text x="139.7" y="377.6" font-size="35" text-anchor="end">-5000</text>
<text x="139.7" y="626.1" font-size="35" text-anchor="end">5000</text>
<text x="139.7" y="694.3" font-size="35" text-anchor="end">0</text>
<text x="139.7" y="762" font-size="35" text-anchor="end">-5000</text>
<text x="139.7" y="1010.2" font-size="35" text-anchor="end">5000</text>
<text x="139.7" y="1078.4" font-size="35" text-anchor="end">0</text>
<text x="139.7" y="1146.1" font-size="35" text-anchor="end">-5000</text>
<text x="139.7" y="1330.7" font-size="35" text-anchor="end">5</text>
<text x="100.8" y="1330.7" font-size="35" text-anchor="end">0.</text>
<text x="139.7" y="1411.7" font-size="35" text-anchor="end">0.00</text>
<path d="M763 0H583V1147Q518 1085 412.5 1023Q307 961 223 930V1104Q374 1175 487 1276Q600 1377 647 1472H763Z" transform="translate(100.8 1330.7) scale(0.01709 -0.01709)"/>
<text x="171.1" y="1449.3" font-size="35" text-anchor="end">0</text>
<text x="252.4" y="1449.3" font-size="35" text-anchor="end">5</text>
<path d="M763 0H583V1147Q518 1085 412.5 1023Q307 961 223 930V1104Q374 1175 487 1276Q600 1377 647 1472H763Z" transform="translate(295.1 1449.3) scale(0.01709 -0.01709)"/>
<text x="334" y="1449.3" font-size="35" text-anchor="end">0</text>
<path d="M763 0H583V1147Q518 1085 412.5 1023Q307 961 223 930V1104Q374 1175 487 1276Q600 1377 647 1472H763Z" transform="translate(376.7 1449.3) scale(0.01709 -0.01709)"/>
<text x="415.6" y="1449.3" font-size="35" text-anchor="end">5</text>
<text x="496.8" y="1449.3" font-size="35" text-anchor="end">20</text>
<text x="558.1" y="1449.3" font-size="35" text-anchor="end">0</text>
<text x="639.4" y="1449.3" font-size="35" text-anchor="end">5</text>
<path d="M763 0H583V1147Q518 1085 412.5 1023Q307 961 223 930V1104Q374 1175 487 1276Q600 1377 647 1472H763Z" transform="translate(682.1 1449.3) scale(0.01709 -0.01709)"/>
<text x="721" y="1449.3" font-size="35" text-anchor="end">0</text>
<path d="M763 0H583V1147Q518 1085 412.5 1023Q307 961 223 930V1104Q374 1175 487 1276Q600 1377 647 1472H763Z" transform="translate(763.7 1449.3) scale(0.01709 -0.01709)"/>
<text x="802.6" y="1449.3" font-size="35" text-anchor="end">5</text>
<text x="883.8" y="1449.3" font-size="35" text-anchor="end">20</text>
<text x="293.4" y="1490.8" font-size="34.7">N deposition rate (kgN ha<tspan font-size="22.2" dy="-14.1">-<tspan style="fill:none">1</tspan></tspan><tspan dy="14.1"> yr</tspan><tspan font-size="22.2" dy="-14.1">-<tspan style="fill:none">1</tspan></tspan><tspan dy="14.1">)</tspan></text>
<path d="M763 0H583V1147Q518 1085 412.5 1023Q307 961 223 930V1104Q374 1175 487 1276Q600 1377 647 1472H763Z" transform="translate(694.1 1476.7) scale(0.01084 -0.01084)"/>
<path d="M763 0H583V1147Q518 1085 412.5 1023Q307 961 223 930V1104Q374 1175 487 1276Q600 1377 647 1472H763Z" transform="translate(752.4 1476.7) scale(0.01084 -0.01084)"/>
<text transform="translate(30 433.8) rotate(-90)" font-size="35">&#916;<tspan dx="-2.5">SR</tspan><tspan font-size="22.2" dy="6.8">N</tspan><tspan dy="-6.8"> (kgCO</tspan><tspan font-size="22.2" dy="6.8" dx="-1.5">2</tspan><tspan dy="-6.8"> ha</tspan><tspan font-size="22.2" dy="-14.1">-<tspan style="fill:none">1</tspan></tspan><tspan dy="14.1"> yr</tspan><tspan font-size="22.2" dy="-14.1">-<tspan style="fill:none">1</tspan></tspan><tspan dy="14.1" dx="1.2">)</tspan></text>
<g transform="translate(30 433.8) rotate(-90)">
<path d="M763 0H583V1147Q518 1085 412.5 1023Q307 961 223 930V1104Q374 1175 487 1276Q600 1377 647 1472H763Z" transform="translate(263.3 -14.1) scale(0.01084 -0.01084)"/>
<path d="M763 0H583V1147Q518 1085 412.5 1023Q307 961 223 930V1104Q374 1175 487 1276Q600 1377 647 1472H763Z" transform="translate(321.9 -14.1) scale(0.01084 -0.01084)"/>
</g>
<text transform="translate(30 818.2) rotate(-90)" font-size="35">&#916;<tspan dx="-2.5">SR</tspan><tspan font-size="22.2" dy="6.8">N</tspan><tspan dy="-6.8"> (kgCO</tspan><tspan font-size="22.2" dy="6.8" dx="-1.5">2</tspan><tspan dy="-6.8"> ha</tspan><tspan font-size="22.2" dy="-14.1">-<tspan style="fill:none">1</tspan></tspan><tspan dy="14.1"> yr</tspan><tspan font-size="22.2" dy="-14.1">-<tspan style="fill:none">1</tspan></tspan><tspan dy="14.1" dx="1.2">)</tspan></text>
<g transform="translate(30 818.2) rotate(-90)">
<path d="M763 0H583V1147Q518 1085 412.5 1023Q307 961 223 930V1104Q374 1175 487 1276Q600 1377 647 1472H763Z" transform="translate(263.3 -14.1) scale(0.01084 -0.01084)"/>
<path d="M763 0H583V1147Q518 1085 412.5 1023Q307 961 223 930V1104Q374 1175 487 1276Q600 1377 647 1472H763Z" transform="translate(321.9 -14.1) scale(0.01084 -0.01084)"/>
</g>
<text transform="translate(30 1202.3) rotate(-90)" font-size="35">&#916;<tspan dx="-2.5">SR</tspan><tspan font-size="22.2" dy="6.8">N</tspan><tspan dy="-6.8"> (kgCO</tspan><tspan font-size="22.2" dy="6.8" dx="-1.5">2</tspan><tspan dy="-6.8"> ha</tspan><tspan font-size="22.2" dy="-14.1">-<tspan style="fill:none">1</tspan></tspan><tspan dy="14.1"> yr</tspan><tspan font-size="22.2" dy="-14.1">-<tspan style="fill:none">1</tspan></tspan><tspan dy="14.1" dx="1.2">)</tspan></text>
<g transform="translate(30 1202.3) rotate(-90)">
<path d="M763 0H583V1147Q518 1085 412.5 1023Q307 961 223 930V1104Q374 1175 487 1276Q600 1377 647 1472H763Z" transform="translate(263.3 -14.1) scale(0.01084 -0.01084)"/>
<path d="M763 0H583V1147Q518 1085 412.5 1023Q307 961 223 930V1104Q374 1175 487 1276Q600 1377 647 1472H763Z" transform="translate(321.9 -14.1) scale(0.01084 -0.01084)"/>
</g>
<text transform="translate(30 1443.8) rotate(-90)" font-size="34.5">Stat. density</text>
</svg></body></html>
